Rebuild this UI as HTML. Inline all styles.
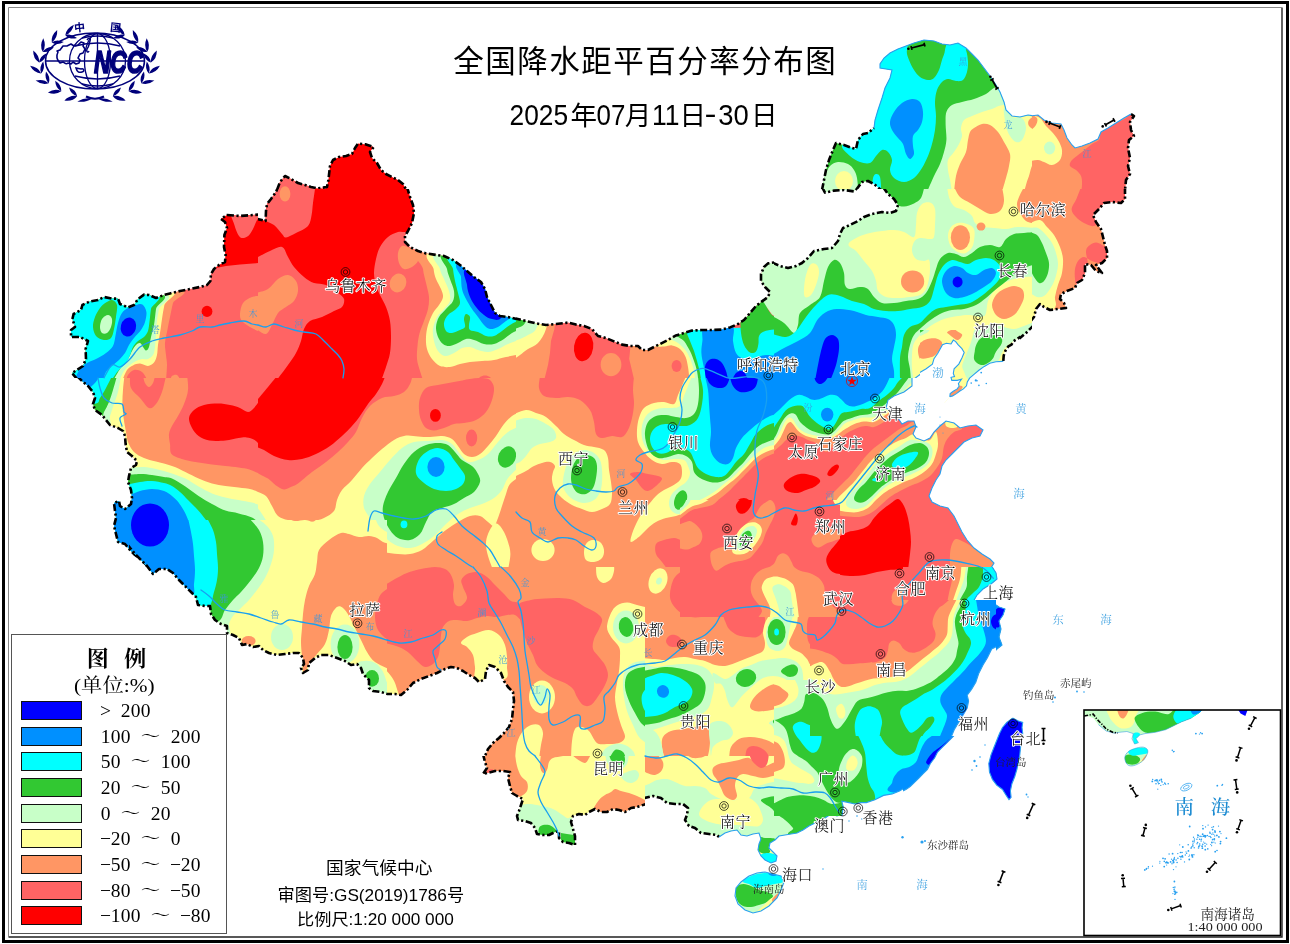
<!DOCTYPE html>
<html lang="zh"><head><meta charset="utf-8"><title>全国降水距平百分率分布图</title>
<style>
html,body{margin:0;padding:0;background:#fff;}
body{width:1290px;height:944px;overflow:hidden;position:relative;font-family:"Liberation Sans","Noto Sans CJK SC",sans-serif;}
svg{position:absolute;left:0;top:0;display:block;}
.nb{fill:none;stroke:#000;stroke-width:2.6;stroke-dasharray:7 2.5 2.2 2.5;stroke-linejoin:round;}
.cb{fill:none;stroke:#28a0f0;stroke-width:1.1;}
.rv{fill:none;stroke:#18a0f0;stroke-width:1.3;stroke-linejoin:round;stroke-linecap:round;}
.pv{fill:none;stroke:#666;stroke-width:0.5;stroke-dasharray:7 3 1 3;}
</style></head><body>
<svg width="1290" height="944" viewBox="0 0 1290 944">
<rect x="0" y="0" width="1290" height="944" fill="#fff"/>
<clipPath id="tc0"><rect x="0" y="189" width="258" height="189"/></clipPath>
<clipPath id="tl0"><path d="M77 379L72 373L77 370L83 366L86 359L85.6 349L88 341L80 337L71 337L71 330L75 327L72.4 319L73.6 314L81 310L82.4 305L90 301.4L98 300L104 297L112 298.6L118 298.6L120 304L128 307.4L134 305L138 299L144 294.6L149 295L156 298L164 295L170 293.4L180 291L190 289L200 287L207 285L210.4 281L211 274L214 269L219 265L225 262L225.6 255L224 247L224.4 235L227 228L225 222L221 219L227 215L240 216L259 214.6L260 379Z"/></clipPath>
<g clip-path="url(#tc0)">
<g clip-path="url(#tl0)">
<rect x="-1" y="188" width="260" height="191" fill="#ff6464"/>
<path d="M216 209L264 209L264 262.6L240 264.6L226 266L216 268Z" fill="#ff0000"/>
<path d="M232 209C227.7 211.7 233.2 220.5 234.4 225C235.6 229.5 237.4 233.8 239 236C240.6 238.2 242.2 238.3 244 238C245.8 237.7 248.1 236.5 250 234C251.9 231.5 253.9 227.2 255.6 223C257.3 218.8 263.9 211.3 260 209C256.1 206.7 236.3 206.3 232 209Z" fill="#ff6464"/>
<ellipse cx="207" cy="311.4" rx="5.4" ry="5.6" fill="#ff0000"/>
<path d="M240 314C240.2 311 241 305.8 243 303C245 300.2 248.8 298.2 252 297C255.2 295.8 259.7 296.2 262 296L262 333C259.2 331.6 253.3 329 250 327C246.7 325 243.7 323.2 242 321C240.3 318.8 239.8 317 240 314Z" fill="#ff9664"/>
<path d="M177 289C195.8 291.3 174.2 298.3 173 303C171.8 307.7 170.9 312.7 170 317C169.1 321.3 168.4 324.7 167.6 329C166.8 333.3 165.3 338.7 165 343C164.7 347.3 165.7 351.3 166 355C166.3 358.7 167 360.7 167 365C167 369.3 166.2 377.3 166 381L60 381C60 359.5 40.5 304.3 60 289C79.5 273.7 158.2 286.7 177 289Z" fill="#ff9664"/>
<path d="M128 375C129.3 373.2 131.7 370.5 134 370C136.3 369.5 139.7 370.2 142 372C144.3 373.8 146.6 378.9 148 381L126 381C126.5 379.6 126.7 376.8 128 375Z" fill="#ff6464"/>
<path d="M170 381C170.5 379.8 170.8 377 172 376C173.2 375 175.5 374.2 177 375C178.5 375.8 180.1 379.6 181 381L170 381Z" fill="#ff9664"/>
<path d="M168 289C185.4 291.7 165.4 300 164.4 305C163.4 310 162.7 314.3 162 319C161.3 323.7 160.7 328.7 160 333C159.3 337.3 158.5 341.3 158 345C157.5 348.7 157.7 352.1 157 355C156.3 357.9 155.5 360.8 154 362.6C152.5 364.4 150.3 365.8 148 366C145.7 366.2 142.5 363.7 140 363.6C137.5 363.5 135.2 364.3 133 365.4C130.8 366.5 128.8 367.4 127 370C125.2 372.6 123.2 378.4 122 381L60 381C60 359.5 42 304.3 60 289C78 273.7 150.6 286.3 168 289Z" fill="#ffff96"/>
<path d="M162.4 293C178.9 296.3 159.9 304.3 159 309C158.1 313.7 157.5 317 157 321C156.5 325 156.3 328.7 156 333C155.7 337.3 155.5 343.3 155 347C154.5 350.7 154.2 353 153 355C151.8 357 149.8 358.3 148 359C146.2 359.7 144 358.7 142 359C140 359.3 138 360 136 361C134 362 132 363.3 130 365C128 366.7 125.8 368.3 124 371C122.2 373.7 120.2 378.7 119 381L60 381C60 359.5 42.9 303.7 60 289C77.1 274.3 145.9 289.7 162.4 293Z" fill="#c8ffc8"/>
<path d="M158.4 293C174.4 296.3 156.7 303.7 156 309C155.3 314.3 154.8 320.3 154 325C153.2 329.7 151.8 333.3 151 337C150.2 340.7 149.8 344.7 149 347C148.2 349.3 147 350.6 146 350.6C145 350.6 144 348.3 143 347C142 345.7 141.2 343.3 140 343C138.8 342.7 137.3 343.7 136 345C134.7 346.3 133.3 348.7 132 351C130.7 353.3 130 356 128 359C126 362 122.5 365.3 120 369C117.5 372.7 114.6 378.2 113 381L60 381C60 359.5 43.6 303.7 60 289C76.4 274.3 142.4 289.7 158.4 293Z" fill="#32c832"/>
<path d="M153.6 293C168.8 296.3 151.7 304.3 151 309C150.3 313.7 150.1 317.3 149.6 321C149.1 324.7 148.9 328.3 148 331C147.1 333.7 145.7 335.3 144 337C142.3 338.7 139.8 339.3 138 341C136.2 342.7 134.3 344.7 133 347C131.7 349.3 131.2 352.3 130 355C128.8 357.7 128 360.3 126 363C124 365.7 120.5 368 118 371C115.5 374 112.6 378.7 111 381L60 381C60 359.5 44.4 303.7 60 289C75.6 274.3 138.4 289.7 153.6 293Z" fill="#00ffff"/>
<path d="M112 300C113.8 300.4 116.3 302.2 117 305C117.7 307.8 116.5 313 116 317C115.5 321 114.8 325.5 114 329C113.2 332.5 112.7 336.2 111 338C109.3 339.8 106.5 340.3 104 340C101.5 339.7 97.8 338.2 96 336C94.2 333.8 93.2 330.2 93 327C92.8 323.8 93.8 320.2 95 317C96.2 313.8 98.2 310.4 100 308C101.8 305.6 104 303.9 106 302.6C108 301.3 110.2 299.6 112 300Z" fill="#32c832"/>
<path d="M108 315C109.7 315 111.5 317 112 319C112.5 321 111.8 324.7 111 327C110.2 329.3 108.5 332 107 333C105.5 334 103.2 334 102 333C100.8 332 100 329.3 100 327C100 324.7 100.7 321 102 319C103.3 317 106.3 315 108 315Z" fill="#c8ffc8"/>
<path d="M128 308C130.3 306.7 133.6 305.6 136 305C138.4 304.4 140.7 303.4 142.4 304.6C144.1 305.8 146 309.1 146.4 312C146.8 314.9 145.9 319 145 322C144.1 325 142.8 327.3 141 330C139.2 332.7 136 335.5 134 338C132 340.5 130.5 342.5 129 345C127.5 347.5 126.7 350.5 125 353C123.3 355.5 121.2 357.8 119 360C116.8 362.2 114.2 364 112 366C109.8 368 107.5 369.5 106 372C104.5 374.5 103.7 378.9 103 381L74 381C75.4 378.2 77.7 372.1 80 369C82.3 365.9 85.3 364.3 88 362.6C90.7 360.9 93 360.6 96 359C99 357.4 103.2 355.2 106 353C108.8 350.8 111.4 349 113 346C114.6 343 114.8 338.8 115.6 335C116.4 331.2 116.9 326.7 118 323C119.1 319.3 120.3 315.5 122 313C123.7 310.5 125.7 309.3 128 308Z" fill="#0090ff"/>
<ellipse cx="128.4" cy="327" rx="7.6" ry="9.6" fill="#0000ff" transform="rotate(15 128.4 327)"/>
</g>
<path class="nb" d="M77 379L72 373L77 370L83 366L86 359L85.6 349L88 341L80 337L71 337L71 330L75 327L72.4 319L73.6 314L81 310L82.4 305L90 301.4L98 300L104 297L112 298.6L118 298.6L120 304L128 307.4L134 305L138 299L144 294.6L149 295L156 298L164 295L170 293.4L180 291L190 289L200 287L207 285L210.4 281L211 274L214 269L219 265L225 262L225.6 255L224 247L224.4 235L227 228L225 222L221 219L227 215L240 216L259 214.6"/>
</g>
<clipPath id="tc1"><rect x="258" y="189" width="258" height="189"/></clipPath>
<clipPath id="tl1"><path d="M256 218.6L265.6 221L266 211L267 204L271 199L276 192L278 187L407 187L410 197L413 205L414 213L412 223L408 231L405 236L405 242L410 247L418 251L426 253.4L434 254.6L444 256L453 260L460 265L467 271L474 277L481 282L485 289L487 297L491 305L495 313L500 316L508 317L518 319.4L518 381L256 381Z"/></clipPath>
<g clip-path="url(#tc1)">
<g clip-path="url(#tl1)">
<rect x="257" y="188" width="260" height="191" fill="#ff6464"/>
<path d="M254 217L254 259C257.7 257.1 265.3 253 270 251C274.7 249 279 246 282 247C285 248 286 253.7 288 257C290 260.3 291.3 263.7 294 267C296.7 270.3 300.7 274.3 304 277C307.3 279.7 310.3 281.7 314 283C317.7 284.3 322 283.3 326 285C330 286.7 335 290.7 338 293C341 295.3 343.3 296.7 344 299C344.7 301.3 343.7 305 342 307C340.3 309 337.3 309.3 334 311C330.7 312.7 326 315.3 322 317C318 318.7 313 319 310 321C307 323 305.5 325.7 304 329C302.5 332.3 302.3 337 301 341C299.7 345 298.2 349 296 353C293.8 357 291.3 360.3 288 365C284.7 369.7 278.8 377.3 276 381L381 381C382.2 377.7 384.5 371.7 386 367C387.5 362.3 389.2 358 390 353C390.8 348 391 342.3 391 337C391 331.7 390.8 326 390 321C389.2 316 387.7 311.3 386 307C384.3 302.7 381.7 298.7 380 295C378.3 291.3 377 288.7 376 285C375 281.3 374 277.3 374 273C374 268.7 375 263.3 376 259C377 254.7 378 250.7 380 247C382 243.3 385 239.5 388 237C391 234.5 394.3 233.2 398 232C401.7 230.8 406.7 233.8 410 230C413.3 226.2 417.3 216.5 418 209C418.7 201.5 414.9 190.6 414 185L254 185L254 217Z" fill="#ff0000"/>
<path d="M262 219C265.3 221.7 270.7 222.5 274 225C277.3 227.5 280 231.9 282 234C284 236.1 283.7 237.6 286 237.4C288.3 237.2 292.3 234.9 296 233C299.7 231.1 305.4 229 308 226C310.6 223 310.8 218.8 311.6 215C312.4 211.2 312.3 208 313 203C313.7 198 315 189.2 315.6 185L254 185L254 209C255.9 211.3 258.7 216.3 262 219Z" fill="#ff6464"/>
<ellipse cx="285" cy="194" rx="5.4" ry="7.6" fill="#ff9664"/>
<path d="M256 293C258.8 292.1 264.3 291.3 268 289C271.7 286.7 274.7 281.3 278 279C281.3 276.7 285 274.7 288 275C291 275.3 294.3 278.3 296 281C297.7 283.7 298.3 287.7 298 291C297.7 294.3 296 298.3 294 301C292 303.7 288.7 305 286 307C283.3 309 280.3 310 278 313C275.7 316 274 321.5 272 325C270 328.5 268.7 333.3 266 334C263.3 334.7 258.3 330.2 256 329L256 293Z" fill="#ff9664"/>
<path d="M402 246C404 245.2 407.3 246.8 410 248C412.7 249.2 416.7 250.8 418 253C419.3 255.2 419 258.7 418 261C417 263.3 414.3 265.7 412 267C409.7 268.3 406.2 269.7 404 269C401.8 268.3 400 265.7 399 263C398 260.3 397.5 255.8 398 253C398.5 250.2 400 246.8 402 246Z" fill="#ff9664"/>
<ellipse cx="398" cy="283" rx="8.2" ry="9.6" fill="#ff9664" transform="rotate(20 398 283)"/>
<path d="M422.4 249C405.9 252.3 422.4 263.3 423 269C423.6 274.7 425 278.3 426 283C427 287.7 428.7 292.7 429 297C429.3 301.3 428.8 305 428 309C427.2 313 425.4 317 424 321C422.6 325 420.7 329 419.6 333C418.5 337 418 340.7 417.6 345C417.2 349.3 416.6 354.7 417 359C417.4 363.3 418.8 367 420 371C421.2 375 423.1 380.2 424 383L522 383L522 249C498.8 249 438.9 245.7 422.4 249Z" fill="#ff9664"/>
<path d="M478 381C478.5 380.1 478.8 377.9 480 377C481.2 376.1 483.3 375.4 485 375.4C486.7 375.4 488.8 376.1 490 377C491.2 377.9 491.5 380.1 492 381L478 381Z" fill="#ff6464"/>
<path d="M433 251C418.3 254.3 433.1 264.3 433.6 269C434.1 273.7 434.8 275.7 436 279C437.2 282.3 439.8 286 441 289C442.2 292 443.3 294.3 443 297C442.7 299.7 440.7 302.3 439 305C437.3 307.7 434.8 309.7 433 313C431.2 316.3 429.2 321 428 325C426.8 329 426.2 333 426 337C425.8 341 426 345.3 427 349C428 352.7 429.8 356.2 432 359C434.2 361.8 437 364.7 440 366C443 367.3 446.7 367.3 450 367C453.3 366.7 456.7 364.8 460 364C463.3 363.2 466.3 362.5 470 362C473.7 361.5 478 361.3 482 361C486 360.7 490 360.7 494 360C498 359.3 501.3 358 506 357C510.7 356 518.3 354.7 522 354L522 249C501.2 249.5 447.7 247.7 433 251Z" fill="#ffff96"/>
<path d="M439 251C425.3 254.3 439.2 264.3 440 269C440.8 273.7 442.5 275.3 444 279C445.5 282.7 448 287.3 449 291C450 294.7 450.8 298 450 301C449.2 304 446.2 306.3 444 309C441.8 311.7 438.8 313.7 437 317C435.2 320.3 433.5 325 433 329C432.5 333 433.2 337.3 434 341C434.8 344.7 436.2 348.5 438 351C439.8 353.5 442.3 355.7 445 356C447.7 356.3 451.2 354.3 454 353C456.8 351.7 459.3 349 462 348C464.7 347 467.3 346.7 470 347C472.7 347.3 475 349.2 478 350C481 350.8 484.7 352.2 488 352C491.3 351.8 494.7 350.3 498 349C501.3 347.7 504 345.7 508 344C512 342.3 518.7 340.2 522 339L522 249C502.6 249.5 452.7 247.7 439 251Z" fill="#c8ffc8"/>
<path d="M446 251C433.5 254.3 446.3 264.3 447 269C447.7 273.7 448.8 275.3 450 279C451.2 282.7 453.5 287.3 454 291C454.5 294.7 454.3 298 453 301C451.7 304 448.3 306.3 446 309C443.7 311.7 440.7 314 439 317C437.3 320 436.2 323.7 436 327C435.8 330.3 436.8 334.2 438 337C439.2 339.8 441 342.5 443 344C445 345.5 447.5 346.2 450 346C452.5 345.8 455.3 344.2 458 343C460.7 341.8 463.3 339.5 466 339C468.7 338.5 471 339.2 474 340C477 340.8 480.7 343.3 484 344C487.3 344.7 490.7 344.8 494 344C497.3 343.2 501 340.8 504 339C507 337.2 509 334.8 512 333C515 331.2 519.7 329.2 522 328L522 249C504.3 249.5 458.5 247.7 446 251Z" fill="#32c832"/>
<path d="M452 253C440.5 256.3 452.5 264.3 453 269C453.5 273.7 454.2 277 455 281C455.8 285 457.2 289.3 458 293C458.8 296.7 460.3 300.3 460 303C459.7 305.7 458 307 456 309C454 311 450 312.7 448 315C446 317.3 444.3 320.3 444 323C443.7 325.7 444.7 329.3 446 331C447.3 332.7 449.7 333.2 452 333C454.3 332.8 457.8 331 460 330C462.2 329 464.3 328.8 465 327C465.7 325.2 463.8 321.2 464 319C464.2 316.8 465 314.3 466 314C467 313.7 469.5 315.2 470 317C470.5 318.8 469 322.8 469 325C469 327.2 468.5 328.8 470 330C471.5 331.2 475.3 331 478 332C480.7 333 483.3 335.3 486 336C488.7 336.7 491.3 336.8 494 336C496.7 335.2 499.3 332.8 502 331C504.7 329.2 506.7 327 510 325C513.3 323 519.2 320.4 522 319L522 249C505.7 249.9 463.5 249.7 452 253Z" fill="#00ffff"/>
<path d="M460 261C450.5 265.7 460.7 272.3 461 277C461.3 281.7 461.2 285.3 462 289C462.8 292.7 464.3 295.7 466 299C467.7 302.3 470 306 472 309C474 312 476 314.3 478 317C480 319.7 482 323 484 325C486 327 487.7 328.7 490 329C492.3 329.3 495.3 328.3 498 327C500.7 325.7 502.7 323.3 506 321C509.3 318.7 515.2 314.9 518 313L518 249C504.5 251.8 469.5 256.3 460 261Z" fill="#0090ff"/>
<path d="M468 269C459.5 268.3 466.7 280.3 467 285C467.3 289.7 468.5 293.3 470 297C471.5 300.7 473.7 304 476 307C478.3 310 481.3 313 484 315C486.7 317 489 318.7 492 319C495 319.3 497.7 322 502 317C506.3 312 523.7 297 518 289C512.3 281 476.5 269.7 468 269Z" fill="#0000ff"/>
</g>
<path class="nb" d="M256 218.6L265.6 221L266 211L267 204L271 199L276 192L278 187"/>
<path class="nb" d="M407 187L410 197L413 205L414 213L412 223L408 231L405 236L405 242L410 247L418 251L426 253.4L434 254.6L444 256L453 260L460 265L467 271L474 277L481 282L485 289L487 297L491 305L495 313L500 316L508 317L518 319.4"/>
</g>
<clipPath id="tc2"><rect x="258" y="0" width="258" height="189"/></clipPath>
<clipPath id="tl2"><path d="M277 190L280 182L285 176L291 179L298 183L305 185L311 187L318 188.4L327 187L328.4 180L330 166L333 160L339 157L346 156L352 154L355 148L358 143.6L366 144.4L373.6 147L370 152L372 158L377 163L381 170L386 174L392 177L398 180L403 184L406.4 190Z"/></clipPath>
<g clip-path="url(#tc2)">
<g clip-path="url(#tl2)">
<rect x="257" y="-1" width="260" height="191" fill="#ff0000"/>
<path d="M274 192L274 172L326 172L326 192Z" fill="#ff6464"/>
<ellipse cx="285" cy="193.8" rx="5.4" ry="7.6" fill="#ff9664"/>
</g>
<path class="nb" d="M277 190L280 182L285 176L291 179L298 183L305 185L311 187L318 188.4L327 187L328.4 180L330 166L333 160L339 157L346 156L352 154L355 148L358 143.6L366 144.4L373.6 147L370 152L372 158L377 163L381 170L386 174L392 177L398 180L403 184L406.4 190"/>
</g>
<clipPath id="tc3"><rect x="0" y="378" width="258" height="189"/></clipPath>
<clipPath id="tl3"><path d="M77 376L82 381L88 386L93 392L95 398L93 404L95 410L102 415L106 420L110 425L118 428L123 431L125 436L125.6 444L127 452L132 456L137 461L136 465L131 468L129 476L128 482L131 490L132 498L131 504L125 509L120 506L119 501L114 503L115 511L116 518L114 526L116 534L118 542L125 544L130 550L135 555L142 560L149 568L260 568L260 376Z"/></clipPath>
<g clip-path="url(#tc3)">
<g clip-path="url(#tl3)">
<rect x="-1" y="377" width="260" height="191" fill="#ff9664"/>
<path d="M130 376C130.2 378.8 129.3 384.3 131 388C132.7 391.7 137 394.7 140 398C143 401.3 146.3 407 149 408C151.7 409 153.8 406.7 156 404C158.2 401.3 160.3 396.7 162 392C163.7 387.3 165.1 379.7 166 376L130 376Z" fill="#ff6464"/>
<path d="M143 376C143.5 377.6 144 381.2 145 383C146 384.8 147.7 387 149 387C150.3 387 152 384.8 153 383C154 381.2 154.5 377.6 155 376L143 376Z" fill="#ff9664"/>
<path d="M187 374C187.2 377.7 188.5 385 188 390C187.5 395 185.7 399.7 184 404C182.3 408.3 180 412.3 178 416C176 419.7 173.5 423 172 426C170.5 429 169.3 431 169 434C168.7 437 169.5 440.6 170 444C170.5 447.4 169.4 451.9 172 454.6C174.6 457.3 181 458.7 185.4 460C189.8 461.3 194.2 461.8 198.6 462.6C203 463.4 207.5 464 212 464.6C216.5 465.2 221 465.5 225.4 466C229.8 466.5 234.6 466.8 238.6 467.4C242.6 468 246.1 468.4 249.4 469.4C252.7 470.4 255.5 471.9 258.6 473.4C261.7 474.9 265.8 477.4 268 478.6L268 374L187 374Z" fill="#ff6464"/>
<path d="M189 418C189.3 415 191.5 412.2 194 410C196.5 407.8 200 406.1 204 405C208 403.9 213.7 403.6 218 403.6C222.3 403.6 226.3 404.3 230 405C233.7 405.7 237 406.8 240 408C243 409.2 245.7 412 248 412C250.3 412 252 410 254 408C256 406 258.6 401.9 260 400L268 418L268 454L262.6 448C260.7 446.1 257.3 441.8 254.6 440C251.9 438.2 249.3 437.7 246.6 437.4C243.9 437.1 242.1 437.5 238.6 438C235.1 438.5 230.3 440.2 225.4 440.6C220.5 441 213.9 441.4 209.4 440.6C204.9 439.8 201.5 438.1 198.6 436C195.7 433.9 193.6 431 192 428C190.4 425 188.7 421 189 418Z" fill="#ff0000"/>
<path d="M124.4 376C124.1 379.3 123.3 385.3 123 390C122.7 394.7 122.3 399.3 122.4 404C122.5 408.7 123 413.3 123.6 418C124.2 422.7 125.3 428 126 432C126.7 436 126.7 438.7 128 442C129.3 445.3 131.3 449.3 134 452C136.7 454.7 140.3 456.4 144 458C147.7 459.6 151.3 460.3 156 461.6C160.7 462.9 167.1 464.3 172 466C176.9 467.7 181 469.9 185.4 472C189.8 474.1 194.2 476.7 198.6 478.6C203 480.5 207.5 482.2 212 483.4C216.5 484.6 221 485.3 225.4 486C229.8 486.7 234.2 486.8 238.6 487.4C243 488 248 488.2 252 489.4C256 490.6 260.1 493.4 262.6 494.6L269.4 501.4L269.4 572L60 572L60 376L124.4 376Z" fill="#ffff96"/>
<path d="M121 376C120.3 379.7 119.2 387.3 118 392C116.8 396.7 115.3 400 114 404C112.7 408 111.3 412 110 416C108.7 420 114.3 426 106 428C97.7 430 67.7 436.7 60 428C52.3 419.3 60 388.1 60 376L121 376Z" fill="#c8ffc8"/>
<path d="M117 376C116.1 379.3 114.3 385.7 113 390C111.7 394.3 110.5 398.3 109 402C107.5 405.7 105.8 409 104 412C102.2 415 105.3 418.7 98 420C90.7 421.3 66.3 427.3 60 420C53.7 412.7 60 386.3 60 376L117 376Z" fill="#32c832"/>
<path d="M112 376C110.6 378.8 108 384.3 106 388C104 391.7 102 395.3 100 398C98 400.7 100.7 403 94 404C87.3 405 65.7 408.7 60 404C54.3 399.3 60 382.5 60 376L112 376Z" fill="#00ffff"/>
<path d="M100 376C98.6 377.9 96.3 382 94 384C91.7 386 91.7 387.3 86 388C80.3 388.7 64.3 390 60 388C55.7 386 60 378.8 60 376L100 376Z" fill="#0090ff"/>
<path d="M120 468C132 467.9 128 467.8 132 467.6C136 467.4 140 466.8 144 467C148 467.2 151.3 467.9 156 469C160.7 470.1 167.1 471.8 172 473.4C176.9 475 181 476.4 185.4 478.6C189.8 480.8 194.2 484.1 198.6 486.6C203 489.1 207.5 491.6 212 493.4C216.5 495.2 221 496.3 225.4 497.4C229.8 498.5 234.2 499.1 238.6 500C243 500.9 248.4 501.7 252 502.6C255.6 503.5 258.1 504.7 260 505.4L264 512L266.6 521.4L270.6 530.6L270.6 572L60 572C60 547.7 50 485.3 60 468C70 450.7 108 468.1 120 468Z" fill="#c8ffc8"/>
<path d="M120 475C133.3 474.8 134.7 474 140 474C145.3 474 148 474.5 152 475C156 475.5 160.7 476.4 164 477C167.3 477.6 168.4 477 172 478.6C175.6 480.2 181 483.7 185.4 486.6C189.8 489.5 194.2 493.1 198.6 496C203 498.9 207.5 501.6 212 504C216.5 506.4 221 509 225.4 510.6C229.8 512.2 234.2 512.3 238.6 513.4C243 514.5 248.9 515.9 252 517.4C255.1 518.9 256.1 520.4 257.4 522.6C258.7 524.8 259.4 528.7 260 530.6L262.6 540L264 546L264 572L60 572C60 549.4 50 491.2 60 475C70 458.8 106.7 475.2 120 475Z" fill="#32c832"/>
<path d="M120 485C131.7 484.8 126.7 484.5 130 484C133.3 483.5 136.3 482.5 140 482C143.7 481.5 148 480.8 152 481C156 481.2 160.7 482.2 164 483C167.3 483.8 169.3 484.5 172 486C174.7 487.5 177.3 489.7 180 492C182.7 494.3 185.3 497.3 188 500C190.7 502.7 193.3 505.1 196 508C198.7 510.9 201.6 514.3 204 517.4C206.4 520.5 208.8 523.5 210.6 526.6C212.4 529.7 213.6 532.8 214.6 536C215.6 539.2 216 540 216.6 546C217.2 552 217.7 565.9 218 572L60 572C60 551.7 50 499.5 60 485C70 470.5 108.3 485.2 120 485Z" fill="#00ffff"/>
<path d="M120 496C132 495.7 128.7 494.8 132 494C135.3 493.2 136.7 491.8 140 491C143.3 490.2 148 489 152 489C156 489 160.7 489.8 164 491C167.3 492.2 169.6 494.1 172 496C174.4 497.9 176.4 499.7 178.6 502.6C180.8 505.5 183.6 509.8 185.4 513.4C187.2 517 188.3 520.5 189.4 524C190.5 527.5 191.3 530.9 192 534.6C192.7 538.3 193.1 542.1 193.4 546C193.7 549.9 193.7 553.7 194 558C194.3 562.3 194.8 568.7 195 572L60 572C60 554.3 50 508.7 60 496C70 483.3 108 496.3 120 496Z" fill="#0090ff"/>
<ellipse cx="150" cy="525" rx="19" ry="21.6" fill="#0000ff"/>
</g>
<path class="nb" d="M77 376L82 381L88 386L93 392L95 398L93 404L95 410L102 415L106 420L110 425L118 428L123 431L125 436L125.6 444L127 452L132 456L137 461L136 465L131 468L129 476L128 482L131 490L132 498L131 504L125 509L120 506L119 501L114 503L115 511L116 518L114 526L116 534L118 542L125 544L130 550L135 555L142 560L149 568"/>
</g>
<clipPath id="tc4"><rect x="258" y="378" width="258" height="189"/></clipPath>
<clipPath id="tl4"><path d="M256 376L518 376L518 570L256 570Z"/></clipPath>
<g clip-path="url(#tc4)">
<g clip-path="url(#tl4)">
<rect x="257" y="377" width="260" height="191" fill="#ff9664"/>
<path d="M254 471C255.9 472 259.7 474.1 262 475.4C264.3 476.7 265.7 476.9 268 478.6C270.3 480.3 273.3 483.6 276 485.4C278.7 487.2 281.3 489.2 284 489.4C286.7 489.6 289.7 487.6 292 486.6C294.3 485.6 294.7 486 298 483.6C301.3 481.2 307.3 475.6 312 472C316.7 468.4 321.7 465.3 326 462C330.3 458.7 334.3 455.3 338 452C341.7 448.7 345 445.3 348 442C351 438.7 353.7 436 356 432C358.3 428 359.7 422.3 362 418C364.3 413.7 366.7 409.3 370 406C373.3 402.7 378 399.7 382 398C386 396.3 390.3 397 394 396C397.7 395 401.3 394 404 392C406.7 390 408.5 387 410 384C411.5 381 412.3 376.3 413 374L254 374L254 471Z" fill="#ff6464"/>
<path d="M254 446C256.3 446.9 260.7 448.3 264 450C267.3 451.7 270 454.3 274 456C278 457.7 283.3 459.5 288 460C292.7 460.5 297.3 460 302 459C306.7 458 311.3 456.2 316 454C320.7 451.8 325.7 449 330 446C334.3 443 338.3 439.3 342 436C345.7 432.7 349 429.3 352 426C355 422.7 357.3 419.7 360 416C362.7 412.3 365.3 407.7 368 404C370.7 400.3 373.7 397.3 376 394C378.3 390.7 380.3 387.3 382 384C383.7 380.7 385.1 376.3 386 374L254 374L254 446Z" fill="#ff0000"/>
<path d="M256 376L277 376L268 387L258 399L256 400Z" fill="#ff6464"/>
<path d="M420 398C421.2 394.3 423 390.2 426 388C429 385.8 433.3 386 438 385C442.7 384 448.7 383 454 382C459.3 381 465.3 379.7 470 379C474.7 378.3 478.7 377.8 482 378C485.3 378.2 488 378.3 490 380C492 381.7 493.7 384.7 494 388C494.3 391.3 493.3 396 492 400C490.7 404 488.7 408.7 486 412C483.3 415.3 479.7 418.2 476 420C472.3 421.8 467.7 422.3 464 423C460.3 423.7 457.3 423.2 454 424C450.7 424.8 447.3 426.9 444 428C440.7 429.1 437 430.4 434 430.4C431 430.4 428.2 429.7 426 428C423.8 426.3 422.2 423 421 420C419.8 417 419.2 413.7 419 410C418.8 406.3 418.8 401.7 420 398Z" fill="#ff6464"/>
<ellipse cx="435.4" cy="415.4" rx="5.4" ry="6.4" fill="#ff0000"/>
<ellipse cx="471.6" cy="438" rx="5.6" ry="8.4" fill="#ff6464"/>
<path d="M256 491C258.3 492.2 263.3 493.5 266 496C268.7 498.5 270 502.7 272 506C274 509.3 275.3 513.7 278 516C280.7 518.3 284.3 519.3 288 520C291.7 520.7 296 520.2 300 520.4C304 520.6 308 521.4 312 521C316 520.6 320.3 519.7 324 518C327.7 516.3 331.8 514 334 511C336.2 508 335.7 503.5 337 500C338.3 496.5 339.5 493.3 342 490C344.5 486.7 348.7 483.7 352 480C355.3 476.3 358.7 471.7 362 468C365.3 464.3 368.7 461.2 372 458C375.3 454.8 378.3 452 382 449C385.7 446 390 442.2 394 440C398 437.8 402 436.2 406 435.6C410 435 414 436.2 418 436.4C422 436.6 426 437.1 430 437C434 436.9 438.3 435.7 442 436C445.7 436.3 449.3 437.3 452 439C454.7 440.7 456 443.5 458 446C460 448.5 461.7 452.2 464 454C466.3 455.8 469.3 457 472 457C474.7 457 477.3 455.8 480 454C482.7 452.2 485.3 449 488 446C490.7 443 493.3 439.7 496 436C498.7 432.3 501.3 427.3 504 424C506.7 420.7 509.3 418 512 416C514.7 414 518.1 412.9 520 412L520 476C517.7 477.9 512.3 481 510 484C507.7 487 507.3 490.3 506 494C504.7 497.7 503.3 502 502 506C500.7 510 499.3 514.7 498 518C496.7 521.3 495.7 525.3 494 526C492.3 526.7 490.3 523.7 488 522C485.7 520.3 483 517 480 516C477 515 473.7 515 470 516C466.3 517 462 519.7 458 522C454 524.3 450 527 446 530C442 533 438 536.7 434 540C430 543.3 426 547.7 422 550C418 552.3 414 553.3 410 554C406 554.7 402.3 554.3 398 554C393.7 553.7 388 553.3 384 552C380 550.7 377.3 548 374 546C370.7 544 367.3 541.7 364 540C360.7 538.3 357.3 537.2 354 536C350.7 534.8 347.3 533.2 344 533C340.7 532.8 337 533.5 334 535C331 536.5 328.3 538.8 326 542C323.7 545.2 321.3 549.3 320 554C318.7 558.7 318.5 566.3 318 570L256 570L256 491Z" fill="#ffff96"/>
<path d="M494 524C492.2 525.5 489.3 530.7 488 534C486.7 537.3 486 540.3 486 544C486 547.7 486.8 551.7 488 556C489.2 560.3 491.8 566.7 493 570L508 570C508.6 566.3 510.4 558.7 510.4 554C510.4 549.3 509.1 545.7 508 542C506.9 538.3 505.5 534.8 504 532C502.5 529.2 500.7 526.3 499 525C497.3 523.7 495.8 522.5 494 524Z" fill="#ffff96"/>
<path d="M256 506C257.4 507.9 260 511 262 514C264 517 266.2 520.3 268 524C269.8 527.7 271.7 532 273 536C274.3 540 275.8 544 276 548C276.2 552 275.2 556.3 274 560C272.8 563.7 270.2 567.7 269 570L256 570L256 506Z" fill="#c8ffc8"/>
<path d="M364 496C365 492 367.3 488 370 484C372.7 480 376.7 476 380 472C383.3 468 386.3 464 390 460C393.7 456 398 451 402 448C406 445 409.7 443.2 414 442C418.3 440.8 423.3 441.3 428 441C432.7 440.7 438 439.5 442 440C446 440.5 449 441.7 452 444C455 446.3 457.3 451 460 454C462.7 457 465 461 468 462C471 463 474.7 461.3 478 460C481.3 458.7 484.7 457 488 454C491.3 451 494.7 445.7 498 442C501.3 438.3 504.3 434.7 508 432C511.7 429.3 517.2 427.4 520 426L520 466C517.2 468.8 511 474 508 478C505 482 504.3 486.7 502 490C499.7 493.3 497.3 495.7 494 498C490.7 500.3 486 502.3 482 504C478 505.7 474 506.3 470 508C466 509.7 462 511.3 458 514C454 516.7 450 520.3 446 524C442 527.7 438 532.7 434 536C430 539.3 426 542 422 544C418 546 414 547.7 410 548C406 548.3 401.7 547.3 398 546C394.3 544.7 391.3 542.7 388 540C384.7 537.3 381 533.7 378 530C375 526.3 372.3 521.7 370 518C367.7 514.3 365 511.7 364 508C363 504.3 363 500 364 496Z" fill="#c8ffc8"/>
<path d="M383 506C383.7 501.7 385.8 496.7 388 492C390.2 487.3 393.3 482.7 396 478C398.7 473.3 401 468.3 404 464C407 459.7 410.3 455.2 414 452C417.7 448.8 422 446.5 426 445C430 443.5 434.3 443 438 443C441.7 443 445.2 443.5 448 445C450.8 446.5 452.7 449.5 455 452C457.3 454.5 459.2 457.7 462 460C464.8 462.3 469.3 463.7 472 466C474.7 468.3 476.7 471.3 478 474C479.3 476.7 480.7 479 480 482C479.3 485 476.7 489.3 474 492C471.3 494.7 467.3 496 464 498C460.7 500 457.7 502.3 454 504C450.3 505.7 445.7 506.7 442 508C438.3 509.3 434.7 509.7 432 512C429.3 514.3 428 518.3 426 522C424 525.7 422.7 531 420 534C417.3 537 413.7 539.3 410 540C406.3 540.7 401.3 539.7 398 538C394.7 536.3 392.3 533.3 390 530C387.7 526.7 385.2 522 384 518C382.8 514 382.3 510.3 383 506Z" fill="#32c832"/>
<path d="M256 524C257.2 526.3 259.8 530.7 261 534C262.2 537.3 263 540.3 263 544C263 547.7 262.2 552.8 261 556C259.8 559.2 257.2 561.4 256 563L256 524Z" fill="#32c832"/>
<ellipse cx="507" cy="457" rx="8.6" ry="11" fill="#32c832" transform="rotate(25 507 457)"/>
<path d="M416 468C416.5 465 418 460.8 420 458C422 455.2 425 452.7 428 451C431 449.3 434.7 447.8 438 448C441.3 448.2 445.3 450 448 452C450.7 454 452 457.3 454 460C456 462.7 458.2 465.3 460 468C461.8 470.7 464.5 473.3 465 476C465.5 478.7 464.5 481.8 463 484C461.5 486.2 458.8 487.8 456 489C453.2 490.2 449.7 491 446 491C442.3 491 437.7 490.3 434 489C430.3 487.7 426.8 485.2 424 483C421.2 480.8 418.3 478.5 417 476C415.7 473.5 415.5 471 416 468Z" fill="#00ffff"/>
<ellipse cx="404" cy="524.4" rx="3.4" ry="3.8" fill="#00ffff"/>
<ellipse cx="436" cy="467" rx="8.6" ry="10" fill="#0090ff"/>
</g>
</g>
<clipPath id="tc5"><rect x="129" y="520" width="258" height="189"/></clipPath>
<clipPath id="tl5"><path d="M127 544L135 554L141 560L147 566L153 574L159 569L167 569L173 573L179 580L185 586L191 592L196 597L198 605L205 606L210 606L211 614L215 620L221 624L227 626L227 633L233 635L239 638L242 645L247 644L253 647L259 646L263 650L269 653L277 655L285 654L293 653L299 653L303 658L304 664L301 668L303 673L308 670L309 663L315 658L321 655L329 655L337 658L345 661L351 665L357 664L361 668L363 674L369 680L369 688L373 691L381 692L389 694.4L389 518L127 518Z"/></clipPath>
<g clip-path="url(#tc5)">
<g clip-path="url(#tl5)">
<rect x="128" y="519" width="260" height="191" fill="#ffff96"/>
<path d="M341 533C337.7 534 332.7 537.2 329 540C325.3 542.8 321 546.3 319 550C317 553.7 317.7 558 317 562C316.3 566 316.3 570 315 574C313.7 578 310.7 581.7 309 586C307.3 590.3 306 595.3 305 600C304 604.7 303.5 609.3 303 614C302.5 618.7 302.3 623.3 302 628C301.7 632.7 301 637.3 301 642C301 646.7 301.5 650.7 302 656C302.5 661.3 302.8 672.7 304 674C305.2 675.3 306.8 667.3 309 664C311.2 660.7 314.3 657.3 317 654C319.7 650.7 323 648 325 644C327 640 328 634.7 329 630C330 625.3 329.7 619.8 331 616C332.3 612.2 335 608.3 337 607C339 605.7 341 606.5 343 608C345 609.5 347 612.7 349 616C351 619.3 353 624 355 628C357 632 359 636 361 640C363 644 364.7 648.3 367 652C369.3 655.7 371 659 375 662C379 665 387.3 668.1 391 670L391 544C389.1 543.5 385.3 543 383 542C380.7 541 379.3 539 377 538C374.7 537 372 536.2 369 536C366 535.8 362.3 537.3 359 537C355.7 536.7 352 534.7 349 534C346 533.3 344.3 532 341 533Z" fill="#ff9664"/>
<ellipse cx="248.6" cy="641" rx="7" ry="5" fill="#ff9664"/>
<path d="M287 518C288.9 518.7 292 520.7 295 521C298 521.3 302 519.9 305 520C308 520.1 310.8 521.9 313 521.6C315.2 521.3 316.8 518.8 318 518L287 518Z" fill="#ff9664"/>
<path d="M391 586C388.7 587.9 383.3 591 381 594C378.7 597 378 600.3 377 604C376 607.7 375 612 375 616C375 620 375.7 624.7 377 628C378.3 631.3 380.7 633.7 383 636C385.3 638.3 389.1 640.6 391 642L391 586Z" fill="#ff6464"/>
<path d="M257 518C259.3 519.9 264.3 523 267 526C269.7 529 271.8 532 273 536C274.2 540 274.3 545.3 274 550C273.7 554.7 272.5 559.3 271 564C269.5 568.7 267.3 573.7 265 578C262.7 582.3 259.7 586.3 257 590C254.3 593.7 251.7 597 249 600C246.3 603 243.7 605.3 241 608C238.3 610.7 235 613.3 233 616C231 618.7 230 620.7 229 624C228 627.3 233.7 634 227 636C220.3 638 205.7 645.3 189 636C172.3 626.7 141.5 593.1 127 580L127 518L257 518Z" fill="#c8ffc8"/>
<ellipse cx="282" cy="637" rx="11" ry="13" fill="#c8ffc8"/>
<ellipse cx="345" cy="644" rx="14.4" ry="19.6" fill="#c8ffc8"/>
<ellipse cx="345" cy="647" rx="7.6" ry="12" fill="#32c832"/>
<path d="M357 666C358 660.2 362 661.5 365 661C368 660.5 372.2 661.5 375 663C377.8 664.5 380.2 667.2 382 670C383.8 672.8 384.8 675.7 386 680C387.2 684.3 393.5 693.3 389 696C384.5 698.7 364.3 701 359 696C353.7 691 356 671.8 357 666Z" fill="#c8ffc8"/>
<ellipse cx="372" cy="678.4" rx="7" ry="8.4" fill="#32c832"/>
<path d="M375 518C375.9 519.9 377.3 523.8 379 526C380.7 528.2 383 529.8 385 531C387 532.2 389.6 532.5 391 533L391 518L375 518Z" fill="#c8ffc8"/>
<path d="M249 518C251.3 520.8 256.7 526 259 530C261.3 534 262.3 537.7 263 542C263.7 546.3 263.7 551.7 263 556C262.3 560.3 261 564 259 568C257 572 254 576 251 580C248 584 244 588.7 241 592C238 595.3 235.7 597 233 600C230.3 603 227.7 606.3 225 610C222.3 613.7 223 620 217 622C211 624 204 629 189 622C174 615 141.5 589.8 127 580L127 518L249 518Z" fill="#32c832"/>
<path d="M207 518C208.4 520.8 211.5 526 213 530C214.5 534 215.3 538 216 542C216.7 546 216.7 549.7 217 554C217.3 558.3 218 563.7 218 568C218 572.3 217.7 576 217 580C216.3 584 215.5 587.3 214 592C212.5 596.7 212.2 605.3 208 608C203.8 610.7 202.5 612.7 189 608C175.5 603.3 141.5 586.5 127 580L127 518L207 518Z" fill="#00ffff"/>
<path d="M188 518C188.7 521.3 190.2 527.7 191 532C191.8 536.3 192.5 540 193 544C193.5 548 193.7 551.7 194 556C194.3 560.3 195 565.3 195 570C195 574.7 194.5 579.7 194 584C193.5 588.3 196.2 594 192 596C187.8 598 179.8 598.7 169 596C158.2 593.3 136.8 583.7 127 580L127 518L188 518Z" fill="#0090ff"/>
<ellipse cx="150" cy="525" rx="19" ry="21.6" fill="#0000ff"/>
</g>
<path class="nb" d="M127 544L135 554L141 560L147 566L153 574L159 569L167 569L173 573L179 580L185 586L191 592L196 597L198 605L205 606L210 606L211 614L215 620L221 624L227 626L227 633L233 635L239 638L242 645L247 644L253 647L259 646L263 650L269 653L277 655L285 654L293 653L299 653L303 658L304 664L301 668L303 673L308 670L309 663L315 658L321 655L329 655L337 658L345 661L351 665L357 664L361 668L363 674L369 680L369 688L373 691L381 692L389 694.4"/>
</g>
<clipPath id="tc6"><rect x="387" y="567" width="258" height="189"/></clipPath>
<clipPath id="tl6"><path d="M385 694L395 694L401 695L407 690L413 683L421 679L429 676L437 673L445 669L451 667L457 668L463 671L469 675L475 678L479 682L485 679L486 671L489 665L495 667L501 673L504 681L508 687L513 692L514 701L513 709L512 719L509 727L504 733L499 738L493 743L488 749L484.6 757L647 757L647 565L385 565Z"/></clipPath>
<g clip-path="url(#tc6)">
<g clip-path="url(#tl6)">
<rect x="386" y="566" width="260" height="191" fill="#ff9664"/>
<path d="M385 585C387.3 583.6 391.3 581 395 579C398.7 577 402.7 574.7 407 573C411.3 571.3 416.3 570 421 569C425.7 568 431 567 435 567C439 567 442.3 567.7 445 569C447.7 570.3 449.5 572.3 451 575C452.5 577.7 453.7 581.7 454 585C454.3 588.3 452.8 591.8 453 595C453.2 598.2 453.7 602.2 455 604C456.3 605.8 459 607 461 606C463 605 466.7 601.2 467 598C467.3 594.8 463.9 590 463 587C462.1 584 460.7 582.2 461.4 580C462.1 577.8 464.4 575.3 467 574C469.6 572.7 473.7 571.5 477 572C480.3 572.5 484 574.8 487 577C490 579.2 492.3 582.3 495 585C497.7 587.7 500.3 590.3 503 593C505.7 595.7 508.3 599.2 511 601C513.7 602.8 517 600.7 519 604C521 607.3 523.7 619.2 523 621C522.3 622.8 517.7 616 515 615C512.3 614 510 614.7 507 615C504 615.3 500.3 616.8 497 617C493.7 617.2 490.3 615.8 487 616C483.7 616.2 480.3 617.2 477 618C473.7 618.8 470.3 620.7 467 621C463.7 621.3 460 620 457 620C454 620 451.3 619.8 449 621C446.7 622.2 444.3 624.7 443 627C441.7 629.3 441.5 631.7 441 635C440.5 638.3 440.5 643.3 440 647C439.5 650.7 439.2 654.2 438 657C436.8 659.8 435.2 662.3 433 664C430.8 665.7 427.7 667.5 425 667C422.3 666.5 419.7 663.3 417 661C414.3 658.7 412 655.3 409 653C406 650.7 403 648.7 399 647C395 645.3 388.3 643.9 385 643L385 585Z" fill="#ff6464"/>
<path d="M518 605C519.8 601.8 526.5 601.1 531 600C535.5 598.9 540.3 598.9 545 598.6C549.7 598.3 554.3 597.8 559 598C563.7 598.2 568.7 598.5 573 600C577.3 601.5 581.3 605 585 607C588.7 609 592.2 610 595 612C597.8 614 601.3 616.2 602 619C602.7 621.8 600.3 625.7 599 629C597.7 632.3 595 635.7 594 639C593 642.3 592.2 646 593 649C593.8 652 597 654.3 599 657C601 659.7 603.5 662 605 665C606.5 668 608 671.7 608 675C608 678.3 606.5 681.7 605 685C603.5 688.3 601.3 691.7 599 695C596.7 698.3 593.7 703.3 591 705C588.3 706.7 585.3 706.3 583 705C580.7 703.7 578.7 699.7 577 697C575.3 694.3 575 691.3 573 689C571 686.7 568 684.7 565 683C562 681.3 558.3 680.7 555 679C551.7 677.3 548 675.3 545 673C542 670.7 539 668 537 665C535 662 534.7 658.7 533 655C531.3 651.3 528.7 647 527 643C525.3 639 524.2 635 523 631C521.8 627 520.8 623.3 520 619C519.2 614.7 516.2 608.2 518 605Z" fill="#ff6464"/>
<path d="M596 565C596.2 567.8 595.8 574 597 577C598.2 580 600.7 582.7 603 583C605.3 583.3 609.2 581 611 579C612.8 577 613.5 573.3 614 571C614.5 568.7 614 566.4 614 565L596 565Z" fill="#ffff96"/>
<path d="M649 608C646.2 607.3 640.7 605.9 637 605C633.3 604.1 630.3 602.5 627 602.6C623.7 602.7 619.7 603.7 617 605.4C614.3 607.1 612.7 609.4 611 613C609.3 616.6 607 623 607 627C607 631 609 633.7 611 637C613 640.3 617.5 643.7 619 647C620.5 650.3 620 653 620 657C620 661 619.5 666.7 619 671C618.5 675.3 617.7 678.7 617 683C616.3 687.3 615 692.3 615 697C615 701.7 616 706.3 617 711C618 715.7 619.7 720.7 621 725C622.3 729.3 625.3 734 625 737C624.7 740 622 741.8 619 743C616 744.2 610.7 744 607 744C603.3 744 600 745.2 597 743C594 740.8 591.7 733.7 589 731C586.3 728.3 583.3 727.3 581 727C578.7 726.7 576.5 726.7 575 729C573.5 731.3 572.7 736 572 741C571.3 746 571.2 754.8 571 759L649 759L649 608Z" fill="#ffff96"/>
<path d="M461 643C461 641.3 464.3 638.7 467 637C469.7 635.3 473.3 634.2 477 633C480.7 631.8 485.3 629.7 489 630C492.7 630.3 496.3 632.5 499 635C501.7 637.5 503.7 641.3 505 645C506.3 648.7 506.7 653.3 507 657C507.3 660.7 507.3 663.3 507 667C506.7 670.7 510 676.7 505 679C500 681.3 482 683 477 681C472 679 475.7 671.3 475 667C474.3 662.7 474.3 658.3 473 655C471.7 651.7 469 649 467 647C465 645 461 644.7 461 643Z" fill="#ffff96"/>
<ellipse cx="542" cy="697" rx="13" ry="16.4" fill="#ffff96"/>
<ellipse cx="541" cy="695" rx="8" ry="10" fill="#c8ffc8"/>
<path d="M515 759C515.5 755.3 515.7 747.7 517 743C518.3 738.3 520.7 734 523 731C525.3 728 528.3 726 531 725C533.7 724 537 723.7 539 725C541 726.3 542.7 729.7 543 733C543.3 736.3 541.7 740.7 541 745C540.3 749.3 539.5 755.7 539 759L515 759Z" fill="#ffff96"/>
<path d="M385 669C386.9 671.3 391 675.7 393 679C395 682.3 396.2 686 397 689C397.8 692 400 695.7 398 697C396 698.3 388 697 385 697L385 669Z" fill="#ffff96"/>
<ellipse cx="626" cy="627" rx="13" ry="16.4" fill="#c8ffc8"/>
<ellipse cx="626" cy="627" rx="7.2" ry="10" fill="#32c832" transform="rotate(-10 626 627)"/>
<path d="M649 660C645.3 660.7 637 661.2 633 663C629 664.8 626.7 667.7 625 671C623.3 674.3 623.2 678.7 623 683C622.8 687.3 623.3 692.3 624 697C624.7 701.7 625.5 706.3 627 711C628.5 715.7 631 720.7 633 725C635 729.3 636.3 733.7 639 737C641.7 740.3 646.7 743.1 649 745L649 660Z" fill="#c8ffc8"/>
<path d="M649 666C645.7 666.7 638.7 667.5 635 669C631.3 670.5 628.7 672 627 675C625.3 678 624.7 682.7 625 687C625.3 691.3 627.3 696.7 629 701C630.7 705.3 633 709.3 635 713C637 716.7 638.7 720.3 641 723C643.3 725.7 647.1 727.6 649 729L649 666Z" fill="#32c832"/>
<path d="M649 685C647.4 687.3 643 691.3 642 695C641 698.7 641.8 703.3 643 707C644.2 710.7 647.6 714.7 649 717L649 685Z" fill="#00ffff"/>
<path d="M599 759C600.4 756.7 602.3 751.5 605 749C607.7 746.5 611.7 744.7 615 744C618.3 743.3 622 743.8 625 745C628 746.2 631.2 748.7 633 751C634.8 753.3 635.3 757.1 636 759L599 759Z" fill="#c8ffc8"/>
<path d="M609 759C610.4 756.9 612.7 751.2 615 750C617.3 748.8 621.2 750.5 623 752C624.8 753.5 625.3 757.4 626 759L609 759Z" fill="#32c832"/>
</g>
<path class="nb" d="M385 694L395 694L401 695L407 690L413 683L421 679L429 676L437 673L445 669L451 667L457 668L463 671L469 675L475 678L479 682L485 679L486 671L489 665L495 667L501 673L504 681L508 687L513 692L514 701L513 709L512 719L509 727L504 733L499 738L493 743L488 749L484.6 757"/>
</g>
<clipPath id="tc7"><rect x="516" y="189" width="258" height="189"/></clipPath>
<clipPath id="tl7"><path d="M514 318.2L526 321L536 323.4L546 325L556 324L568 322.6L576 324.6L584 326L592 329L598 336L606 338L614 341.4L622 344.6L630 346L638 346L642 350L648 350L654 347L660 344L668 340L676 335.4L684 333L692 330.6L702 330L712 330L722 329.6L730 327.4L738 324L744 320L750 313L756 306L762 301.4L768 297L770 292L765 287L761 281L761 274L764 267L768 263.4L776 262.2L776 381L514 381Z"/></clipPath>
<g clip-path="url(#tc7)">
<g clip-path="url(#tl7)">
<rect x="515" y="188" width="260" height="191" fill="#ff6464"/>
<path d="M514 309L557 309L554.4 329L551 341L550 353L548 365L544 381L514 381Z" fill="#ff9664"/>
<path d="M514 309C522.2 309 543.7 305.7 549 309C554.3 312.3 547.8 323.3 546 329C544.2 334.7 541 339.7 538 343C535 346.3 531 347 528 349C525 351 522.3 353.3 520 355C517.7 356.7 515.4 358.1 514 359L514 309Z" fill="#ffff96"/>
<path d="M514 309C520.3 309 537.3 305.7 541 309C544.7 312.3 538.2 324.7 536 329C533.8 333.3 530.7 333.3 528 335C525.3 336.7 522.3 338 520 339C517.7 340 515.4 340.5 514 341L514 309Z" fill="#c8ffc8"/>
<path d="M514 309C517.7 309 528.2 306.7 530 309C531.8 311.3 526.7 320 525 323C523.3 326 521.8 326 520 327C518.2 328 515.4 328.5 514 329L514 309Z" fill="#32c832"/>
<ellipse cx="583.6" cy="347" rx="9.6" ry="14.4" fill="#ff0000" transform="rotate(8 583.6 347)"/>
<ellipse cx="611" cy="364.6" rx="10.4" ry="11.6" fill="#ff9664"/>
<path d="M631 341L629.2 359L631.6 369L634.4 381L716 381L716 329L656 329Z" fill="#ff9664"/>
<ellipse cx="676.6" cy="366" rx="5" ry="6" fill="#ff6464"/>
<path d="M652 345C653.3 347.9 660.7 346.3 664 346.4C667.3 346.5 669.3 345 672 345.4C674.7 345.8 677.7 347.1 680 349C682.3 350.9 684.3 354 685.6 357C686.9 360 687.3 363 688 367C688.7 371 689.2 377.7 689.6 381L716 381C716 368.9 726 337.7 716 329C706 320.3 666.7 326.3 656 329C645.3 331.7 650.7 342.1 652 345Z" fill="#ffff96"/>
<path d="M669 337C669.3 339.7 675.2 340.7 678 343C680.8 345.3 683.8 348 686 351C688.2 354 689.7 357.7 691 361C692.3 364.3 693.3 367.7 694 371C694.7 374.3 694.8 378.7 695 381L716 381C716 368.9 722.7 338 716 329C709.3 320 683.8 325.7 676 327C668.2 328.3 668.7 334.3 669 337Z" fill="#c8ffc8"/>
<path d="M677 333C671.7 335.3 681.8 338 684 341C686.2 344 688.3 347.7 690 351C691.7 354.3 692.8 357.7 694 361C695.2 364.3 696.3 367.7 697 371C697.7 374.3 698.1 378.7 698.4 381L716 381C716 368.4 722.5 335 716 327C709.5 319 682.3 330.7 677 333Z" fill="#32c832"/>
<path d="M685 329L690 341L694 351L697 361L699.6 371L701.4 381L778 381L778 327Z" fill="#00ffff"/>
<path d="M740 317C740.8 323.3 740.3 328.3 741 333C741.7 337.7 742.5 341.7 744 345C745.5 348.3 748 351.5 750 352.6C752 353.7 754.6 352.8 756 351.4C757.4 350 757.9 346.6 758.4 344C758.9 341.4 758.1 338.1 759 336C759.9 333.9 760.8 332.6 764 331.4C767.2 330.2 774.7 329.6 778 329L778 317C776.6 316.5 773.8 316.7 772 315C770.2 313.3 768.3 310.3 767 307C765.7 303.7 769.2 297 764 295C758.8 293 740 291.3 736 295C732 298.7 739.2 310.7 740 317Z" fill="#32c832"/>
<path d="M759 293L763 301L767 307.4L772 314.6L778 318L778 249L756 249L756 289Z" fill="#c8ffc8"/>
<path d="M705 325C700.1 327.7 703 336.3 702.4 341C701.8 345.7 701.2 349 701.4 353C701.6 357 702.5 360.3 703.4 365C704.3 369.7 706.2 377.3 707 381L778 381L778 356C775.2 355.8 769.3 354.8 766 355C762.7 355.2 760.3 356.3 758 357C755.7 357.7 754.7 358.8 752 359C749.3 359.2 744.7 359 742 358C739.3 357 737.5 355.8 736 353C734.5 350.2 733.7 345.7 733 341C732.3 336.3 736.3 327.7 731.6 325C726.9 322.3 709.9 322.3 705 325Z" fill="#0090ff"/>
<path d="M706 381C705.8 377.7 704.5 370.5 705 367C705.5 363.5 707.2 361.3 709 360C710.8 358.7 713.8 358.5 716 359C718.2 359.5 720.3 361 722 363C723.7 365 724.9 368 726 371C727.1 374 727.8 378.7 728.4 381L706 381Z" fill="#0000ff"/>
<path d="M731.6 381C732.6 379.1 734.3 374.7 736 373C737.7 371.3 740.3 370.7 742 371C743.7 371.3 744.9 373.3 746 375C747.1 376.7 747.8 379.6 748.4 381L731.6 381Z" fill="#0000ff"/>
</g>
<path class="nb" d="M514 318.2L526 321L536 323.4L546 325L556 324L568 322.6L576 324.6L584 326L592 329L598 336L606 338L614 341.4L622 344.6L630 346L638 346L642 350L648 350L654 347L660 344L668 340L676 335.4L684 333L692 330.6L702 330L712 330L722 329.6L730 327.4L738 324L744 320L750 313L756 306L762 301.4L768 297L770 292L765 287L761 281L761 274L764 267L768 263.4L776 262.2"/>
</g>
<clipPath id="tc8"><rect x="774" y="189" width="258" height="189"/></clipPath>
<clipPath id="tl8"><path d="M772 187L1034 187L1034 381L772 381Z"/></clipPath>
<g clip-path="url(#tc8)">
<g clip-path="url(#tl8)">
<rect x="773" y="188" width="260" height="191" fill="#c8ffc8"/>
<path d="M883 187C884.4 188.9 886.8 192.2 889 195C891.2 197.8 893.5 202.1 896 204C898.5 205.9 901 206.7 904 206.6C907 206.5 911.2 204.8 914 203.4C916.8 202 919.3 200.7 921 198C922.7 195.3 923.6 189.6 924.4 187L883 187Z" fill="#32c832"/>
<path d="M849 243C850.3 241.3 854.5 238.7 858 237C861.5 235.3 866 234 870 233C874 232 878 231.5 882 231C886 230.5 890.3 229.8 894 230C897.7 230.2 900.7 230.8 904 232C907.3 233.2 912 238.2 914 237C916 235.8 915.5 229 916 225C916.5 221 916 216.5 917 213C918 209.5 919.8 205.7 922 204C924.2 202.3 927.8 201.8 930 202.6C932.2 203.4 934.2 205.3 935 209C935.8 212.7 935.2 220.3 935 225C934.8 229.7 934.8 234.7 934 237C933.2 239.3 932.3 238.8 930 239C927.7 239.2 922.7 237.5 920 238C917.3 238.5 915.3 239.8 914 242C912.7 244.2 911.7 248.2 912 251C912.3 253.8 914 257.3 916 259C918 260.7 921.8 260.8 924 261C926.2 261.2 928 258.7 929 260C930 261.3 930 265.8 930 269C930 272.2 929.7 275.7 929 279C928.3 282.3 927.5 286.3 926 289C924.5 291.7 922.7 293.7 920 295C917.3 296.3 913.7 296.5 910 297C906.3 297.5 902 298 898 298C894 298 889.3 298.2 886 297C882.7 295.8 879.7 293.7 878 291C876.3 288.3 877 284.3 876 281C875 277.7 874 274.3 872 271C870 267.7 866.7 264.3 864 261C861.3 257.7 858.3 253.3 856 251C853.7 248.7 851.2 248.3 850 247C848.8 245.7 847.7 244.7 849 243Z" fill="#ffff96"/>
<path d="M804 289C804.2 285.3 804.8 279.2 806 275C807.2 270.8 809.2 265.7 811 264C812.8 262.3 815.7 263.5 817 265C818.3 266.5 819.2 269.7 819 273C818.8 276.3 817.3 281.3 816 285C814.7 288.7 812.8 293 811 295C809.2 297 806.2 298 805 297C803.8 296 803.8 292.7 804 289Z" fill="#ffff96"/>
<path d="M947 187C947.6 189.8 948.3 195.7 949.6 199C950.9 202.3 952.6 205.2 955 207C957.4 208.8 961.2 208.5 964 210C966.8 211.5 970.2 213.8 972 216C973.8 218.2 973.3 221.2 975 223C976.7 224.8 978.8 226.2 982 227C985.2 227.8 990 227.7 994 228C998 228.3 1002 229.2 1006 229C1010 228.8 1013 227.2 1018 227C1023 226.8 1031.8 227.8 1036 228L1036 187L947 187Z" fill="#ffff96"/>
<path d="M951 227C952.7 225 955.3 223.5 958 223C960.7 222.5 964.3 223 967 224C969.7 225 972.8 226.2 974 229C975.2 231.8 974.5 237.7 974 241C973.5 244.3 972.7 246.9 971 249C969.3 251.1 966.5 253.1 964 253.4C961.5 253.7 958.3 252.4 956 251C953.7 249.6 951.3 247.7 950 245C948.7 242.3 947.8 238 948 235C948.2 232 949.3 229 951 227Z" fill="#ffff96"/>
<path d="M912 355C912.3 350.7 912.3 346.7 914 343C915.7 339.3 919 336 922 333C925 330 928.3 327.3 932 325C935.7 322.7 939.7 320.5 944 319C948.3 317.5 953.7 316.7 958 316C962.3 315.3 966 314.8 970 315C974 315.2 979.3 317.3 982 317C984.7 316.7 985 315.7 986 313C987 310.3 986.7 304.7 988 301C989.3 297.3 991.3 294 994 291C996.7 288 1000.7 285 1004 283C1007.3 281 1010.3 280 1014 279C1017.7 278 1022.3 277.3 1026 277C1029.7 276.7 1033.7 277 1036 277L1036 321C1033.2 322.2 1027.7 324.7 1024 326C1020.3 327.3 1017.3 328.8 1014 329C1010.7 329.2 1007.3 328 1004 327C1000.7 326 997 323 994 323C991 323 988 325 986 327C984 329 983.7 332.3 982 335C980.3 337.7 977.3 340 976 343C974.7 346 974.7 349.7 974 353C973.3 356.3 973.3 360 972 363C970.7 366 967.7 368 966 371C964.3 374 962.9 378.7 962 381L914 381C913.5 378.2 912.3 373.3 912 369C911.7 364.7 911.7 359.3 912 355Z" fill="#ffff96"/>
<ellipse cx="912.6" cy="281.4" rx="11.6" ry="11" fill="#ff9664"/>
<ellipse cx="960.4" cy="237.6" rx="9.6" ry="12.4" fill="#ff9664"/>
<path d="M954 187C955.4 189.3 957.3 194.3 960 197C962.7 199.7 966.7 201 970 203C973.3 205 976.7 207.2 980 209C983.3 210.8 986.7 213.7 990 214C993.3 214.3 997.7 213.2 1000 211C1002.3 208.8 1003.7 205 1004 201C1004.3 197 1002.5 190.3 1002 187L954 187Z" fill="#ff9664"/>
<path d="M1024 187C1022.8 189.3 1020.2 194 1019 197C1017.8 200 1016.8 202.3 1017 205C1017.2 207.7 1018.5 210.3 1020 213C1021.5 215.7 1023.3 219.2 1026 221C1028.7 222.8 1033.7 223.3 1036 224L1036 187L1024 187Z" fill="#ff9664"/>
<ellipse cx="981" cy="226.6" rx="4.4" ry="4" fill="#ff9664"/>
<path d="M992 305C992 301.7 994 297.7 996 295C998 292.3 1001 290.5 1004 289C1007 287.5 1011 286 1014 286C1017 286 1020.3 287.2 1022 289C1023.7 290.8 1024.3 294 1024 297C1023.7 300 1021.7 304 1020 307C1018.3 310 1016.7 313 1014 315C1011.3 317 1007 319 1004 319C1001 319 998 317.3 996 315C994 312.7 992 308.3 992 305Z" fill="#ff9664"/>
<path d="M918 349C918.3 346.2 920 343.7 922 342C924 340.3 927.3 339.7 930 339C932.7 338.3 936 337.5 938 338C940 338.5 942 340.2 942 342C942 343.8 939.7 346.5 938 349C936.3 351.5 934 355 932 357C930 359 928 360.7 926 361C924 361.3 921.3 361 920 359C918.7 357 917.7 351.8 918 349Z" fill="#ff9664"/>
<path d="M947 332C947.3 331 951 330 953 330C955 330 957.7 330.8 959 332C960.3 333.2 961.3 335.8 961 337C960.7 338.2 958.7 339.2 957 339C955.3 338.8 952.7 337.2 951 336C949.3 334.8 946.7 333 947 332Z" fill="#ff9664"/>
<path d="M772 316C774.8 317.6 780.3 320.2 784 323C787.7 325.8 791.7 332.7 794 333C796.3 333.3 797 328.3 798 325C799 321.7 798 316.3 800 313C802 309.7 806.7 307.7 810 305C813.3 302.3 817.7 301 820 297C822.3 293 822.7 286 824 281C825.3 276 826.3 270.5 828 267C829.7 263.5 832 260.7 834 260C836 259.3 838.3 260.8 840 263C841.7 265.2 843.2 269.3 844 273C844.8 276.7 844 282.3 845 285C846 287.7 847.5 288.7 850 289C852.5 289.3 857 287 860 287C863 287 865.7 287.3 868 289C870.3 290.7 871.7 294.7 874 297C876.3 299.3 878.7 302 882 303C885.3 304 890 303.3 894 303C898 302.7 902 301.7 906 301C910 300.3 914.7 300.3 918 299C921.3 297.7 923.7 296 926 293C928.3 290 930.3 285 932 281C933.7 277 934.7 272.7 936 269C937.3 265.3 938 261.7 940 259C942 256.3 945.3 253.8 948 253C950.7 252.2 953.3 253.3 956 254C958.7 254.7 961.3 257.2 964 257C966.7 256.8 969.3 254.7 972 253C974.7 251.3 977 248.3 980 247C983 245.7 986.7 245 990 245C993.3 245 997.3 248 1000 247C1002.7 246 1003.7 241.2 1006 239C1008.3 236.8 1011 235 1014 234C1017 233 1020.3 233.3 1024 233C1027.7 232.7 1033.2 232.2 1036 232L1036 264C1032.7 265.2 1025.7 267.2 1022 269C1018.3 270.8 1017 272.7 1014 275C1011 277.3 1007.3 280.3 1004 283C1000.7 285.7 997 288.5 994 291C991 293.5 989 295.7 986 298C983 300.3 979.7 303.2 976 305C972.3 306.8 968 308.2 964 309C960 309.8 955.7 309.3 952 310C948.3 310.7 945.3 311.5 942 313C938.7 314.5 935.3 316.7 932 319C928.7 321.3 925 324.3 922 327C919 329.7 916 332 914 335C912 338 911 341.3 910 345C909 348.7 908 353 908 357C908 361 909.5 365 910 369C910.5 373 910.8 378.2 911 381L772 381L772 316Z" fill="#32c832"/>
<path d="M974 359C973.8 356 974.7 350.3 976 347C977.3 343.7 979.3 341 982 339C984.7 337 989 335.3 992 335C995 334.7 998.3 335.3 1000 337C1001.7 338.7 1002.3 342 1002 345C1001.7 348 999.7 352 998 355C996.3 358 994.3 361 992 363C989.7 365 986.5 366.7 984 367C981.5 367.3 978.7 366.3 977 365C975.3 363.7 974.2 362 974 359Z" fill="#32c832"/>
<path d="M772 334C775.3 334.7 782 337.5 786 337C790 336.5 792.7 334.3 796 331C799.3 327.7 802.7 321.3 806 317C809.3 312.7 812.3 308.7 816 305C819.7 301.3 824 296.5 828 295C832 293.5 836 295 840 296C844 297 848 299.7 852 301C856 302.3 860.3 302.7 864 304C867.7 305.3 870.3 307.8 874 309C877.7 310.2 882 310.7 886 311C890 311.3 894 311.3 898 311C902 310.7 906 309.7 910 309C914 308.3 918.7 308.3 922 307C925.3 305.7 928 304 930 301C932 298 932.7 293.3 934 289C935.3 284.7 936.3 279 938 275C939.7 271 941.7 267.5 944 265C946.3 262.5 949.3 260.5 952 260C954.7 259.5 957.3 261.3 960 262C962.7 262.7 965.3 264.3 968 264C970.7 263.7 973 261 976 260C979 259 983 258 986 258C989 258 991.7 258.7 994 260C996.3 261.3 998.7 263.8 1000 266C1001.3 268.2 1002.3 270.5 1002 273C1001.7 275.5 1000 278.3 998 281C996 283.7 993 286.3 990 289C987 291.7 983.3 294.7 980 297C976.7 299.3 973.7 301.7 970 303C966.3 304.3 962 304.3 958 305C954 305.7 949.7 306.3 946 307C942.3 307.7 939 307.7 936 309C933 310.3 930.7 312.7 928 315C925.3 317.3 923 321 920 323C917 325 912.7 325 910 327C907.3 329 905.3 331.7 904 335C902.7 338.3 902.7 343 902 347C901.3 351 900.3 353.3 900 359C899.7 364.7 900 375.9 900 381L772 381L772 334Z" fill="#00ffff"/>
<path d="M772 355C775.3 353.1 781.7 349.3 786 347C790.3 344.7 794 343.3 798 341C802 338.7 806.7 336.7 810 333C813.3 329.3 815 322.7 818 319C821 315.3 824.3 312.7 828 311C831.7 309.3 835.7 309 840 309C844.3 309 849.7 310 854 311C858.3 312 862 314 866 315C870 316 874.3 316.3 878 317C881.7 317.7 885.3 317.7 888 319C890.7 320.3 892.7 322.3 894 325C895.3 327.7 896 331.3 896 335C896 338.7 894.7 343 894 347C893.3 351 892 355 892 359C892 363 893.7 367.3 894 371C894.3 374.7 894 378.7 894 381L772 381L772 355Z" fill="#0090ff"/>
<path d="M942 281C942 277.3 944 273.5 946 271C948 268.5 951.3 266.5 954 266C956.7 265.5 959.7 266.8 962 268C964.3 269.2 965.7 271.8 968 273C970.3 274.2 973.3 275.5 976 275C978.7 274.5 981.3 271.2 984 270C986.7 268.8 990 267.5 992 268C994 268.5 996 270.8 996 273C996 275.2 994 278.7 992 281C990 283.3 987 285 984 287C981 289 977.3 291.3 974 293C970.7 294.7 967.3 296.2 964 297C960.7 297.8 957 298.7 954 298C951 297.3 948 295.8 946 293C944 290.2 942 284.7 942 281Z" fill="#0090ff"/>
<ellipse cx="957.6" cy="282" rx="5" ry="5.4" fill="#0000ff"/>
<path d="M815 381C815.7 377.3 817 370 818 365C819 360 819.8 355.3 821 351C822.2 346.7 823.2 341.7 825 339C826.8 336.3 829.8 335 832 335C834.2 335 836.8 336.7 838 339C839.2 341.3 839.2 345.3 839 349C838.8 352.7 837.8 357.3 837 361C836.2 364.7 835.2 367.7 834 371C832.8 374.3 830.9 378.7 830 381L815 381Z" fill="#0000ff"/>
<path d="M772 187L822 187L825 192.6L834 190.6L844 190L854 191.4L858 187L883 187L888 194L894 199L898 205L896 211L890 213L882 212L872 214L864 217L858 221L850 225L843 228L840 234L838 241L832 248L824 249L814 251L808 258L802 263L796 266L788 268L780 266L772 262.6Z" fill="#fff"/>
<path d="M1034 325L1026 333L1020 338L1014 343L1008 347L1004 355L1004 362L1004 362L994 364.6L984 369L976 375L971 379L1034 381Z" fill="#fff"/>
<path d="M914 379L922 373L930 365L934 357L940 349L948 344L954 342L960 347L963 355L961 363L957 370L951.6 379Z" fill="#fff"/>
</g>
<path class="nb" d="M883 187L888 194L894 199L898 205L896 211L890 213L882 212L872 214L864 217L858 221L850 225L843 228L840 234L838 241L832 248L824 249L814 251L808 258L802 263L796 266L788 268L780 266L772 262.6"/>
<path class="nb" d="M822 187L825 192.6L834 190.6L844 190L854 191.4L858 187"/>
<path class="nb" d="M1034 325L1026 333L1020 338L1014 343L1008 347L1004 355L1004 362"/>
<path class="cb" d="M1004 362L994 364.6L984 369L976 375L971 379"/>
<path class="cb" d="M914 379L922 373L930 365L934 357L940 349L948 344L954 342L960 347L963 355L961 363L957 370L951.6 379"/>
</g>
<clipPath id="tc9"><rect x="774" y="0" width="258" height="189"/></clipPath>
<clipPath id="tl9"><path d="M822 190L824 180L826 170L829 160L833 150L836 143L844 145L852 148L856 149L858 140L863 134L868 133L874 128L874 128L875 120L878 110L882 98L885 88L890 78L892 70L886 69L880 68L880 64L884 58L890 53L898 49L906 46L914 43L924 40L934 41L942 44L950 45L958 43L966 48L972 54L978 60L984 68L990 76L996 85L1000 92L1004 102L1006 110L1012 116L1020 117L1028 115L1034 116L1034 192L822 192Z"/></clipPath>
<g clip-path="url(#tc9)">
<g clip-path="url(#tl9)">
<rect x="773" y="-1" width="260" height="191" fill="#32c832"/>
<path d="M842 146C841.3 148.7 847 153.3 850 156C853 158.7 856.7 160.8 860 162C863.3 163.2 867.3 164 870 163C872.7 162 874 158.2 876 156C878 153.8 880 150.7 882 150C884 149.3 886.3 150.3 888 152C889.7 153.7 891.7 157 892 160C892.3 163 889.7 167 890 170C890.3 173 891.7 176 894 178C896.3 180 900.7 182 904 182C907.3 182 911 180.3 914 178C917 175.7 919.7 171.7 922 168C924.3 164.3 926.3 160 928 156C929.7 152 930.8 148.3 932 144C933.2 139.7 934.3 134.7 935 130C935.7 125.3 936 120.7 936 116C936 111.3 934.8 106.3 935 102C935.2 97.7 935.8 93.3 937 90C938.2 86.7 940.2 83.8 942 82C943.8 80.2 945.7 79.2 948 79C950.3 78.8 953.5 80.8 956 81C958.5 81.2 961.2 81.5 963 80C964.8 78.5 966.2 75 967 72C967.8 69 968.2 65.7 968 62C967.8 58.3 967.3 54 966 50C964.7 46 975.3 40 960 38C944.7 36 889 27.7 874 38C859 48.3 871.7 84.7 870 100C868.3 115.3 866.7 123.3 864 130C861.3 136.7 857.7 137.3 854 140C850.3 142.7 842.7 143.3 842 146Z" fill="#00ffff"/>
<path d="M907 50C906.2 53.7 907.8 56.7 909 60C910.2 63.3 912.2 67.2 914 70C915.8 72.8 917.7 75.3 920 77C922.3 78.7 925.7 79.8 928 80C930.3 80.2 932.2 79.7 934 78C935.8 76.3 937.7 73 939 70C940.3 67 941 63.3 942 60C943 56.7 944.7 53.7 945 50C945.3 46.3 949.2 40 944 38C938.8 36 920.2 36 914 38C907.8 40 907.8 46.3 907 50Z" fill="#32c832"/>
<path d="M871.6 192C871.9 188.7 872.3 181 873 178C873.7 175 874.8 174.2 876 174C877.2 173.8 879.1 174 880 177C880.9 180 881.1 188.5 881.4 192L871.6 192Z" fill="#00ffff"/>
<path d="M890 122C890.3 119 892 115.2 894 112C896 108.8 899 105.2 902 103C905 100.8 909 99.2 912 99C915 98.8 918.2 99.8 920 102C921.8 104.2 922.7 108.7 923 112C923.3 115.3 922.8 119 922 122C921.2 125 919.5 127.7 918 130C916.5 132.3 913.8 133.3 913 136C912.2 138.7 912.8 143 913 146C913.2 149 914.5 151.8 914 154C913.5 156.2 911.3 159 910 159C908.7 159 907.2 156.5 906 154C904.8 151.5 904.3 146.7 903 144C901.7 141.3 899.8 140.3 898 138C896.2 135.7 893.3 132.7 892 130C890.7 127.3 889.7 125 890 122Z" fill="#0090ff"/>
<path d="M1000 86C991.7 87.3 990.3 91.8 986 94C981.7 96.2 978 97.7 974 99C970 100.3 965.7 101 962 102C958.3 103 954.6 103.3 952 105C949.4 106.7 947.5 108.8 946.4 112C945.3 115.2 945.6 119.3 945.6 124C945.6 128.7 946.7 135.3 946.4 140C946.1 144.7 945.1 148 944 152C942.9 156 941.7 160 940 164C938.3 168 936.2 171.3 934 176C931.8 180.7 928.6 188.3 927 192L1036 192L1036 86C1027.6 86 1008.3 84.7 1000 86Z" fill="#c8ffc8"/>
<path d="M1004 105C996.7 105.7 995.7 107.8 992 109C988.3 110.2 985.3 110.8 982 112C978.7 113.2 975 114.7 972 116C969 117.3 965.8 118 964 120C962.2 122 961.3 125.3 961 128C960.7 130.7 962.3 133.3 962 136C961.7 138.7 960.3 141.3 959 144C957.7 146.7 955.8 149.3 954 152C952.2 154.7 949 157 948 160C947 163 947.7 166.7 948 170C948.3 173.3 949.3 176.3 950 180C950.7 183.7 951.5 189.2 952 192L1036 192L1036 105C1028.5 105 1011.3 104.3 1004 105Z" fill="#ffff96"/>
<path d="M1004 108C1005 106.5 1009 115.3 1012 117C1015 118.7 1019.7 116.2 1022 118C1024.3 119.8 1026 124.3 1026 128C1026 131.7 1023.7 137.7 1022 140C1020.3 142.3 1018 142.7 1016 142C1014 141.3 1011.7 138.7 1010 136C1008.3 133.3 1007 130.7 1006 126C1005 121.3 1003 109.5 1004 108Z" fill="#c8ffc8"/>
<path d="M974 128C976 126.7 979.3 124.5 982 124C984.7 123.5 987.3 123.7 990 125C992.7 126.3 995.7 129.2 998 132C1000.3 134.8 1002 138.3 1004 142C1006 145.7 1009.2 150 1010 154C1010.8 158 1009.7 162 1009 166C1008.3 170 1007.2 173.7 1006 178C1004.8 182.3 1002.9 188.7 1002 192L954 192C954.5 188.3 955 180.7 956 176C957 171.3 958.3 168 960 164C961.7 160 964.7 156 966 152C967.3 148 967.3 143.3 968 140C968.7 136.7 969 134 970 132C971 130 972 129.3 974 128Z" fill="#ff9664"/>
<path d="M1036 115C1034.4 116.2 1030.2 118.2 1029 120C1027.8 121.8 1027.8 124.2 1029 126C1030.2 127.8 1034.4 129.8 1036 131L1036 115Z" fill="#ff9664"/>
<path d="M1033 166C1031.8 163.3 1030.1 173.1 1029 176C1027.9 178.9 1027.2 180.7 1026.4 183.4C1025.6 186.1 1024.6 190 1024 192L1036 192C1035.3 185.9 1034.2 168.7 1033 166Z" fill="#ff9664"/>
<path d="M822 192C822.7 188.3 823.7 180.3 825 176C826.3 171.7 827.8 168.3 830 166C832.2 163.7 835 162.3 838 162C841 161.7 845.3 162.7 848 164C850.7 165.3 852.5 167.7 854 170C855.5 172.3 856.3 174.3 857 178C857.7 181.7 858.1 188.7 858.4 192L822 192Z" fill="#c8ffc8"/>
<ellipse cx="844" cy="181" rx="9" ry="10" fill="#ffff96"/>
<path d="M856 190L862 182L868 181L874 184L881 190Z" fill="#fff"/>
</g>
<path class="nb" d="M822 190L824 180L826 170L829 160L833 150L836 143L844 145L852 148L856 149L858 140L863 134L868 133L874 128"/>
<path class="nb" d="M856 190L862 182L868 181L874 184L881 190"/>
<path class="cb" d="M874 128L875 120L878 110L882 98L885 88L890 78L892 70L886 69L880 68L880 64L884 58L890 53L898 49L906 46L914 43L924 40L934 41L942 44L950 45L958 43L966 48L972 54L978 60L984 68L990 76L996 85L1000 92L1004 102L1006 110L1012 116L1020 117L1028 115L1034 116"/>
</g>
<clipPath id="tc10"><rect x="1032" y="0" width="258" height="189"/></clipPath>
<clipPath id="tl10"><path d="M1030 116L1038 115L1044 120L1052 123L1061 124L1064 130L1067 138L1072 145L1075 148L1082 146L1090 143L1098 139L1101 132L1108 128L1116 123L1124 118L1131 114L1131 114L1134 116L1130 122L1131 130L1134 136L1129 140L1128 148L1130 158L1128 166L1130 174L1126 180L1125 190L1030 192Z"/></clipPath>
<g clip-path="url(#tc10)">
<g clip-path="url(#tl10)">
<rect x="1031" y="-1" width="260" height="191" fill="#ff9664"/>
<path d="M1136 108C1134.3 95.3 1129.3 115.5 1126 118C1122.7 120.5 1119 121.3 1116 123C1113 124.7 1110.5 126.3 1108 128C1105.5 129.7 1102.5 131 1101 133C1099.5 135 1100.5 138.2 1099 140C1097.5 141.8 1094.8 142 1092 144C1089.2 146 1085.3 149.3 1082 152C1078.7 154.7 1074 157.7 1072 160C1070 162.3 1069.3 164.3 1070 166C1070.7 167.7 1074.2 168.3 1076 170C1077.8 171.7 1080 173.7 1081 176C1082 178.3 1082 181 1082 184C1082 187 1081.2 191.7 1081 194L1136 194C1136 173.9 1137.7 120.7 1136 108Z" fill="#ff6464"/>
<path d="M1030 114C1032.3 114.9 1037.3 116 1040 118C1042.7 120 1044 123.7 1046 126C1048 128.3 1050 129.7 1052 132C1054 134.3 1056.3 137 1058 140C1059.7 143 1061.7 146.7 1062 150C1062.3 153.3 1061.7 157.5 1060 160C1058.3 162.5 1054.7 164.7 1052 165C1049.3 165.3 1046.3 162.8 1044 162C1041.7 161.2 1040.3 160.2 1038 160C1035.7 159.8 1031.9 160.8 1030 161L1030 114Z" fill="#ffff96"/>
<ellipse cx="1049.6" cy="148" rx="5.6" ry="6.4" fill="#c8ffc8"/>
<path d="M1030 114C1031.6 114.9 1036 116.2 1037 118C1038 119.8 1037.2 122.8 1036 125C1034.8 127.2 1031.4 129.6 1030 131L1030 114Z" fill="#ff9664"/>
</g>
<path class="nb" d="M1131 114L1134 116L1130 122L1131 130L1134 136L1129 140L1128 148L1130 158L1128 166L1130 174L1126 180L1125 190"/>
<path class="cb" d="M1030 116L1038 115L1044 120L1052 123L1061 124L1064 130L1067 138L1072 145L1075 148L1082 146L1090 143L1098 139L1101 132L1108 128L1116 123L1124 118L1131 114"/>
</g>
<clipPath id="tc11"><rect x="1032" y="189" width="258" height="189"/></clipPath>
<clipPath id="tl11"><path d="M1125 187L1125 199L1121 203L1112 202L1104 203L1099 209L1093 215L1096 222L1101 229L1103 237L1105 245L1107 251L1107 258L1102 263L1096 265L1102 273L1096 271L1091 265L1085 264L1085 273L1082 280L1077 283L1075 288L1067 291L1061 294L1060 299L1064 303L1066 308L1058 309L1050 310L1044 307L1040 304L1036 309L1034 317L1030 322L1030 187Z"/></clipPath>
<g clip-path="url(#tc11)">
<g clip-path="url(#tl11)">
<rect x="1031" y="188" width="260" height="191" fill="#ff9664"/>
<path d="M1081 187C1079.9 189.8 1078 195.3 1076.4 199C1074.8 202.7 1071.7 206 1071.6 209C1071.5 212 1073.9 214.7 1076 217C1078.1 219.3 1081 221.5 1084 223C1087 224.5 1091 226.7 1094 226C1097 225.3 1096.3 223.5 1102 219C1107.7 214.5 1123.7 204.3 1128 199C1132.3 193.7 1128 189.8 1128 187L1081 187Z" fill="#ff6464"/>
<path d="M1086 251C1086.3 247.7 1088.3 246.4 1090 245C1091.7 243.6 1094 242.6 1096 242.6C1098 242.6 1100 243.9 1102 245C1104 246.1 1106.8 246.7 1108 249C1109.2 251.3 1110.3 256.7 1109 259C1107.7 261.3 1102.8 262.7 1100 263C1097.2 263.3 1094.7 262 1092 261C1089.3 260 1086.3 257 1084 257C1081.7 257 1079.5 259 1078 261C1076.5 263 1075.5 266 1075 269C1074.5 272 1074.7 276.3 1075 279C1075.3 281.7 1074.8 284 1077 285C1079.2 286 1086.2 288.3 1088 285C1089.8 281.7 1088.3 270.7 1088 265C1087.7 259.3 1085.7 254.3 1086 251Z" fill="#ff6464"/>
<path d="M1030 223C1032.3 222.3 1037.2 219.3 1040 220C1042.8 220.7 1044.7 224.5 1047 227C1049.3 229.5 1051.8 231.7 1054 235C1056.2 238.3 1058.5 243 1060 247C1061.5 251 1062.7 254.7 1063 259C1063.3 263.3 1062.8 268.7 1062 273C1061.2 277.3 1059.2 281 1058 285C1056.8 289 1055.7 293 1055 297C1054.3 301 1058.2 304 1054 309C1049.8 314 1035.6 322.8 1030 327L1030 223Z" fill="#ffff96"/>
<path d="M1030 228C1031.9 228 1035.3 226.8 1038 228C1040.7 229.2 1043.7 232.5 1046 235C1048.3 237.5 1050.3 240 1052 243C1053.7 246 1055 249.3 1056 253C1057 256.7 1058.2 260.7 1058 265C1057.8 269.3 1056.3 275 1055 279C1053.7 283 1051.8 286.2 1050 289C1048.2 291.8 1046.2 294.7 1044 296C1041.8 297.3 1039.3 297.5 1037 297C1034.7 296.5 1031.6 293.9 1030 293L1030 228Z" fill="#c8ffc8"/>
<path d="M1030 232C1031.6 232.7 1035 233.2 1037 235C1039 236.8 1040.5 240 1042 243C1043.5 246 1044.8 249.7 1046 253C1047.2 256.3 1048.7 259.7 1049 263C1049.3 266.3 1048.8 270 1048 273C1047.2 276 1045.5 279.3 1044 281C1042.5 282.7 1040.7 283.7 1039 283C1037.3 282.3 1035.5 279.3 1034 277C1032.5 274.7 1030.9 270.9 1030 269L1030 232Z" fill="#32c832"/>
</g>
<path class="nb" d="M1125 187L1125 199L1121 203L1112 202L1104 203L1099 209L1093 215L1096 222L1101 229L1103 237L1105 245L1107 251L1107 258L1102 263L1096 265L1102 273L1096 271L1091 265L1085 264L1085 273L1082 280L1077 283L1075 288L1067 291L1061 294L1060 299L1064 303L1066 308L1058 309L1050 310L1044 307L1040 304L1036 309L1034 317L1030 322"/>
</g>
<clipPath id="tc12"><rect x="516" y="378" width="258" height="189"/></clipPath>
<clipPath id="tl12"><path d="M514 376L776 376L776 570L514 570Z"/></clipPath>
<g clip-path="url(#tc12)">
<g clip-path="url(#tl12)">
<rect x="515" y="377" width="260" height="191" fill="#ff9664"/>
<path d="M540 376C539.8 378.8 538.3 384.7 539 388C539.7 391.3 541.2 394.3 544 396C546.8 397.7 552 397.8 556 398C560 398.2 564 396.7 568 397C572 397.3 576.3 397.8 580 400C583.7 402.2 587.7 406.3 590 410C592.3 413.7 593 418 594 422C595 426 594.7 431.3 596 434C597.3 436.7 599.3 437.7 602 438C604.7 438.3 608.7 436.2 612 436C615.3 435.8 619.3 438 622 437C624.7 436 626.3 433.2 628 430C629.7 426.8 631 422.3 632 418C633 413.7 633.8 408.7 634 404C634.2 399.3 633 394.7 633 390C633 385.3 633.8 379.3 634 376L540 376Z" fill="#ff6464"/>
<path d="M630 474C630.3 472.7 635 472 638 472C641 472 644.7 473.3 648 474C651.3 474.7 655.7 475.2 658 476C660.3 476.8 662.3 477.3 662 479C661.7 480.7 658.3 484 656 486C653.7 488 650.3 490.7 648 491C645.7 491.3 644 489.8 642 488C640 486.2 638 482.3 636 480C634 477.7 629.7 475.3 630 474Z" fill="#ff6464"/>
<path d="M778 452C774.7 453.4 767.7 456 764 458C760.3 460 758.7 461.7 756 464C753.3 466.3 751 469 748 472C745 475 741.3 478.7 738 482C734.7 485.3 731.3 489 728 492C724.7 495 721.3 497.7 718 500C714.7 502.3 711.3 504.3 708 506C704.7 507.7 701 508 698 510C695 512 692 515.3 690 518C688 520.7 686.3 523 686 526C685.7 529 688.7 533.7 688 536C687.3 538.3 684.3 539.7 682 540C679.7 540.3 677 538 674 538C671 538 667 539 664 540C661 541 657.3 541.7 656 544C654.7 546.3 655 551 656 554C657 557 660 559.3 662 562C664 564.7 666.6 568.1 668 570L778 570L778 452Z" fill="#ff6464"/>
<path d="M708 570C708.5 566.3 708.7 558 710 554C711.3 550 713.7 548 716 546C718.3 544 721.7 543.7 724 542C726.3 540.3 728.7 538.7 730 536C731.3 533.3 730.7 529 732 526C733.3 523 735.3 519.7 738 518C740.7 516.3 745 515.3 748 516C751 516.7 754 519 756 522C758 525 759.7 529.7 760 534C760.3 538.3 758.8 542 758 548C757.2 554 755.7 564.9 755 570L708 570Z" fill="#ff9664"/>
<ellipse cx="743" cy="505" rx="8" ry="6.8" fill="#ff0000" transform="rotate(-20 743 505)"/>
<path d="M514 414C516.8 413.1 522.3 410.2 526 410C529.7 409.8 532.7 411.8 536 413C539.3 414.2 542.7 414.8 546 417C549.3 419.2 553 423.2 556 426C559 428.8 561 431.7 564 434C567 436.3 570.7 438.2 574 440C577.3 441.8 580.7 443.8 584 445C587.3 446.2 590.7 446.2 594 447C597.3 447.8 601.7 448.2 604 450C606.3 451.8 607.2 454.7 608 458C608.8 461.3 608.5 466 609 470C609.5 474 610.5 478 611 482C611.5 486 612.2 490.3 612 494C611.8 497.7 611.7 501.5 610 504C608.3 506.5 605 507.7 602 509C599 510.3 595.3 512 592 512C588.7 512 585.3 510.2 582 509C578.7 507.8 575.3 506.8 572 505C568.7 503.2 564.8 500.5 562 498C559.2 495.5 556.7 493 555 490C553.3 487 552.3 483 552 480C551.7 477 552.5 474.3 553 472C553.5 469.7 555.5 467.7 555 466C554.5 464.3 552.2 462.5 550 462C547.8 461.5 544.7 462.3 542 463C539.3 463.7 536.7 464.7 534 466C531.3 467.3 529.3 469.2 526 471C522.7 472.8 516.8 475.6 514 477L514 414Z" fill="#ffff96"/>
<path d="M686 376C685.1 378.3 683.3 382.8 682 386C680.7 389.2 679.3 392 678 395C676.7 398 676.3 402.8 674 404C671.7 405.2 667.3 402.2 664 402C660.7 401.8 657.3 402 654 403C650.7 404 646.5 405.5 644 408C641.5 410.5 640.2 414.3 639 418C637.8 421.7 637.2 426 637 430C636.8 434 636.8 438.3 638 442C639.2 445.7 641.7 449 644 452C646.3 455 649 458 652 460C655 462 658.7 463.7 662 464C665.3 464.3 669 462 672 462C675 462 678.3 462.3 680 464C681.7 465.7 682 469.3 682 472C682 474.7 681.7 477.7 680 480C678.3 482.3 674.7 484.3 672 486C669.3 487.7 666.7 488.3 664 490C661.3 491.7 659 493 656 496C653 499 649 504 646 508C643 512 640.3 515.7 638 520C635.7 524.3 633.2 530.3 632 534C630.8 537.7 629.7 541.7 631 542C632.3 542.3 637.2 538.3 640 536C642.8 533.7 645.3 530.3 648 528C650.7 525.7 653 523.7 656 522C659 520.3 662.7 519 666 518C669.3 517 672.7 517 676 516C679.3 515 682.7 513.7 686 512C689.3 510.3 692.7 508 696 506C699.3 504 702.7 502 706 500C709.3 498 712.7 496.3 716 494C719.3 491.7 722.7 488.7 726 486C729.3 483.3 732.7 481 736 478C739.3 475 742.7 471.3 746 468C749.3 464.7 752.7 460.7 756 458C759.3 455.3 762.3 453.7 766 452C769.7 450.3 775.2 448.9 778 448L778 376L686 376Z" fill="#ffff96"/>
<ellipse cx="543" cy="550" rx="11.6" ry="11" fill="#ffff96"/>
<path d="M584 552C584 549.3 584.7 546 586 544C587.3 542 589.7 540.3 592 540C594.3 539.7 598 540.3 600 542C602 543.7 603.7 547.3 604 550C604.3 552.7 603.7 556 602 558C600.3 560 596.7 561.7 594 562C591.3 562.3 587.7 561.7 586 560C584.3 558.3 584 554.7 584 552Z" fill="#ffff96"/>
<ellipse cx="746" cy="536" rx="17" ry="17" fill="#ffff96"/>
<path d="M514 421C516.8 420.3 522.3 418.3 526 418C529.7 417.7 532.7 418 536 419C539.3 420 543 422.2 546 424C549 425.8 552.3 427.7 554 430C555.7 432.3 556.7 436 556 438C555.3 440 552.7 441 550 442C547.3 443 543 443 540 444C537 445 534.3 446 532 448C529.7 450 528 453.7 526 456C524 458.3 522 460.6 520 462C518 463.4 515.4 463.8 514 464.4L514 421Z" fill="#c8ffc8"/>
<path d="M563 486C562.5 482.7 563.2 478 564 474C564.8 470 566.3 465.3 568 462C569.7 458.7 571.3 456 574 454C576.7 452 580.7 450.2 584 450C587.3 449.8 591.3 451.3 594 453C596.7 454.7 598.7 457.2 600 460C601.3 462.8 601.7 466.3 602 470C602.3 473.7 602.3 478.3 602 482C601.7 485.7 601.3 489 600 492C598.7 495 596.7 498.2 594 500C591.3 501.8 587.3 503 584 503C580.7 503 576.8 501.5 574 500C571.2 498.5 568.8 496.3 567 494C565.2 491.7 563.5 489.3 563 486Z" fill="#c8ffc8"/>
<path d="M692 376C691.1 378.3 689.3 382.7 688 386C686.7 389.3 685.3 392.7 684 396C682.7 399.3 682 404 680 406C678 408 674.7 407.7 672 408C669.3 408.3 667 407.7 664 408C661 408.3 657 408.7 654 410C651 411.3 648 413.3 646 416C644 418.7 642.7 422.3 642 426C641.3 429.7 641.3 434.3 642 438C642.7 441.7 644 445 646 448C648 451 651 454 654 456C657 458 660.7 459.5 664 460C667.3 460.5 670.7 459 674 459C677.3 459 681.7 458.8 684 460C686.3 461.2 687 463.7 688 466C689 468.3 690.3 471.3 690 474C689.7 476.7 688 479.7 686 482C684 484.3 680.3 486 678 488C675.7 490 673.5 491.7 672 494C670.5 496.3 669.2 499.3 669 502C668.8 504.7 669.5 508 671 510C672.5 512 675.5 514 678 514C680.5 514 683.3 511.8 686 510C688.7 508.2 691 505 694 503C697 501 700.7 499.8 704 498C707.3 496.2 710.7 494.3 714 492C717.3 489.7 720.7 486.7 724 484C727.3 481.3 730.7 479 734 476C737.3 473 740.7 469.3 744 466C747.3 462.7 750.7 459 754 456C757.3 453 760 450 764 448C768 446 774.7 444.9 778 444L778 376L692 376Z" fill="#c8ffc8"/>
<ellipse cx="746" cy="536" rx="12" ry="12" fill="#c8ffc8"/>
<path d="M571 478C571 474.5 571.8 469.3 573 466C574.2 462.7 575.8 459.8 578 458C580.2 456.2 583.3 455 586 455C588.7 455 592.2 456.2 594 458C595.8 459.8 596.7 462.7 597 466C597.3 469.3 596.7 474.3 596 478C595.3 481.7 594.7 485.3 593 488C591.3 490.7 588.5 493.2 586 494C583.5 494.8 580.2 494.2 578 493C575.8 491.8 574.2 489.5 573 487C571.8 484.5 571 481.5 571 478Z" fill="#32c832"/>
<path d="M698 376C698.2 379.3 699 385.3 699 390C699 394.7 698.8 400 698 404C697.2 408 696 411.7 694 414C692 416.3 689 417.5 686 418C683 418.5 679.3 417.5 676 417C672.7 416.5 669.3 415.2 666 415C662.7 414.8 659 414.8 656 416C653 417.2 649.8 419.3 648 422C646.2 424.7 645.3 428.7 645 432C644.7 435.3 645.2 438.7 646 442C646.8 445.3 648 449.3 650 452C652 454.7 655 457.2 658 458C661 458.8 664.7 457.7 668 457C671.3 456.3 675 454.2 678 454C681 453.8 683.7 454.7 686 456C688.3 457.3 690.7 459.3 692 462C693.3 464.7 692.7 469.3 694 472C695.3 474.7 697.3 476.3 700 478C702.7 479.7 706.7 481.3 710 482C713.3 482.7 717 482.7 720 482C723 481.3 725.3 480 728 478C730.7 476 733.3 472.7 736 470C738.7 467.3 741.3 465 744 462C746.7 459 749 455 752 452C755 449 757.7 446.3 762 444C766.3 441.7 774.3 439.4 778 438L778 376L698 376Z" fill="#32c832"/>
<ellipse cx="680.6" cy="500" rx="6" ry="10" fill="#32c832" transform="rotate(20 680.6 500)"/>
<ellipse cx="747" cy="535" rx="6.4" ry="5.6" fill="#32c832" transform="rotate(-30 747 535)"/>
<path d="M700 376C700.7 379.3 702.7 385.3 703 390C703.3 394.7 702.8 399.3 702 404C701.2 408.7 700 414.5 698 418C696 421.5 693 423.7 690 425C687 426.3 683.3 426.2 680 426C676.7 425.8 673.3 424.2 670 424C666.7 423.8 662.8 424 660 425C657.2 426 654.7 427.8 653 430C651.3 432.2 650.2 435.2 650 438C649.8 440.8 650.7 444.5 652 447C653.3 449.5 655.7 452 658 453C660.3 454 663.3 453.7 666 453C668.7 452.3 671.3 449.8 674 449C676.7 448.2 679.3 447.5 682 448C684.7 448.5 688 450 690 452C692 454 692.7 457.3 694 460C695.3 462.7 696 465.7 698 468C700 470.3 703 472.5 706 474C709 475.5 713 476.7 716 477C719 477.3 721.7 477.2 724 476C726.3 474.8 728 472.3 730 470C732 467.7 733.7 464.7 736 462C738.3 459.3 741.7 457 744 454C746.3 451 748 447.3 750 444C752 440.7 753.3 437 756 434C758.7 431 762.3 428 766 426C769.7 424 775.2 422.9 778 422L778 376L700 376Z" fill="#00ffff"/>
<path d="M705 376C705.7 379.3 707.3 385.3 708 390C708.7 394.7 708.7 399.3 709 404C709.3 408.7 709.7 413.3 710 418C710.3 422.7 711 427.3 711 432C711 436.7 709.7 442 710 446C710.3 450 711.3 453.2 713 456C714.7 458.8 717.5 461.7 720 463C722.5 464.3 725.8 464.8 728 464C730.2 463.2 731.7 460.7 733 458C734.3 455.3 734.5 451.3 736 448C737.5 444.7 739.7 441 742 438C744.3 435 747 432.7 750 430C753 427.3 756.7 424.3 760 422C763.3 419.7 767 417.3 770 416C773 414.7 776.1 414.5 778 414L778 376L705 376Z" fill="#0090ff"/>
<path d="M706 376C706.9 377.9 708 382 710 384C712 386 715.3 387.7 718 388C720.7 388.3 723.9 388 726 386C728.1 384 729.4 378.3 730.4 376L706 376Z" fill="#0000ff"/>
<path d="M729.6 376C730.4 378.3 731.3 383.3 733 386C734.7 388.7 737.2 391.2 740 392C742.8 392.8 747.3 392 750 391C752.7 390 754.6 388.5 756 386C757.4 383.5 757.8 378.3 758.4 376L729.6 376Z" fill="#0000ff"/>
</g>
</g>
<clipPath id="tc13"><rect x="774" y="378" width="258" height="189"/></clipPath>
<clipPath id="tl13"><path d="M912 376L912 386L904 392L894 396L888 400L886 408L892 412L898 418L902 424L908 421L914 421L916 427L913 434L916 438L924 441L930 438L934 432L940 426L946 421L954 423L960 428L968 426L976 425L983 430L980 436L972 438L964 442L958 448L952 454L946 460L942 466L940 474L936 480L932 488L929 496L932 502L940 506L948 508L954 516L958 524L962 532L967 540L974 548L982 554L990 559L994 563L991 568L772 570L772 376ZM949 395.6L953 390L959 385L964 380L966.4 376L961 376L956 383L951 389Z"/></clipPath>
<g clip-path="url(#tc13)">
<g clip-path="url(#tl13)">
<rect x="773" y="377" width="260" height="191" fill="#ff6464"/>
<path d="M772 453C774 451.3 778.1 447.9 780.6 445.6C783.1 443.3 784.5 441.1 786.8 439.4C789.1 437.7 791.7 436 794.2 435.6C796.7 435.2 799.3 436.2 801.8 437C804.3 437.8 806.7 439.6 809.2 440.6C811.7 441.6 814.5 442.2 816.6 443.2C818.7 444.2 820.2 445.4 821.6 446.8C823 448.2 823.8 451.4 825.2 451.8C826.6 452.2 828.7 450.6 830.2 449.4C831.7 448.2 832.5 446.1 834 444.4C835.5 442.7 837.1 441.1 839 439.4C840.9 437.7 843.1 435.8 845.2 434.4C847.3 433 848.9 432 851.4 430.8C853.9 429.6 857.4 427.8 860 427C862.6 426.2 864.7 426 867 426C869.3 426 871.2 427.7 874 427C876.8 426.3 880.7 424 884 422C887.3 420 888.3 419 894 415C899.7 411 914 404.5 918 398C922 391.5 918 381.1 918 376L772 376L772 453Z" fill="#ff9664"/>
<path d="M820 508C821.3 505 823.7 502.7 826 500C828.3 497.3 831.3 494.7 834 492C836.7 489.3 839.3 486.7 842 484C844.7 481.3 847.3 479 850 476C852.7 473 855.3 469.3 858 466C860.7 462.7 863.3 459 866 456C868.7 453 871.3 450.3 874 448C876.7 445.7 879.3 444 882 442C884.7 440 887.3 438 890 436C892.7 434 895.3 431.7 898 430C900.7 428.3 903.3 427.3 906 426C908.7 424.7 910.7 421.3 914 422C917.3 422.7 921.7 429.7 926 430C930.3 430.3 936.3 425.8 940 424C943.7 422.2 944.3 418.3 948 419C951.7 419.7 961 425.8 962 428C963 430.2 956.3 430.3 954 432C951.7 433.7 949.7 435.7 948 438C946.3 440.3 945 442.7 944 446C943 449.3 943 454.7 942 458C941 461.3 940 463 938 466C936 469 933 473.3 930 476C927 478.7 923.3 480.3 920 482C916.7 483.7 913.3 484.5 910 486C906.7 487.5 903.3 489.2 900 491C896.7 492.8 893 494.8 890 497C887 499.2 884.7 501.7 882 504C879.3 506.3 877 509 874 511C871 513 867.3 515 864 516C860.7 517 857.7 517 854 517C850.3 517 845.3 516.2 842 516C838.7 515.8 834.3 515 834 516C833.7 517 838.7 519.3 840 522C841.3 524.7 842.7 529.3 842 532C841.3 534.7 838.7 536.7 836 538C833.3 539.3 829 538.7 826 540C823 541.3 820.3 545.7 818 546C815.7 546.3 813 544 812 542C811 540 811.3 536.7 812 534C812.7 531.3 815 528.7 816 526C817 523.3 817.3 521 818 518C818.7 515 818.7 511 820 508Z" fill="#ff9664"/>
<path d="M772 552C773.9 552.5 777.7 552.7 780 554C782.3 555.3 784.6 557.3 786 560C787.4 562.7 787.8 567.7 788.4 570L772 570L772 552Z" fill="#ff9664"/>
<path d="M950 570C950 566.3 949.7 558.3 950 554C950.3 549.7 951 546.5 952 544C953 541.5 954 539.3 956 539C958 538.7 961 540.5 964 542C967 543.5 971 546 974 548C977 550 978.3 551.5 982 554C985.7 556.5 993.7 560.3 996 563C998.3 565.7 996 568.4 996 570L950 570Z" fill="#ff9664"/>
<path d="M949 395.6L953 390L959 385L964 380L966.4 376L961 376L956 383L951 389Z" fill="#ff9664"/>
<path d="M772 448.4C773.7 446.3 777.5 442.1 779.4 439.4C781.3 436.7 782 434.5 783.2 432C784.4 429.5 785.6 426.3 786.8 424.6C788 422.9 789.4 421.8 790.6 422C791.8 422.2 793 424.3 794.2 425.8C795.4 427.3 796.5 429.4 798 430.8C799.5 432.2 801.1 433.4 803 434.4C804.9 435.4 806.9 436.3 809.2 437C811.5 437.7 814.1 438.4 816.6 438.8C819.1 439.2 821.7 439.4 824 439.4C826.3 439.4 828.1 439.4 830.2 438.8C832.3 438.2 834.3 436.9 836.4 435.6C838.5 434.3 840.5 432.2 842.6 430.8C844.7 429.4 846.7 428.2 848.8 427C850.9 425.8 852.5 424.7 855 423.8C857.5 422.9 860.8 421.9 864 421.6C867.2 421.3 870.7 422.9 874 422C877.3 421.1 880.7 418.2 884 416C887.3 413.8 888.3 413.3 894 409C899.7 404.7 914 395.5 918 390C922 384.5 918 379.3 918 376L772 376L772 448.4Z" fill="#ffff96"/>
<path d="M834 506C834 504 836 500.7 838 498C840 495.3 843.3 492.7 846 490C848.7 487.3 851.3 485 854 482C856.7 479 859.3 475.3 862 472C864.7 468.7 867.3 465 870 462C872.7 459 875.3 456.3 878 454C880.7 451.7 883 450 886 448C889 446 892.7 443.7 896 442C899.3 440.3 903 439.3 906 438C909 436.7 911.3 433.8 914 434C916.7 434.2 919.3 438 922 439C924.7 440 927.7 441.2 930 440C932.3 438.8 934.7 431.3 936 432C937.3 432.7 938 440.3 938 444C938 447.7 937 450.7 936 454C935 457.3 934 461 932 464C930 467 927 469.7 924 472C921 474.3 917.3 476.3 914 478C910.7 479.7 907.3 480.5 904 482C900.7 483.5 897.3 485.2 894 487C890.7 488.8 887 490.8 884 493C881 495.2 878.7 497.5 876 500C873.3 502.5 871 506 868 508C865 510 861.3 511.3 858 512C854.7 512.7 851.3 512.3 848 512C844.7 511.7 840.3 511 838 510C835.7 509 834 508 834 506Z" fill="#ffff96"/>
<path d="M946 421C947.3 420.5 952.2 422 954 423C955.8 424 957.5 426.2 957 427C956.5 427.8 952.8 428.2 951 428C949.2 427.8 946.8 427.2 946 426C945.2 424.8 944.7 421.5 946 421Z" fill="#ffff96"/>
<path d="M966.4 376L964 380L959 385L956 383L961 376Z" fill="#ffff96"/>
<path d="M772 445C773.4 442.8 776.6 438.4 778.2 435.6C779.8 432.8 780.6 430.7 781.8 428.2C783 425.7 784.3 422.6 785.6 420.8C786.9 419 788.2 417.8 789.4 417.6C790.6 417.4 791.8 418.2 793 419.6C794.2 421 795.3 423.9 796.8 425.8C798.3 427.7 799.9 429.5 801.8 430.8C803.7 432.1 805.7 433 808 433.8C810.3 434.6 812.9 435.1 815.4 435.6C817.9 436.1 820.5 436.8 822.8 437C825.1 437.2 826.9 437.5 829 437C831.1 436.5 833.3 435.3 835.2 433.8C837.1 432.3 838.5 430 840.2 428.2C841.9 426.4 843.3 424.4 845.2 423.2C847.1 422 848.6 421.7 851.4 420.8C854.2 419.9 858.2 418.2 862 417.6C865.8 417 870.3 418.1 874 417C877.7 415.9 880.7 413.3 884 411C887.3 408.7 891 405.8 894 403C897 400.2 899.7 396.8 902 394C904.3 391.2 905.3 389 908 386C910.7 383 915.7 378.3 918 376L772 376L772 445Z" fill="#c8ffc8"/>
<path d="M846 502C846.3 499.8 848 496.7 850 494C852 491.3 855.3 489 858 486C860.7 483 863.3 479.3 866 476C868.7 472.7 871.3 469 874 466C876.7 463 879.3 460.3 882 458C884.7 455.7 887 454 890 452C893 450 896.7 448 900 446C903.3 444 906.7 440.8 910 440C913.3 439.2 917 440.5 920 441C923 441.5 926 441.8 928 443C930 444.2 931.3 445.8 932 448C932.7 450.2 932.7 453.3 932 456C931.3 458.7 930 461.7 928 464C926 466.3 923 468.2 920 470C917 471.8 913.3 473.5 910 475C906.7 476.5 903.3 477.5 900 479C896.7 480.5 893 482.2 890 484C887 485.8 884.7 487.7 882 490C879.3 492.3 876.7 495.3 874 498C871.3 500.7 869 504.2 866 506C863 507.8 859 508.8 856 509C853 509.2 849.7 508.2 848 507C846.3 505.8 845.7 504.2 846 502Z" fill="#c8ffc8"/>
<path d="M772 442C773.2 439.9 775.6 436.1 777 433.2C778.4 430.3 779.2 427.3 780.6 424.6C782 421.9 783.9 418.9 785.6 417C787.3 415.1 788.9 413.8 790.6 413.4C792.3 413 794.2 413.4 795.6 414.6C797 415.8 797.8 418.9 799.2 420.8C800.6 422.7 802.5 424.4 804.2 425.8C805.9 427.2 807.3 428.4 809.2 429.4C811.1 430.4 813.3 431.3 815.4 432C817.5 432.7 819.3 433.4 821.6 433.8C823.9 434.2 826.9 434.8 829 434.4C831.1 434 832.3 432.8 834 431.4C835.7 430 837.3 427.6 839 425.8C840.7 424 842.1 422 844 420.8C845.9 419.6 847.5 419.3 850.2 418.4C852.9 417.5 856.7 415.9 860 415.2C863.3 414.5 866.7 415.2 870 414C873.3 412.8 876.7 410.3 880 408C883.3 405.7 887 402.7 890 400C893 397.3 895.7 394.7 898 392C900.3 389.3 902 386.7 904 384C906 381.3 908.6 377.9 910 376L772 376L772 442Z" fill="#32c832"/>
<path d="M854 498C854.2 496 856 492.7 858 490C860 487.3 863.3 485 866 482C868.7 479 871.3 475 874 472C876.7 469 879.3 466.5 882 464C884.7 461.5 887 459.2 890 457C893 454.8 896.7 453 900 451C903.3 449 906.7 446.3 910 445C913.3 443.7 917.2 442.7 920 443C922.8 443.3 925.5 445.2 927 447C928.5 448.8 929.2 451.5 929 454C928.8 456.5 927.8 459.7 926 462C924.2 464.3 921 466.3 918 468C915 469.7 911.3 470.7 908 472C904.7 473.3 901.3 474.3 898 476C894.7 477.7 891 480 888 482C885 484 882.7 485.7 880 488C877.3 490.3 874.7 493.7 872 496C869.3 498.3 866.5 501 864 502C861.5 503 858.7 502.7 857 502C855.3 501.3 853.8 500 854 498Z" fill="#32c832"/>
<path d="M772 430.4C773.7 427.9 777.3 422.7 779.4 419.6C781.5 416.5 782.7 414 784.4 412C786.1 410 787.5 408.8 789.4 407.8C791.3 406.8 793.5 406.1 795.6 405.8C797.7 405.5 800.2 405.2 801.8 405.8C803.4 406.4 804.2 407.9 805.4 409.6C806.6 411.3 807.7 413.9 809.2 415.8C810.7 417.7 812.6 419.3 814.2 420.8C815.8 422.3 817.4 423.5 819 424.6C820.6 425.7 822.3 426.8 824 427.6C825.7 428.4 827.3 429.7 829 429.4C830.7 429.1 832.6 427.4 834 425.8C835.4 424.2 836.4 421.7 837.6 419.6C838.8 417.5 839.7 414.7 841.4 413.4C843.1 412.1 845.5 412.4 847.6 412C849.7 411.6 851.6 411.3 853.8 410.8C856 410.3 858.3 409.5 861 409C863.7 408.5 866.8 409.5 870 408C873.2 406.5 877 402.3 880 400C883 397.7 885.7 396 888 394C890.3 392 892.3 390 894 388C895.7 386 896.3 384 898 382C899.7 380 902.6 377.4 904 376L772 376L772 430.4Z" fill="#00ffff"/>
<path d="M892 464C892.7 462.2 895.3 458.8 898 457C900.7 455.2 904.7 453.8 908 453C911.3 452.2 917 451.2 918 452.4C919 453.6 915.7 457.7 914 460C912.3 462.3 910.3 464.5 908 466C905.7 467.5 902.3 468.7 900 469C897.7 469.3 895.3 468.8 894 468C892.7 467.2 891.3 465.8 892 464Z" fill="#00ffff"/>
<path d="M872 480C871.8 479.4 874 478.2 875 478C876 477.8 877.8 478.4 878 479C878.2 479.6 877 481.2 876 481.4C875 481.6 872.2 480.6 872 480Z" fill="#00ffff"/>
<path d="M772 416.4C774 414.5 778.1 410.8 780.6 408.4C783.1 406 784.7 404.1 786.8 402.2C788.9 400.3 790.9 398.4 793 397.2C795.1 396 797.1 394.9 799.2 394.8C801.3 394.7 803.3 395.8 805.4 396.6C807.5 397.4 809.5 399.1 811.6 399.6C813.7 400.1 815.7 400 817.8 399.6C819.9 399.2 821.9 398 824 397.2C826.1 396.4 828.1 395.1 830.2 394.8C832.3 394.5 834.5 394.6 836.4 395.4C838.3 396.2 839.7 398.1 841.4 399.6C843.1 401.1 844.5 403.4 846.4 404.6C848.3 405.8 850.3 406.5 852.6 406.6C854.9 406.7 857.4 405.8 860 405C862.6 404.2 865.3 402.9 868 401.6C870.7 400.3 873.3 399.1 876 397C878.7 394.9 881.6 392.5 884 389C886.4 385.5 888.9 379 890.4 376L772 376L772 416.4Z" fill="#0090ff"/>
<ellipse cx="827.2" cy="414.6" rx="6.2" ry="6.8" fill="#0090ff"/>
<path d="M814 376C814.4 377.2 814.7 379.7 815.6 381C816.5 382.3 818.1 383.8 819.6 384C821.1 384.2 822.8 383.3 824.4 382C826 380.7 827.9 377.4 829 376L814 376Z" fill="#0000ff"/>
<path d="M784 484C784.8 482.2 787.3 479.7 790 478C792.7 476.3 796.7 474.5 800 474C803.3 473.5 807 474.3 810 475C813 475.7 816.3 476.8 818 478C819.7 479.2 820.7 480.5 820 482C819.3 483.5 816.3 485.7 814 487C811.7 488.3 808.7 489 806 490C803.3 491 800.7 492.7 798 493C795.3 493.3 792.2 492.7 790 492C787.8 491.3 786 490.3 785 489C784 487.7 783.2 485.8 784 484Z" fill="#ff0000"/>
<path d="M828 472C828.7 470.7 830.5 468.3 832 467C833.5 465.7 835.8 464.4 837 464.4C838.2 464.4 839.2 465.7 839 467C838.8 468.3 837.3 470.5 836 472C834.7 473.5 832.4 475.5 831 476C829.6 476.5 828.1 475.7 827.6 475C827.1 474.3 827.3 473.3 828 472Z" fill="#ff0000"/>
<path d="M791 522C791 520.3 793 517.3 794 516C795 514.7 796.3 513.7 797 514C797.7 514.3 798 516.3 798 518C798 519.7 797.7 522.7 797 524C796.3 525.3 795 526.3 794 526C793 525.7 791 523.7 791 522Z" fill="#ff0000"/>
<path d="M898 499C895.7 498.7 892.7 502.2 890 504C887.3 505.8 884.7 507.7 882 510C879.3 512.3 876.3 515.3 874 518C871.7 520.7 870.7 524 868 526C865.3 528 861.3 529 858 530C854.7 531 851.3 530.7 848 532C844.7 533.3 840.7 535.3 838 538C835.3 540.7 833.7 544.7 832 548C830.3 551.3 829.2 554.3 828 558C826.8 561.7 825.7 567.2 825 570L908 570C908.5 566.3 909.5 558.7 910 554C910.5 549.3 911 546 911 542C911 538 910.5 534 910 530C909.5 526 909 522 908 518C907 514 905.7 509.2 904 506C902.3 502.8 900.3 499.3 898 499Z" fill="#ff0000"/>
</g>
<path class="cb" d="M912 376L912 386L904 392L894 396L888 400L886 408L892 412L898 418L902 424L908 421L914 421L916 427L913 434L916 438L924 441L930 438L934 432L940 426L946 421L954 423L960 428L968 426L976 425L983 430L980 436L972 438L964 442L958 448L952 454L946 460L942 466L940 474L936 480L932 488L929 496L932 502L940 506L948 508L954 516L958 524L962 532L967 540L974 548L982 554L990 559L994 563L991 568"/>
<path class="cb" d="M949 395.6L953 390L959 385L964 380L966.4 376L961 376L956 383L951 389"/>
</g>
<clipPath id="tc14"><rect x="645" y="567" width="258" height="189"/></clipPath>
<clipPath id="tl14"><path d="M643 565L905 565L905 759L643 759Z"/></clipPath>
<g clip-path="url(#tc14)">
<g clip-path="url(#tl14)">
<rect x="644" y="566" width="260" height="191" fill="#ff9664"/>
<path d="M671 587C671.8 583.7 672.7 580 675 577C677.3 574 681.3 571 685 569C688.7 567 694.2 565.9 697 565L757 565C756.1 567.3 754.3 571.3 753 575C751.7 578.7 749 583.3 749 587C749 590.7 751 593.7 753 597C755 600.3 759 603.3 761 607C763 610.7 764.7 615 765 619C765.3 623 764.3 628 763 631C761.7 634 759.7 636 757 637C754.3 638 750.3 637.3 747 637C743.7 636.7 740 636.3 737 635C734 633.7 731 631.3 729 629C727 626.7 726.3 623.7 725 621C723.7 618.3 723.3 614 721 613C718.7 612 714.3 614.3 711 615C707.7 615.7 704.3 616.7 701 617C697.7 617.3 694.3 617.7 691 617C687.7 616.3 684 615 681 613C678 611 674.8 607.7 673 605C671.2 602.3 670.3 600 670 597C669.7 594 670.2 590.3 671 587Z" fill="#ff6464"/>
<path d="M799 565C800.4 567.3 802.7 571.3 805 575C807.3 578.7 811 583 813 587C815 591 817 595 817 599C817 603 814.5 607.7 813 611C811.5 614.3 809 615.7 808 619C807 622.3 806.8 627 807 631C807.2 635 807.3 640 809 643C810.7 646 814 647.3 817 649C820 650.7 823.7 651.7 827 653C830.3 654.3 834.3 655 837 657C839.7 659 840.3 663.7 843 665C845.7 666.3 849.3 665.7 853 665C856.7 664.3 861 662.3 865 661C869 659.7 873 658.7 877 657C881 655.3 885.7 653 889 651C892.3 649 894 647 897 645C900 643 904.7 640.4 907 639L907 565L799 565Z" fill="#ff6464"/>
<path d="M666 641C666 639.3 667.5 637 669 636C670.5 635 673 634.5 675 635C677 635.5 680.2 637.3 681 639C681.8 640.7 681 643.7 680 645C679 646.3 676.8 646.8 675 647C673.2 647.2 670.5 647 669 646C667.5 645 666 642.7 666 641Z" fill="#ff6464"/>
<path d="M827 565C827.9 566.4 828.7 569.3 831 571C833.3 572.7 837.3 574.2 841 575C844.7 575.8 849 576 853 576C857 576 861 575.7 865 575C869 574.3 873 572.8 877 572C881 571.2 884.7 570.5 889 570C893.3 569.5 899.8 569.8 902.8 569C905.8 568.2 906 565.9 907 565L827 565Z" fill="#ff0000"/>
<path d="M907 587C904.7 587.5 899.5 587.7 897 589C894.5 590.3 892.7 592.7 892 595C891.3 597.3 891.8 601 893 603C894.2 605 896.7 606.7 899 607C901.3 607.3 905.1 605.5 907 605L907 587Z" fill="#ff9664"/>
<path d="M643 658C645.8 658.2 651.3 658.7 655 659C658.7 659.3 661.7 660.2 665 660C668.3 659.8 671.7 658.5 675 658C678.3 657.5 681.7 656.8 685 657C688.3 657.2 691.7 658.3 695 659C698.3 659.7 701.7 660 705 661C708.3 662 711.7 664.2 715 665C718.3 665.8 721.7 666.3 725 666C728.3 665.7 731.7 664.2 735 663C738.3 661.8 741.7 660.3 745 659C748.3 657.7 752 656.3 755 655C758 653.7 761.3 653 763 651C764.7 649 765 646 765 643C765 640 763 636.3 763 633C763 629.7 764 626 765 623C766 620 768 617.7 769 615C770 612.3 771.3 609.7 771 607C770.7 604.3 768.5 601.7 767 599C765.5 596.3 763 593.3 762 591C761 588.7 760.5 587 761 585C761.5 583 763 580.3 765 579C767 577.7 770 577.2 773 577C776 576.8 780 577 783 578C786 579 789 580.8 791 583C793 585.2 794 588 795 591C796 594 796.5 597.7 797 601C797.5 604.3 798 607.3 798 611C798 614.7 797.8 619.3 797 623C796.2 626.7 794.3 629.7 793 633C791.7 636.3 789 640.3 789 643C789 645.7 791 647.3 793 649C795 650.7 798.7 651.3 801 653C803.3 654.7 805.3 657 807 659C808.7 661 809 664.3 811 665C813 665.7 816.3 663 819 663C821.7 663 824.7 663.3 827 665C829.3 666.7 831.3 670.3 833 673C834.7 675.7 835 679 837 681C839 683 842 684.5 845 685C848 685.5 851.7 684.5 855 684C858.3 683.5 861.7 682.8 865 682C868.3 681.2 871.7 679.8 875 679C878.3 678.2 881.7 677.5 885 677C888.3 676.5 891.3 676.3 895 676C898.7 675.7 904.2 675.2 907 675L907 759L643 759L643 658Z" fill="#ffff96"/>
<ellipse cx="658" cy="581" rx="9" ry="13" fill="#ffff96" transform="rotate(20 658 581)"/>
<ellipse cx="659" cy="581" rx="2.8" ry="3.6" fill="#c8ffc8" transform="rotate(20 659 581)"/>
<path d="M750 707C749.7 705 751.2 701.7 753 699C754.8 696.3 758 693.3 761 691C764 688.7 767.7 686.2 771 685C774.3 683.8 778.3 683.3 781 684C783.7 684.7 785.8 687.2 787 689C788.2 690.8 788.7 692.7 788 695C787.3 697.3 785.2 700.7 783 703C780.8 705.3 778 707.7 775 709C772 710.3 768.3 710.7 765 711C761.7 711.3 757.5 711.7 755 711C752.5 710.3 750.3 709 750 707Z" fill="#ff9664"/>
<path d="M663 737C664.5 734.3 667.7 732.3 671 731C674.3 729.7 679 729.7 683 729C687 728.3 691.3 727.7 695 727C698.7 726.3 702.7 724.3 705 725C707.3 725.7 708.2 728.3 709 731C709.8 733.7 710 737.7 710 741C710 744.3 709.5 748 709 751C708.5 754 707.5 757.1 707 759L665 759C664.3 756.2 662.3 750.7 662 747C661.7 743.3 661.5 739.7 663 737Z" fill="#ff9664"/>
<path d="M729 759C729.5 756.2 729.3 750.3 731 747C732.7 743.7 736 740.7 739 739C742 737.3 745.7 737.2 749 737C752.3 736.8 755.7 737.3 759 738C762.3 738.7 766 739.5 769 741C772 742.5 775 744 777 747C779 750 780.1 756.2 781 759L729 759Z" fill="#ff9664"/>
<path d="M745 759C745.5 756.7 745.7 751.2 747 749C748.3 746.8 750.7 746.2 753 746C755.3 745.8 758.7 746.8 761 748C763.3 749.2 765.6 751.2 767 753C768.4 754.8 768.8 757.6 769.4 759L745 759Z" fill="#ff6464"/>
<path d="M773 589C773.7 586.8 776.7 584.5 779 584C781.3 583.5 784.8 584.5 787 586C789.2 587.5 790.8 590.2 792 593C793.2 595.8 793.8 599.3 794 603C794.2 606.7 793.7 611 793 615C792.3 619 790.8 623.3 790 627C789.2 630.7 788.8 633.7 788 637C787.2 640.3 786.5 644.7 785 647C783.5 649.3 781.3 650.7 779 651C776.7 651.3 773 650.3 771 649C769 647.7 767.8 645.7 767 643C766.2 640.3 765.7 636.3 766 633C766.3 629.7 767.5 626 769 623C770.5 620 773.5 617.7 775 615C776.5 612.3 778 610 778 607C778 604 775.8 600 775 597C774.2 594 772.3 591.2 773 589Z" fill="#c8ffc8"/>
<path d="M643 663C645.8 663.9 650.7 666.7 655 667C659.3 667.3 664 665.5 669 665C674 664.5 680.3 664 685 664C689.7 664 693.3 664.2 697 665C700.7 665.8 704.3 667 707 669C709.7 671 711.8 674 713 677C714.2 680 714.2 683.7 714 687C713.8 690.3 712.8 693.7 712 697C711.2 700.3 710.5 704.3 709 707C707.5 709.7 706 711.2 703 713C700 714.8 695.3 716.5 691 718C686.7 719.5 681.3 720.7 677 722C672.7 723.3 669 724.7 665 726C661 727.3 656.7 728.8 653 730C649.3 731.2 645.3 732.3 643 733L643 663Z" fill="#c8ffc8"/>
<path d="M713 673C714.7 672.3 721.7 678.7 725 679C728.3 679.3 730.3 676.7 733 675C735.7 673.3 738 670.7 741 669C744 667.3 747.7 666.3 751 665C754.3 663.7 757.3 662 761 661C764.7 660 769 659.5 773 659C777 658.5 781.3 657.7 785 658C788.7 658.3 792.3 659.5 795 661C797.7 662.5 799.7 664.7 801 667C802.3 669.3 802.7 672.3 803 675C803.3 677.7 803.3 680.3 803 683C802.7 685.7 802 690 801 691C800 692 798.7 690.3 797 689C795.3 687.7 793.3 684.8 791 683C788.7 681.2 786 679.2 783 678C780 676.8 776.3 676 773 676C769.7 676 766 676.7 763 678C760 679.3 757.7 681.8 755 684C752.3 686.2 749.3 688.8 747 691C744.7 693.2 743 694.7 741 697C739 699.3 736.7 703.3 735 705C733.3 706.7 732.3 708 731 707C729.7 706 728 701.7 727 699C726 696.3 726 693.5 725 691C724 688.5 722.7 685.3 721 684C719.3 682.7 716.3 684.8 715 683C713.7 681.2 711.3 673.7 713 673Z" fill="#c8ffc8"/>
<path d="M801 691C801.7 689.3 801 694.7 803 695C805 695.3 809.3 693 813 693C816.7 693 821.3 693.7 825 695C828.7 696.3 831.7 700.3 835 701C838.3 701.7 841.7 700 845 699C848.3 698 851.7 696.3 855 695C858.3 693.7 861.7 692 865 691C868.3 690 871.7 689.5 875 689C878.3 688.5 881.7 688 885 688C888.3 688 891.3 688.7 895 689C898.7 689.3 904.2 689.8 907 690L907 759L785 759C784.5 756.2 784.3 750.3 783 747C781.7 743.7 778.7 742.3 777 739C775.3 735.7 774.3 729.7 773 727C771.7 724.3 768.7 724.3 769 723C769.3 721.7 772.3 720.3 775 719C777.7 717.7 782 716.3 785 715C788 713.7 790.7 712.7 793 711C795.3 709.3 797.7 708.3 799 705C800.3 701.7 800.3 692.7 801 691Z" fill="#c8ffc8"/>
<path d="M711 723C713 721.3 718 720.7 721 721C724 721.3 727 723 729 725C731 727 733 730.7 733 733C733 735.3 731 737.7 729 739C727 740.3 723.7 739.7 721 741C718.3 742.3 714.7 744.5 713 747C711.3 749.5 711.5 756.5 711 755.8C710.5 755.1 710.3 747.1 710 743C709.7 738.9 708.8 734.3 709 731C709.2 727.7 709 724.7 711 723Z" fill="#c8ffc8"/>
<path d="M643 727C645.3 727.7 650.3 728.3 653 730C655.7 731.7 657.5 734.2 659 737C660.5 739.8 661.2 743.3 662 747C662.8 750.7 663.5 756.2 664 759L643 759L643 727Z" fill="#c8ffc8"/>
<path d="M835 711C835 709 835.8 706 837 705C838.2 704 840.7 704 842 705C843.3 706 844.5 708.7 845 711C845.5 713.3 845.7 717.3 845 719C844.3 720.7 842.3 721.3 841 721C839.7 720.7 838 718.7 837 717C836 715.3 835 713 835 711Z" fill="#ffff96"/>
<path d="M643 671C645.3 670.5 649.3 669.7 653 669C656.7 668.3 661 667.2 665 667C669 666.8 673 667.3 677 668C681 668.7 685.3 669.8 689 671C692.7 672.2 696.3 673 699 675C701.7 677 704 680 705 683C706 686 705.7 689.7 705 693C704.3 696.3 703 700.3 701 703C699 705.7 696.3 707 693 709C689.7 711 685 713.3 681 715C677 716.7 673 717.7 669 719C665 720.3 661.3 722 657 723C652.7 724 646.3 724.5 643 725L643 671Z" fill="#32c832"/>
<ellipse cx="746" cy="678" rx="10.4" ry="8.8" fill="#32c832" transform="rotate(-20 746 678)"/>
<path d="M781 671C781.3 669.5 784.8 667.1 787 666C789.2 664.9 792.2 664.1 794 664.6C795.8 665.1 797.7 667.3 798 669C798.3 670.7 797.3 673.7 796 675C794.7 676.3 791.8 677 790 677C788.2 677 786.5 676 785 675C783.5 674 780.7 672.5 781 671Z" fill="#32c832"/>
<ellipse cx="776.6" cy="632" rx="9" ry="13" fill="#32c832"/>
<path d="M773 721C773.7 719 778.3 717.3 781 715C783.7 712.7 786.3 709.7 789 707C791.7 704.3 794.3 701 797 699C799.7 697 802 695.7 805 695C808 694.3 812 694 815 695C818 696 821 698.3 823 701C825 703.7 825.7 707.7 827 711C828.3 714.3 829.3 718.3 831 721C832.7 723.7 834.7 726 837 727C839.3 728 842.7 728.3 845 727C847.3 725.7 849.7 722 851 719C852.3 716 852 712 853 709C854 706 855 703.3 857 701C859 698.7 862 696.5 865 695C868 693.5 871.7 692.7 875 692C878.3 691.3 881.7 691 885 691C888.3 691 891.3 691.7 895 692C898.7 692.3 904.2 692.8 907 693L907 759L789 759C788.5 756.2 788 751 787 747C786 743 784.7 738.3 783 735C781.3 731.7 778.7 729.3 777 727C775.3 724.7 772.3 723 773 721Z" fill="#32c832"/>
<path d="M643 679C644.9 678.3 648 677 651 676C654 675 657.3 673.2 661 673C664.7 672.8 669 673.7 673 675C677 676.3 681.8 678.7 685 681C688.2 683.3 691 686.3 692 689C693 691.7 692.2 694.7 691 697C689.8 699.3 687.7 701.3 685 703C682.3 704.7 678.3 705.3 675 707C671.7 708.7 668.3 711.5 665 713C661.7 714.5 658.7 715.3 655 716C651.3 716.7 645.8 716.8 643 717L643 679Z" fill="#00ffff"/>
<ellipse cx="776.6" cy="632" rx="2.4" ry="3.6" fill="#00ffff"/>
<path d="M793 729C793.7 726.8 796.7 725 799 724C801.3 723 804.3 722.5 807 723C809.7 723.5 812.8 725 815 727C817.2 729 818.8 732.3 820 735C821.2 737.7 822.2 740.7 822 743C821.8 745.3 820.5 747.3 819 749C817.5 750.7 815.3 752.5 813 753C810.7 753.5 807.3 753.3 805 752C802.7 750.7 800.7 747.5 799 745C797.3 742.5 796 739.7 795 737C794 734.3 792.3 731.2 793 729Z" fill="#00ffff"/>
<path d="M855 723C855.3 719.3 857.3 715.7 859 713C860.7 710.3 862.3 708.3 865 707C867.7 705.7 872.3 704.7 875 705C877.7 705.3 879.8 706.7 881 709C882.2 711.3 882.3 715.7 882 719C881.7 722.3 879.2 725.7 879 729C878.8 732.3 879.7 736 881 739C882.3 742 884.7 745 887 747C889.3 749 891.7 750.3 895 751C898.3 751.7 904.2 751 907 751L907 759L875 759C872.7 756.2 868 751 865 747C862 743 858.7 739 857 735C855.3 731 854.7 726.7 855 723Z" fill="#00ffff"/>
<path d="M907 703C905.6 703.9 902.2 705 901 707C899.8 709 899 712.7 900 715C901 717.3 905.4 719.6 907 721L907 703Z" fill="#00ffff"/>
<ellipse cx="663" cy="691.4" rx="6" ry="6.4" fill="#0090ff" transform="rotate(-20 663 691.4)"/>
</g>
</g>
<clipPath id="tc15"><rect x="903" y="567" width="258" height="189"/></clipPath>
<clipPath id="tl15"><path d="M991 565L996 573L997 579L991 584L983 589L977 595L973 602L979 604L987 601L993 603L999 607L1005 609L1003 615L999 621L1001 629L999 637L1002 645L997 649L993 653L989 661L985 669L981 677L977 685L973 691L967 695L965 703L969 709L965 715L961 723L957 729L951 737L945 743L939 749L932 757L901 759L901 565Z"/></clipPath>
<g clip-path="url(#tc15)">
<g clip-path="url(#tl15)">
<rect x="902" y="566" width="260" height="191" fill="#ff6464"/>
<path d="M951 565C951.2 568.3 952.3 574.3 952 579C951.7 583.7 950 588.3 949 593C948 597.7 947.3 602.3 946 607C944.7 611.7 942.8 616.7 941 621C939.2 625.3 937.3 629.3 935 633C932.7 636.7 930 640 927 643C924 646 920.3 648.8 917 651C913.7 653.2 909.7 655 907 656C904.3 657 902.4 656.8 901 657L901 759L1165 759L1165 565L951 565Z" fill="#ff9664"/>
<path d="M961.4 565C961.1 568.3 961 574.3 960 579C959 583.7 956.9 588.3 955.4 593C953.9 597.7 952.2 602.3 951 607C949.8 611.7 949.3 616.3 948 621C946.7 625.7 945.2 630.7 943 635C940.8 639.3 938 643.3 935 647C932 650.7 928.7 654.2 925 657C921.3 659.8 917 662.3 913 664C909 665.7 903.8 666.3 901 667L901 759L1165 759L1165 565L961.4 565Z" fill="#ffff96"/>
<path d="M966.2 565C965.7 568.3 965.2 574.3 964 579C962.8 583.7 960.7 588.3 959 593C957.3 597.7 955.2 602.3 954 607C952.8 611.7 952.8 616.3 952 621C951.2 625.7 950.7 630.3 949 635C947.3 639.7 945 644.7 942 649C939 653.3 935.2 657.3 931 661C926.8 664.7 922 668.5 917 671C912 673.5 904.7 674.8 901 676L901 759L1165 759L1165 565L966.2 565Z" fill="#c8ffc8"/>
<path d="M968.6 565C968.2 567.8 967.3 573.3 967 577C966.7 580.7 967.4 583.8 966.6 587C965.8 590.2 963.7 592.7 962 596C960.3 599.3 957.8 603.2 956.6 607C955.4 610.8 954.8 615 954.6 619C954.4 623 954.8 627 955.4 631C956 635 957.7 639.3 958 643C958.3 646.7 958.2 649.3 957 653C955.8 656.7 953.7 661.3 951 665C948.3 668.7 944.7 672 941 675C937.3 678 933.3 680.7 929 683C924.7 685.3 919.7 687.5 915 689C910.3 690.5 904.3 691.3 901 692L901 759L1165 759L1165 565L968.6 565Z" fill="#32c832"/>
<path d="M983 565C982.9 567.8 983.3 573.3 982.6 577C981.9 580.7 980.6 584.3 979 587C977.4 589.7 975 591 973 593C971 595 968.7 596.7 967 599C965.3 601.3 963.8 604 963 607C962.2 610 961.7 613.7 962 617C962.3 620.3 963.7 623.7 965 627C966.3 630.3 969 633.7 970 637C971 640.3 971.3 643.7 971 647C970.7 650.3 969.3 653.7 968 657C966.7 660.3 964.8 663.7 963 667C961.2 670.3 959.7 673.7 957 677C954.3 680.3 950.7 684 947 687C943.3 690 939.3 692.7 935 695C930.7 697.3 925.3 699.5 921 701C916.7 702.5 912.3 703.3 909 704C905.7 704.7 902.9 704.8 901 705L901 759L1165 759L1165 565L983 565Z" fill="#00ffff"/>
<path d="M901 725C903.3 724.8 907.7 725 911 724C914.3 723 918 720.4 921 719C924 717.6 927 715.4 929 715.4C931 715.4 932.8 717.1 933 719C933.2 720.9 931.5 724 930 727C928.5 730 925.7 733.7 924 737C922.3 740.3 921 743.3 920 747C919 750.7 918.5 756.2 918 759L901 759L901 725Z" fill="#32c832"/>
<path d="M975 601C943.7 603 976.2 609 977 613C977.8 617 978.7 621.3 980 625C981.3 628.7 983.8 631.3 985 635C986.2 638.7 987.2 643.3 987 647C986.8 650.7 985 653.7 984 657C983 660.3 982.2 663.7 981 667C979.8 670.3 979 674 977 677C975 680 972.3 682.7 969 685C965.7 687.3 961 689 957 691C953 693 947.8 694.7 945 697C942.2 699.3 940.3 702.3 940 705C939.7 707.7 942 710.3 943 713C944 715.7 946 718 946 721C946 724 944.5 728 943 731C941.5 734 939.3 736.3 937 739C934.7 741.7 931.8 743.7 929 747C926.2 750.3 922.1 756.2 920 759L1165 759L1165 601C1120.7 601 1006.3 599 975 601Z" fill="#0090ff"/>
<path d="M995 611C996.2 608 999.2 607.2 1001 607C1002.8 606.8 1005.7 608 1006 610C1006.3 612 1004.2 616.2 1003 619C1001.8 621.8 1000.5 626 999 627C997.5 628 994.7 627.7 994 625C993.3 622.3 993.8 614 995 611Z" fill="#0000ff"/>
<path d="M962 711C962 709.2 964.7 705.3 966 705C967.3 704.7 970 707.2 970 709C970 710.8 967.3 715.7 966 716C964.7 716.3 962 712.8 962 711Z" fill="#0000ff"/>
<path d="M943 747C943.3 745 946.8 739.7 949 737C951.2 734.3 955.3 730.3 956 731C956.7 731.7 954.5 738 953 741C951.5 744 948.7 748 947 749C945.3 750 942.7 749 943 747Z" fill="#0000ff"/>
</g>
<path class="cb" d="M991 565L996 573L997 579L991 584L983 589L977 595L973 602L979 604L987 601L993 603L999 607L1005 609L1003 615L999 621L1001 629L999 637L1002 645L997 649L993 653L989 661L985 669L981 677L977 685L973 691L967 695L965 703L969 709L965 715L961 723L957 729L951 737L945 743L939 749L932 757"/>
</g>
<clipPath id="tc16"><rect x="387" y="756" width="258" height="188"/></clipPath>
<clipPath id="tl16"><path d="M483 754L485 762L487 768L483 774L487 773L495 771L503 771L510 772L508 778L510 786L512 793L517 796L523 799L521 805L519 811L517 816L518 820L525 821L531 823L535 828L537 834L543 835L549 835L555 832L559 831L559 838L563 842L569 843L575 845L575 836L573 829L571 822L573 816L579 814L585 815L589 812L595 809L601 812L607 812L613 809L619 810L625 812L631 808L637 807L647 803.6L647 754Z"/></clipPath>
<g clip-path="url(#tc16)">
<g clip-path="url(#tl16)">
<rect x="386" y="755" width="260" height="190" fill="#ffff96"/>
<path d="M481 754L515 754C515.5 756.8 516 762.3 517 766C518 769.7 519.3 773.3 521 776C522.7 778.7 525.9 779.7 527 782C528.1 784.3 528.1 787.8 527.4 790C526.7 792.2 525.1 793.7 523 795C520.9 796.3 518 797.8 515 798C512 798.2 510.7 799.7 505 796C499.3 792.3 485 783 481 776C477 769 481 759.1 481 754Z" fill="#ff9664"/>
<path d="M541 754C540.8 756.8 539.7 762.8 540 766C540.3 769.2 541.8 772.3 543 773C544.2 773.7 546 771.8 547 770C548 768.2 548 764 549 762C550 760 550.7 759 553 758C555.3 757 559.7 756.7 563 756C566.3 755.3 570.7 754.5 573 754L541 754Z" fill="#ff9664"/>
<path d="M571 754C572.4 755.2 574.7 757.5 577 759C579.3 760.5 583 763.2 585 763C587 762.8 588 759.5 589 758C590 756.5 590.5 754.9 591 754L571 754Z" fill="#ff9664"/>
<path d="M485 775C484.3 774.5 486.7 770.9 488 770C489.3 769.1 492.3 769.1 493 769.6C493.7 770.1 493.3 772.1 492 773C490.7 773.9 485.7 775.5 485 775Z" fill="#ff6464"/>
<path d="M593 810C593.7 807.3 597 802.5 599 800C601 797.5 603 796.3 605 795C607 793.7 609.3 793 611 792C612.7 791 613.3 789.2 615 789C616.7 788.8 618.7 790.3 621 791C623.3 791.7 626.3 792.2 629 793C631.7 793.8 634.7 795 637 796C639.3 797 641 798 643 799C645 800 647.6 801.3 649 802L649 816C636.4 816 604.3 817 595 816C585.7 815 592.3 812.7 593 810Z" fill="#ff9664"/>
<path d="M517 807C519 805 523.7 804.3 527 804C530.3 803.7 533.7 804.5 537 805C540.3 805.5 544 806.2 547 807C550 807.8 552.7 808.8 555 810C557.3 811.2 559 812.7 561 814C563 815.3 565 817 567 818C569 819 571 815 573 820C575 825 588.7 843.3 579 848C569.3 852.7 525.7 853.3 515 848C504.3 842.7 514.7 822.8 515 816C515.3 809.2 515 809 517 807Z" fill="#c8ffc8"/>
<path d="M621 776C621.3 774.5 624.7 773 627 772C629.3 771 633 769.7 635 770C637 770.3 638.7 772.3 639 774C639.3 775.7 638.3 778.5 637 780C635.7 781.5 633 782.8 631 783C629 783.2 626.7 782.2 625 781C623.3 779.8 620.7 777.5 621 776Z" fill="#c8ffc8"/>
<path d="M605 754C605.5 755.9 605.7 759.7 607 762C608.3 764.3 610.7 766.8 613 768C615.3 769.2 618.7 769.7 621 769C623.3 768.3 625.7 766.5 627 764C628.3 761.5 628.5 756.3 629 754L605 754Z" fill="#c8ffc8"/>
<path d="M539 828C539.7 826.2 541.3 825.5 543 825C544.7 824.5 547.2 824.5 549 825C550.8 825.5 552.7 826.8 554 828C555.3 829.2 557.2 830.7 557 832C556.8 833.3 555 835 553 836C551 837 547.3 838 545 838C542.7 838 540 837.7 539 836C538 834.3 538.3 829.8 539 828Z" fill="#32c832"/>
<path d="M561 833L567 834L574 835L576 846L561 846Z" fill="#32c832"/>
<path d="M609 754C609.5 755.4 609.7 758.3 611 760C612.3 761.7 615 763.2 617 764C619 764.8 621.7 765.7 623 765C624.3 764.3 624.8 761.8 625 760C625.2 758.2 624.2 755.4 624 754L609 754Z" fill="#32c832"/>
</g>
<path class="nb" d="M483 754L485 762L487 768L483 774L487 773L495 771L503 771L510 772L508 778L510 786L512 793L517 796L523 799L521 805L519 811L517 816L518 820L525 821L531 823L535 828L537 834L543 835L549 835L555 832L559 831L559 838L563 842L569 843L575 845L575 836L573 829L571 822L573 816L579 814L585 815L589 812L595 809L601 812L607 812L613 809L619 810L625 812L631 808L637 807L647 803.6"/>
</g>
<clipPath id="tc17"><rect x="645" y="756" width="258" height="188"/></clipPath>
<clipPath id="tl17"><path d="M643 798.4L653 796L661 798L667 803L675 804L683 804L688 808L687 815L685 820L689 826L695 828L701 833L709 834L717 835L719 837L719 837L725 833L731 831L737 830L741 835L747 836L753 834L759 833L761 839L759 844L758 850L761 856L765 860L771 863L776 861L777 856L773 852L769 848L770 843L775 840L779 836L785 835L791 834L797 833L803 830L809 826L817 822L825 818L831 814L837 816L843 814L849 810L857 806L865 802L873 799L881 796L889 794L897 793L905 791.6L905 754L643 754Z"/></clipPath>
<g clip-path="url(#tc17)">
<g clip-path="url(#tl17)">
<rect x="644" y="755" width="260" height="190" fill="#ffff96"/>
<path d="M643 754L657 754C658.4 755.9 662.2 759.3 663 762C663.8 764.7 663.3 767.8 662 770C660.7 772.2 657.5 774.5 655 775C652.5 775.5 649 773.8 647 773C645 772.2 643.9 770.7 643 770L643 754Z" fill="#ff9664"/>
<path d="M685 754C686.9 754.9 690 757.5 693 758C696 758.5 700.7 757.7 703 757C705.3 756.3 706.1 754.7 707 754L685 754Z" fill="#ff9664"/>
<path d="M713 768C714 766.3 716.3 765 719 764C721.7 763 725.7 762.7 729 762C732.3 761.3 735.7 760.7 739 760C742.3 759.3 746 757.3 749 758C752 758.7 754.3 762.7 757 764C759.7 765.3 762 766.3 765 766C768 765.7 772 763 775 762C778 761 781.3 759 783 760C784.7 761 785.3 765.7 785 768C784.7 770.3 783 772.7 781 774C779 775.3 776 775.3 773 776C770 776.7 766.3 778 763 778C759.7 778 756.3 776.7 753 776C749.7 775.3 745.7 773.7 743 774C740.3 774.3 738.3 776 737 778C735.7 780 735 783 735 786C735 789 737.3 793.7 737 796C736.7 798.3 735 800 733 800C731 800 727 798 725 796C723 794 722.3 790.7 721 788C719.7 785.3 718.3 782.3 717 780C715.7 777.7 713.7 776 713 774C712.3 772 712 769.7 713 768Z" fill="#ff9664"/>
<path d="M749 754C749.9 755.9 751 759.7 753 762C755 764.3 758.7 767.7 761 768C763.3 768.3 765.7 766.3 767 764C768.3 761.7 768.5 756.3 769 754L749 754Z" fill="#ff6464"/>
<path d="M649 784C651.3 783 654 780.8 657 780C660 779.2 664 778.7 667 779C670 779.3 672 780.8 675 782C678 783.2 681.7 785.3 685 786C688.3 786.7 691.7 785.7 695 786C698.3 786.3 702.3 786.7 705 788C707.7 789.3 708.3 792.2 711 794C713.7 795.8 717.7 797.8 721 799C724.3 800.2 728 801 731 801C734 801 736 799.5 739 799C742 798.5 746.3 799.8 749 798C751.7 796.2 752.3 790.3 755 788C757.7 785.7 761.7 785 765 784C768.3 783 771.7 781.7 775 782C778.3 782.3 781.7 785 785 786C788.3 787 791.7 788 795 788C798.3 788 801.7 787 805 786C808.3 785 812.7 783.7 815 782C817.3 780.3 817.7 778.3 819 776C820.3 773.7 821.3 770.3 823 768C824.7 765.7 826.7 763.7 829 762C831.3 760.3 834.3 759.3 837 758C839.7 756.7 843.1 754.9 845 754L907 754L907 846L643 846L643 786C644.4 785.5 646.7 785 649 784Z" fill="#c8ffc8"/>
<path d="M699 814C699 811.8 701 808.3 703 806C705 803.7 708 801.2 711 800C714 798.8 717.7 798.8 721 799C724.3 799.2 728 801 731 801C734 801 736 799.5 739 799C742 798.5 746 797.2 749 798C752 798.8 755 801.7 757 804C759 806.3 760 809.3 761 812C762 814.7 763.3 817.7 763 820C762.7 822.3 761.3 825 759 826C756.7 827 752.7 826.2 749 826C745.3 825.8 741 825.2 737 825C733 824.8 729 825.3 725 825C721 824.7 716.7 824 713 823C709.3 822 705.3 820.5 703 819C700.7 817.5 699 816.2 699 814Z" fill="#ffff96"/>
<path d="M847 766C846.7 764 847.7 761.5 849 760C850.3 758.5 853.5 756.7 855 757C856.5 757.3 857.8 760 858 762C858.2 764 857.2 767.3 856 769C854.8 770.7 852.5 772.5 851 772C849.5 771.5 847.3 768 847 766Z" fill="#ffff96"/>
<path d="M761 800C761.7 798.8 766 797.7 769 797C772 796.3 775.7 796.3 779 796C782.3 795.7 785.7 795.2 789 795C792.3 794.8 795.7 794.5 799 795C802.3 795.5 805.7 797 809 798C812.3 799 816 800.2 819 801C822 801.8 824.7 803.2 827 803C829.3 802.8 831.3 801.5 833 800C834.7 798.5 835.3 795.7 837 794C838.7 792.3 841 792 843 790C845 788 847 784.7 849 782C851 779.3 853 776.7 855 774C857 771.3 859.3 769 861 766C862.7 763 864 758 865 756C866 754 866.5 754.5 867 754L907 754L907 836C881.3 836 816 837.3 797 836C778 834.7 795 830.7 793 828C791 825.3 787.7 822.3 785 820C782.3 817.7 779.3 816 777 814C774.7 812 773 809.7 771 808C769 806.3 766.7 805.3 765 804C763.3 802.7 760.3 801.2 761 800Z" fill="#32c832"/>
<path d="M803 754C804.9 756.3 808.7 761 811 764C813.3 767 814.7 771 817 772C819.3 773 822.3 771.3 825 770C827.7 768.7 830.7 766 833 764C835.3 762 837.3 759.7 839 758C840.7 756.3 842.1 754.9 843 754L803 754Z" fill="#32c832"/>
<path d="M759 838C760.2 836 762.3 837.8 765 838C767.7 838.2 774.3 837.7 775 839C775.7 840.3 769.8 843.8 769 846C768.2 848.2 770.7 850.7 770 852C769.3 853.3 767 854.3 765 854C763 853.7 759 852.7 758 850C757 847.3 757.8 840 759 838Z" fill="#32c832"/>
<path d="M760 855C761.2 853.7 766.2 852.8 769 853C771.8 853.2 775.7 854.3 777 856C778.3 857.7 778.3 861.5 777 863C775.7 864.5 771.5 865.3 769 865C766.5 864.7 763.5 862.7 762 861C760.5 859.3 758.8 856.3 760 855Z" fill="#00ffff"/>
<path d="M869 754C869.5 756.3 870.3 760.7 871 764C871.7 767.3 872.3 770.7 873 774C873.7 777.3 874.3 780.7 875 784C875.7 787.3 876.7 791 877 794C877.3 797 872 800.7 877 802C882 803.3 900 802 907 802L907 754L869 754Z" fill="#00ffff"/>
<path d="M833 814C833.3 812.5 835.3 809.3 837 808C838.7 806.7 841.3 805.7 843 806C844.7 806.3 847 808.3 847 810C847 811.7 845 814.8 843 816C841 817.2 836.7 817.3 835 817C833.3 816.7 832.7 815.5 833 814Z" fill="#00ffff"/>
<path d="M907 766C904.7 766.9 899.3 768 897 770C894.7 772 893.5 775 893 778C892.5 781 893 785.3 894 788C895 790.7 896.8 792.8 899 794C901.2 795.2 905.1 794.8 907 795L907 766Z" fill="#0090ff"/>
</g>
<path class="nb" d="M643 798.4L653 796L661 798L667 803L675 804L683 804L688 808L687 815L685 820L689 826L695 828L701 833L709 834L717 835L719 837"/>
<path class="cb" d="M719 837L725 833L731 831L737 830L741 835L747 836L753 834L759 833L761 839L759 844L758 850L761 856L765 860L771 863L776 861L777 856L773 852L769 848L770 843L775 840L779 836L785 835L791 834L797 833L803 830L809 826L817 822L825 818L831 814L837 816L843 814L849 810L857 806L865 802L873 799L881 796L889 794L897 793L905 791.6"/>
</g>
<clipPath id="tc18"><rect x="645" y="756" width="258" height="188"/></clipPath>
<clipPath id="tl18"><path d="M749 876L757 873L765 872L773 874L781 876L784 882L781 890L777 898L769 906L761 911L753 913L745 910L738 904L735 896L736 888L741 882Z"/></clipPath>
<g clip-path="url(#tc18)">
<g clip-path="url(#tl18)">
<rect x="644" y="755" width="260" height="190" fill="#c8ffc8"/>
<path d="M736 888C737 885.3 740.5 884.3 743 884C745.5 883.7 748.3 885 751 886C753.7 887 756.3 889 759 890C761.7 891 764.7 891 767 892C769.3 893 773 894.3 773 896C773 897.7 769.3 900.5 767 902C764.7 903.5 761.7 904.2 759 905C756.3 905.8 753.7 906.8 751 907C748.3 907.2 745.3 907.2 743 906C740.7 904.8 738.2 903 737 900C735.8 897 735 890.7 736 888Z" fill="#32c832"/>
<path d="M747 878C749.3 876.7 753.3 874.8 757 874C760.7 873.2 765 872.7 769 873C773 873.3 778.7 874.5 781 876C783.3 877.5 784 880.7 783 882C782 883.3 778 883.3 775 884C772 884.7 768 885.3 765 886C762 886.7 759.7 888.3 757 888C754.3 887.7 751.3 885 749 884C746.7 883 743.3 883 743 882C742.7 881 744.7 879.3 747 878Z" fill="#00ffff"/>
<ellipse cx="773.4" cy="873" rx="5" ry="3" fill="#0090ff"/>
<path d="M757 912C756.3 911.3 761 908 763 906C765 904 767 901.7 769 900C771 898.3 773.3 897 775 896C776.7 895 777.8 893.8 779 894C780.2 894.2 782.7 895.3 782 897C781.3 898.7 777.5 901.8 775 904C772.5 906.2 770 908.7 767 910C764 911.3 757.7 912.7 757 912Z" fill="#ffff96"/>
<path d="M772 900C772.3 898.5 775.3 895.3 777 894C778.7 892.7 781.5 891.3 782 892C782.5 892.7 781.2 896.2 780 898C778.8 899.8 776.3 902.7 775 903C773.7 903.3 771.7 901.5 772 900Z" fill="#ff9664"/>
</g>
<path class="cb" d="M749 876L757 873L765 872L773 874L781 876L784 882L781 890L777 898L769 906L761 911L753 913L745 910L738 904L735 896L736 888L741 882L749 876"/>
</g>
<clipPath id="tc19"><rect x="774" y="680" width="186" height="136"/></clipPath>
<clipPath id="tl19"><path d="M772.6 678.6L961.5 678.6L961.5 818.4L772.6 818.4Z"/></clipPath>
<g clip-path="url(#tc19)">
<g clip-path="url(#tl19)">
<rect x="773" y="679" width="188" height="138" fill="#32c832"/>
<path d="M772.6 678.6L772.6 720.4C773.9 720 776.2 719.7 778.3 718.9C780.5 718.2 782.9 717 785.5 716C788.2 715.1 791.5 714.4 794.2 713.2C796.8 712 799.7 710.8 801.4 708.8C803.1 706.9 803.6 704 804.3 701.6C805 699.2 804.5 695.7 805.7 694.4C806.9 693.1 809.3 693.5 811.5 693.7C813.7 693.9 816.5 694.5 818.7 695.9C820.9 697.2 823 699.5 824.5 701.6C825.9 703.8 826.4 706.2 827.4 708.8C828.3 711.5 829.3 714.8 830.2 717.5C831.2 720.1 831.9 722.9 833.1 724.7C834.3 726.5 835.8 727.8 837.4 728.3C839.1 728.8 841.5 728.7 843.2 727.6C844.9 726.5 846.1 724.2 847.5 721.8C849 719.4 850.4 716 851.9 713.2C853.3 710.3 854.3 706.9 856.2 704.5C858.1 702.1 860.8 700.2 863.4 698.7C866 697.3 868.9 696.7 872.1 695.9C875.2 695 878.8 694.4 882.1 693.7C885.5 693 888.6 692.1 892.2 691.5C895.8 690.9 899.9 690.6 903.8 690.1C907.6 689.6 911.5 689.4 915.3 688.7C919.2 687.9 923.2 686.7 926.8 685.8C930.5 684.8 933.6 683.8 936.9 682.9C940.3 681.9 944.9 680.7 947 680C949.2 679.3 949.2 678.9 949.9 678.6L772.6 678.6Z" fill="#c8ffc8"/>
<path d="M772.6 718.9C774.2 719.9 777.6 721.6 779.8 723.3C781.9 724.9 784.1 726.6 785.5 729C787 731.4 787.7 735 788.4 737.7C789.1 740.3 789.1 742.5 789.9 744.9C790.6 747.3 791.3 750.2 792.7 752.1C794.2 754 796.4 755 798.5 756.4C800.7 757.9 803.6 759.1 805.7 760.7C807.9 762.4 809.6 764.6 811.5 766.5C813.4 768.4 815.6 769.9 817.3 772.3C818.9 774.7 820.1 778.1 821.6 780.9C823 783.8 824.2 786.7 825.9 789.6C827.6 792.5 829.8 796.1 831.7 798.2C833.6 800.4 835.8 801.8 837.4 802.6C839.1 803.3 842.7 802.3 841.8 802.6C840.8 802.8 834.8 804.5 831.7 804C828.6 803.5 825.9 800.9 823 799.7C820.1 798.5 817.3 797.5 814.4 796.8C811.5 796.1 808.6 795.6 805.7 795.4C802.8 795.1 800 795.1 797.1 795.4C794.2 795.6 791.1 796.1 788.4 796.8C785.8 797.5 783.9 798.5 781.2 799.7C778.6 800.9 774.6 803 772.6 804L772.6 718.9Z" fill="#c8ffc8"/>
<path d="M838.9 769.4C839.2 766.8 840.6 763.4 841.8 760.7C843 758.1 844.4 755.5 846.1 753.5C847.8 751.6 849.9 749.7 851.9 749.2C853.8 748.7 856 749.5 857.6 750.7C859.3 751.9 861.2 754 862 756.4C862.7 758.8 862.4 762.4 862 765.1C861.5 767.7 860.3 770.1 859.1 772.3C857.9 774.4 856.4 776.4 854.7 778.1C853.1 779.7 850.9 781.9 849 782.4C847.1 782.9 844.8 781.9 843.2 780.9C841.7 780 840.3 778.5 839.6 776.6C838.9 774.7 838.5 772 838.9 769.4Z" fill="#c8ffc8"/>
<path d="M772.6 678.6L772.6 708.8C774.9 708.3 779.5 707.6 782.7 706.7C785.8 705.7 788.9 704.6 791.3 703.1C793.7 701.5 795.9 699.5 797.1 697.3C798.3 695.1 798.5 692.3 798.5 690.1C798.5 687.9 797.8 686.2 797.1 684.3C796.4 682.4 794.9 679.9 794.2 678.6L772.6 678.6Z" fill="#ffff96"/>
<path d="M834.6 678.6C835.6 680.2 837 683.8 838.9 685.8C840.8 687.7 843.5 689 846.1 690.1C848.7 691.2 851.6 692 854.7 692.3C857.9 692.5 861.5 692 864.8 691.5C868.2 691.1 871.3 690.1 874.9 689.4C878.5 688.7 882.6 687.9 886.5 687.2C890.3 686.5 894.2 685.9 898 685C901.9 684.2 906.2 683.2 909.5 682.2C912.9 681.1 916.2 679.4 918.2 678.6L834.6 678.6Z" fill="#ffff96"/>
<path d="M836 713.2C836 711.6 836.5 709 837.4 707.4C838.4 705.8 840.6 703.8 841.8 703.8C843 703.8 843.9 705.8 844.7 707.4C845.4 709 846.1 711.4 846.1 713.2C846.1 715 845.6 717.3 844.7 718.2C843.7 719.2 841.5 719.2 840.3 718.9C839.1 718.7 838.2 717.7 837.4 716.8C836.7 715.8 836 714.7 836 713.2Z" fill="#ffff96"/>
<path d="M772.6 734.8C773.9 735.1 776.4 735.3 778.3 736.2C780.2 737.2 782.7 738.6 784.1 740.6C785.5 742.5 786.3 745.4 787 747.8C787.7 750.2 787.7 752.6 788.4 755C789.1 757.4 789.9 760.3 791.3 762.2C792.7 764.1 794.9 765.1 797.1 766.5C799.2 768 801.9 769.4 804.3 770.8C806.7 772.3 809.8 773.5 811.5 775.2C813.2 776.9 814.6 779.5 814.4 780.9C814.1 782.4 812 783.5 810 783.8C808.1 784.2 805.2 783.3 802.8 783.1C800.4 782.9 798 782.7 795.6 782.4C793.2 782 790.8 781.4 788.4 780.9C786 780.5 783.9 780 781.2 779.5C778.6 779 774.6 778.4 772.6 778.1L772.6 734.8Z" fill="#ffff96"/>
<path d="M846.1 766.5C846.2 765.1 846.6 762.6 847.5 760.7C848.5 758.9 850.4 756.2 851.9 755.7C853.3 755.2 855.2 756.5 856.2 757.9C857.2 759.2 857.9 761.7 857.6 763.6C857.4 765.6 856 768.2 854.7 769.4C853.5 770.6 851.7 770.8 850.4 770.8C849.1 770.8 847.5 770.1 846.8 769.4C846.1 768.7 846 768 846.1 766.5Z" fill="#ffff96"/>
<path d="M772.6 684.3C773.9 684.7 776.4 684.8 778.3 685.8C780.2 686.7 782.4 688.7 784.1 690.1C785.8 691.5 788.2 692.7 788.4 694.4C788.7 696.1 787 698.5 785.5 700.2C784.1 701.9 781.9 703.4 779.8 704.5C777.6 705.6 774.2 706.2 772.6 706.7L772.6 684.3Z" fill="#ff9664"/>
<path d="M772.6 740.6C773.9 741.2 776.6 741.8 778.3 743.4C780 745.1 781.6 748 782.7 750.7C783.7 753.3 784.6 756.7 784.8 759.3C785.1 762 784.9 764.7 784.1 766.5C783.3 768.3 781.7 769.2 779.8 770.1C777.8 771.1 774.2 771.8 772.6 772.3L772.6 740.6Z" fill="#ff9664"/>
<path d="M837.4 678.6C838.5 679.6 839.8 681.7 841.8 682.9C843.7 684.1 846.3 685.2 849 685.8C851.6 686.4 854.7 686.7 857.6 686.5C860.5 686.2 863.6 685.2 866.3 684.3C868.9 683.5 871.6 682.4 873.5 681.4C875.4 680.5 876.8 679.2 877.8 678.6L837.4 678.6Z" fill="#ff9664"/>
<path d="M792.7 727.6C792.7 725.7 794.2 724.2 795.6 723.3C797.1 722.3 799.2 721.6 801.4 721.8C803.6 722.1 806.2 724 808.6 724.7C811 725.4 813.9 725.2 815.8 726.1C817.7 727.1 819.2 728.5 820.1 730.5C821.1 732.4 821.6 735.3 821.6 737.7C821.6 740.1 820.9 742.7 820.1 744.9C819.4 747.1 818.5 749.3 817.3 750.7C816.1 752 814.4 752.8 812.9 752.8C811.5 752.8 810 751.7 808.6 750.7C807.2 749.6 805.7 748 804.3 746.3C802.8 744.6 801.4 742.5 800 740.6C798.5 738.6 796.8 737 795.6 734.8C794.4 732.6 792.7 729.5 792.7 727.6Z" fill="#00ffff"/>
<path d="M856.2 720.4C856.7 717.3 857.6 714.1 859.1 711.7C860.5 709.3 862.4 707.2 864.8 706C867.2 704.8 871.1 704.3 873.5 704.5C875.9 704.8 877.9 705.7 879.3 707.4C880.6 709.1 881.4 712.2 881.4 714.6C881.4 717 879.7 719.7 879.3 721.8C878.8 724 878.3 725.2 878.5 727.6C878.8 730 879.6 733.6 880.7 736.2C881.8 738.9 883.3 741.3 885 743.4C886.7 745.6 888.9 747.4 890.8 749.2C892.7 751 894.4 753.2 896.6 754.3C898.7 755.3 901.4 755.8 903.8 755.7C906.2 755.6 908.9 754.9 911 753.5C913 752.2 914.8 749.9 916 747.8C917.2 745.6 917.6 742.7 918.2 740.6C918.8 738.4 918.7 736.5 919.6 734.8C920.6 733.1 922.3 731.9 924 730.5C925.6 729 928.2 727.8 929.7 726.1C931.3 724.5 932.9 722.1 933.3 720.4C933.8 718.7 933.5 716.8 932.6 716C931.8 715.3 930 715.3 928.3 716C926.6 716.8 924.2 718.5 922.5 720.4C920.8 722.3 919.9 725.5 918.2 727.6C916.5 729.6 914.1 732.9 912.4 732.6C910.7 732.4 909.5 728.7 908.1 726.1C906.7 723.6 905 720.4 903.8 717.5C902.6 714.6 900.9 711.2 900.9 708.8C900.9 706.4 902.1 704.5 903.8 703.1C905.5 701.6 908.3 701.4 911 700.2C913.6 699 916.8 697.3 919.6 695.9C922.5 694.4 925.4 693 928.3 691.5C931.2 690.1 933.8 688.7 936.9 687.2C940.1 685.8 943.9 684.1 947 682.9C950.2 681.7 953 680.7 955.7 680C958.3 679.3 961.2 678.9 962.9 678.6L962.9 817L874.9 817C874.9 811.9 875.7 800.4 874.9 795.4C874.2 790.3 871.8 789.6 870.6 786.7C869.4 783.8 868.4 781.4 867.7 778.1C867 774.7 866.8 770.8 866.3 766.5C865.8 762.2 865.8 756.4 864.8 752.1C863.9 747.8 862 744.2 860.5 740.6C859.1 737 856.9 733.8 856.2 730.5C855.5 727.1 855.7 723.5 856.2 720.4Z" fill="#00ffff"/>
<path d="M962.9 688.7C960.5 689.3 955.9 690.6 952.8 691.5C949.7 692.5 946.2 693.2 944.2 694.4C942.1 695.6 940.8 696.8 940.5 698.7C940.3 700.7 941.9 703.3 942.7 706C943.6 708.6 945.4 711.7 945.6 714.6C945.8 717.5 945.1 720.4 944.2 723.3C943.2 726.1 941.5 729.3 939.8 731.9C938.1 734.6 936 736.7 934.1 739.1C932.1 741.5 930.2 743.7 928.3 746.3C926.4 749 924.4 752.3 922.5 755C920.6 757.6 918.9 760.3 916.8 762.2C914.6 764.1 912.2 765.3 909.5 766.5C906.9 767.7 903.3 768 900.9 769.4C898.5 770.8 896.6 773 895.1 775.2C893.7 777.3 892.6 779.5 892.2 782.4C891.9 785.3 881.2 790.8 893 792.5C904.7 794.2 946.6 792.5 962.9 792.5L962.9 688.7Z" fill="#0090ff"/>
<path d="M926.8 762.2C927.3 760.3 929.5 757.4 931.2 755C932.9 752.6 935 749.9 936.9 747.8C938.9 745.6 940.5 743.7 942.7 742C944.9 740.3 948.2 737.9 949.9 737.7C951.6 737.4 953.3 738.9 952.8 740.6C952.3 742.2 949.2 745.4 947 747.8C944.9 750.2 942.2 752.6 939.8 755C937.4 757.4 934.5 760.3 932.6 762.2C930.7 764.1 929.3 766.5 928.3 766.5C927.3 766.5 926.4 764.1 926.8 762.2Z" fill="#0000ff"/>
<path d="M841.8 817L843.2 806.9L841.8 801.1L849 802.6L854.7 804L860.5 802.6L866.3 802.6L874.9 799.7L883.6 795.4L892.2 793.9L899.5 791L906.7 786.7L911 780.9L916.8 776.6L924 769.4L929.7 760.7L935.5 752.1L942.7 744.9L949.9 737.7L955.7 731.9L961.5 723.3L961.5 817Z" fill="#fff"/>
</g>
<path class="cb" d="M841.8 817L843.2 806.9L841.8 801.1L849 802.6L854.7 804L860.5 802.6L866.3 802.6L874.9 799.7L883.6 795.4L892.2 793.9L899.5 791L906.7 786.7L911 780.9L916.8 776.6L924 769.4L929.7 760.7L935.5 752.1L942.7 744.9L949.9 737.7L955.7 731.9L961.5 723.3"/>
</g>
<clipPath id="tc20"><rect x="903" y="690" width="186" height="136"/></clipPath>
<clipPath id="tl20"><path d="M901.6 688.6L989.5 688.6L989.5 828.4L901.6 828.4Z"/></clipPath>
<g clip-path="url(#tc20)">
<g clip-path="url(#tl20)">
<rect x="902" y="689" width="188" height="138" fill="#fff"/>
</g>
</g>
<clipPath id="tc21"><rect x="903" y="690" width="186" height="136"/></clipPath>
<clipPath id="tl21"><path d="M966.4 688.6L970.8 694.3L972.2 700.1L969.3 705.9L967.9 711.6L965 717.4L962.1 724.6L957.8 730.4L954.9 734.7L950.6 739L946.3 743.4L941.9 747.7L937.6 752L934.7 757.8L930.4 763.5L927.5 769.3L923.2 773.6L918.9 778L914.5 782.3L910.2 786.6L905.9 789.5L901.6 791.7L901.6 688.6Z"/></clipPath>
<g clip-path="url(#tc21)">
<g clip-path="url(#tl21)">
<rect x="902" y="689" width="188" height="138" fill="#0090ff"/>
<path d="M926.1 762.1C926.3 760.2 929.7 755.8 931.8 753.4C934 751 936.6 749.6 939 747.7C941.5 745.8 943.9 743.8 946.3 741.9C948.7 740 951.5 737.8 953.5 736.1C955.4 734.5 957.8 731.1 957.8 731.8C957.8 732.5 955.2 738.1 953.5 740.5C951.8 742.9 949.9 744.3 947.7 746.2C945.5 748.2 942.7 749.8 940.5 752C938.3 754.2 936.4 757.1 934.7 759.2C933 761.4 931.8 764.5 930.4 765C929 765.5 925.8 764 926.1 762.1Z" fill="#0000ff"/>
<path d="M963.6 711.6C963.7 710.4 966.8 707.8 967.9 707.3C969 706.8 970.2 707.5 970.1 708.7C969.9 709.9 968.2 714 967.2 714.5C966.1 715 963.4 712.8 963.6 711.6Z" fill="#0000ff"/>
<path d="M942.7 688.6C942.1 690.6 940.4 694.6 940.5 697.2C940.6 699.9 942.4 702 943.4 704.4C944.3 706.8 946 709.2 946.3 711.6C946.5 714 945.5 716.4 944.8 718.8C944.1 721.2 943.1 723.9 941.9 726C940.7 728.2 939.3 730.1 937.6 731.8C935.9 733.5 933.8 734.7 931.8 736.1C929.9 737.6 927.8 738.5 926.1 740.5C924.4 742.4 922.9 745.3 921.7 747.7C920.5 750.1 919.8 752.5 918.9 754.9C917.9 757.3 917.4 760.2 916 762.1C914.5 764 912.6 765.3 910.2 766.4C907.8 767.6 903.6 768.4 901.6 769L901.6 688.6L942.7 688.6Z" fill="#00ffff"/>
<path d="M930.4 688.6C928 690.2 923.4 693.8 920.3 695.8C917.2 697.7 914.5 699.1 911.7 700.1C908.8 701.1 904.7 701.3 903 701.5C901.3 701.8 901.9 701.5 901.6 701.5L901.6 688.6L930.4 688.6Z" fill="#32c832"/>
<path d="M901.6 717.4C902.6 718.4 904.4 719.8 905.9 721.7C907.3 723.6 908.8 727.3 910.2 728.9C911.7 730.6 913.1 731.8 914.5 731.8C916 731.8 917.7 730.4 918.9 728.9C920.1 727.5 920.5 725.1 921.7 723.2C922.9 721.2 924.4 718.6 926.1 717.4C927.8 716.2 930.5 715.7 931.8 716C933.2 716.2 934 717.2 934 718.8C934 720.5 933.2 723.9 931.8 726C930.5 728.2 928 729.9 926.1 731.8C924.1 733.7 921.7 735.4 920.3 737.6C918.9 739.7 918.4 742.4 917.4 744.8C916.5 747.2 916 750.3 914.5 752C913.1 753.7 910.9 754.3 908.8 754.9C906.6 755.5 903.2 755.4 901.6 755.6L901.6 717.4Z" fill="#32c832"/>
<path d="M901.6 688.6L910.2 688.6L905.9 691.4L901.6 692.2Z" fill="#c8ffc8"/>
</g>
<path class="cb" d="M966.4 688.6L970.8 694.3L972.2 700.1L969.3 705.9L967.9 711.6L965 717.4L962.1 724.6L957.8 730.4L954.9 734.7L950.6 739L946.3 743.4L941.9 747.7L937.6 752L934.7 757.8L930.4 763.5L927.5 769.3L923.2 773.6L918.9 778L914.5 782.3L910.2 786.6L905.9 789.5L901.6 791.7"/>
</g>
<clipPath id="tc22"><rect x="903" y="690" width="186" height="136"/></clipPath>
<clipPath id="tl22"><path d="M1012.6 718.1L1018.4 721L1022.7 722.4L1022 727.5L1022.7 733.3L1022 740.5L1020.5 747.7L1019.8 754.9L1018.4 762.1L1016.9 769.3L1014.8 776.5L1011.9 783.7L1010.4 790.9L1011.1 797.4L1009 799.6L1006.1 795.3L1002.5 789.5L996.7 785.2L992.4 779.4L989.5 772.2L988.8 763.5L991 754.9L993.8 747.7L996.7 740.5L999.6 733.3L1002.5 727.5L1006.8 722.4Z"/></clipPath>
<g clip-path="url(#tc22)">
<g clip-path="url(#tl22)">
<rect x="902" y="689" width="188" height="138" fill="#0000ff"/>
</g>
<path class="cb" d="M1012.6 718.1L1018.4 721L1022.7 722.4L1022 727.5L1022.7 733.3L1022 740.5L1020.5 747.7L1019.8 754.9L1018.4 762.1L1016.9 769.3L1014.8 776.5L1011.9 783.7L1010.4 790.9L1011.1 797.4L1009 799.6L1006.1 795.3L1002.5 789.5L996.7 785.2L992.4 779.4L989.5 772.2L988.8 763.5L991 754.9L993.8 747.7L996.7 740.5L999.6 733.3L1002.5 727.5L1006.8 722.4L1012.6 718.1"/>
</g>
<clipPath id="tc23"><rect x="810" y="600" width="186" height="136"/></clipPath>
<clipPath id="tl23"><path d="M808.6 598.6L997.5 598.6L997.5 738.4L808.6 738.4Z"/></clipPath>
<g clip-path="url(#tc23)">
<g clip-path="url(#tl23)">
<rect x="809" y="599" width="188" height="138" fill="#ff6464"/>
<path d="M808.6 648.3C810.6 648.6 814.6 649.1 817.2 649.7C819.9 650.3 822 651.1 824.4 651.9C826.8 652.8 829.5 653.6 831.6 654.8C833.8 656 835.7 657.7 837.4 659.1C839.1 660.6 839.8 662.6 841.7 663.4C843.6 664.3 846.3 664.2 848.9 664.2C851.6 664.2 854.5 663.7 857.6 663.4C860.7 663.2 864.6 663 867.7 662.7C870.8 662.5 873.4 662.8 876.3 662C879.2 661.2 883.1 659.6 885 657.7C886.9 655.8 887.1 652.9 887.9 650.5C888.6 648.1 888.3 644.9 889.3 643.3C890.3 641.6 892 640.4 893.6 640.4C895.3 640.4 897.7 641.8 899.4 643.3C901.1 644.7 901.8 647.5 903.7 649C905.7 650.6 908.3 652.3 910.9 652.6C913.6 653 916.7 652.3 919.6 651.2C922.5 650.1 925.8 647.9 928.2 646.1C930.6 644.3 932.8 642.5 934 640.4C935.2 638.2 935.7 635.8 935.5 633.2C935.2 630.5 932.8 627.4 932.6 624.5C932.3 621.6 933 618.5 934 615.9C935 613.2 936.7 610.6 938.3 608.7C940 606.7 942.1 606 944.1 604.3C946.1 602.6 949.1 599.9 950.6 598.6L998.9 598.6L998.9 738.4L808.6 738.4L808.6 648.3Z" fill="#ff9664"/>
<path d="M890.7 598.6C891.4 599.9 892 603.1 893.6 604.3C895.3 605.5 898.7 606 900.8 605.8C903 605.5 905.2 604.1 906.6 602.9C908.1 601.7 908.8 599.6 909.5 598.6L890.7 598.6Z" fill="#ff9664"/>
<path d="M808.6 667.1C810.2 666.2 813.6 664.3 815.8 663.4C817.9 662.6 819.9 661.8 821.5 662C823.2 662.2 824.4 663.2 825.9 664.9C827.3 666.6 828.7 669.5 830.2 672.1C831.6 674.7 832.8 678.3 834.5 680.7C836.2 683.2 838.1 685.6 840.3 686.5C842.4 687.5 844.8 687 847.5 686.5C850.1 686 853.3 684.6 856.1 683.6C859 682.7 861.9 681.6 864.8 680.7C867.7 679.9 870.6 679.1 873.4 678.6C876.3 678.1 879.2 678.1 882.1 677.9C885 677.6 887.9 677.6 890.7 677.1C893.6 676.7 896.5 676.1 899.4 675C902.3 673.9 905.4 672.3 908.1 670.7C910.7 669 912.9 666.8 915.3 664.9C917.7 663 920.1 661 922.5 659.1C924.9 657.2 927.3 655.3 929.7 653.4C932.1 651.4 934.7 649.5 936.9 647.6C939.1 645.7 941 644 942.7 641.8C944.3 639.7 946.1 637.3 947 634.6C947.8 632 947.5 628.8 947.7 626C947.9 623.1 947.7 620.2 948.4 617.3C949.1 614.4 950.8 611.3 952 608.7C953.2 606 954.8 603.1 955.6 601.4C956.5 599.8 956.7 599.2 957.1 598.6L998.9 598.6L998.9 738.4L808.6 738.4L808.6 667.1Z" fill="#ffff96"/>
<path d="M808.6 677.1C809.9 678 812.6 679.2 814.3 680.7C816 682.3 817 684.6 818.7 686.5C820.3 688.4 822 691 824.4 692.3C826.8 693.6 830.2 694.2 833.1 694.4C836 694.7 838.8 694.1 841.7 693.7C844.6 693.4 847.5 692.8 850.4 692.3C853.3 691.8 856.1 691.6 859 690.8C861.9 690.1 865 688.9 867.7 688C870.3 687 872.2 685.9 874.9 685.1C877.5 684.2 880.7 683.4 883.5 682.9C886.4 682.4 889.3 682.6 892.2 682.2C895.1 681.8 898 681.7 900.8 680.7C903.7 679.8 906.9 678.1 909.5 676.4C912.1 674.7 914.3 672.6 916.7 670.7C919.1 668.7 921.5 666.8 923.9 664.9C926.3 663 928.7 661 931.1 659.1C933.5 657.2 936.2 655.3 938.3 653.4C940.5 651.4 942.3 649.5 944.1 647.6C945.9 645.7 947.8 644 949.1 641.8C950.5 639.7 951.4 637.3 952 634.6C952.6 632 952.5 628.8 952.8 626C953 623.1 953 619.9 953.5 617.3C954 614.7 954.7 612.5 955.6 610.1C956.6 607.7 958.4 604.8 959.2 602.9C960.1 601 960.3 599.6 960.7 598.6L998.9 598.6L998.9 738.4L808.6 738.4L808.6 677.1Z" fill="#c8ffc8"/>
<path d="M808.6 692.3C810.2 692.6 813.4 692.5 815.8 693.7C818.2 694.9 821.1 697.1 823 699.5C824.9 701.9 826.1 705 827.3 708.1C828.5 711.3 829 715.1 830.2 718.2C831.4 721.4 833.1 725.2 834.5 726.9C836 728.6 836.9 729.5 838.8 728.3C840.8 727.1 843.9 722.8 846 719.7C848.2 716.6 849.9 712.7 851.8 709.6C853.7 706.5 854.9 702.9 857.6 700.9C860.2 699 864.3 699 867.7 698.1C871 697.1 874.4 696.1 877.8 695.2C881.1 694.2 884.5 693 887.9 692.3C891.2 691.6 894.6 691.1 898 690.8C901.3 690.6 904.7 691.3 908.1 690.8C911.4 690.4 914.8 689.2 918.1 688C921.5 686.8 925.1 685.3 928.2 683.6C931.4 682 934.2 679.8 936.9 677.9C939.5 675.9 941.7 674.3 944.1 672.1C946.5 669.9 949.4 667.3 951.3 664.9C953.2 662.5 954.7 660.1 955.6 657.7C956.6 655.3 956.6 652.9 957.1 650.5C957.6 648.1 958.5 645.7 958.5 643.3C958.5 640.9 957.6 638.5 957.1 636C956.6 633.6 956 631.2 955.6 628.8C955.3 626.4 954.8 624 954.9 621.6C955 619.2 955.5 616.8 956.4 614.4C957.2 612 958.8 609.9 960 607.2C961.2 604.6 962.7 600.6 963.6 598.6L998.9 598.6L998.9 738.4L808.6 738.4L808.6 692.3Z" fill="#32c832"/>
<path d="M836 709.6C835.8 707.5 837.2 706.2 838.1 705.3C839.1 704.3 840.6 703.3 841.7 703.8C842.8 704.3 844 706.5 844.6 708.1C845.2 709.8 845.6 712.2 845.3 713.9C845.1 715.6 844.2 717.6 843.2 718.2C842.1 718.8 840 719 838.8 717.5C837.6 716.1 836.1 711.6 836 709.6Z" fill="#ffff96"/>
<path d="M965 598.6C965.2 600.6 965.9 604.1 965.7 607.2C965.6 610.3 964.8 614.2 964.3 617.3C963.8 620.4 962.6 623.3 962.8 626C963.1 628.6 964.5 631 965.7 633.2C966.9 635.3 969.2 637 970.1 638.9C970.9 640.9 971.3 642.3 970.8 644.7C970.3 647.1 968.5 650.5 967.2 653.4C965.9 656.2 964.5 659.4 962.8 662C961.2 664.6 959.2 666.8 957.1 669.2C954.9 671.6 952.5 674 949.9 676.4C947.2 678.8 944.1 681.5 941.2 683.6C938.3 685.8 935.5 687.7 932.6 689.4C929.7 691.1 926.8 692 923.9 693.7C921 695.4 917.9 697.8 915.3 699.5C912.6 701.2 910.2 702.5 908.1 703.8C905.9 705.1 903.6 706 902.3 707.4C901 708.9 900.1 710.4 900.1 712.5C900.1 714.5 901.2 717 902.3 719.7C903.4 722.3 905.2 726.2 906.6 728.3C908.1 730.5 909.3 732.4 910.9 732.7C912.6 732.9 914.8 731.2 916.7 729.8C918.6 728.3 920.8 725.9 922.5 724C924.2 722.1 925.1 719.5 926.8 718.2C928.5 717 931.3 716.1 932.6 716.5C933.8 716.9 934.7 718.7 934.3 720.4C933.9 722.1 932 724.8 930.4 726.9C928.8 728.9 926.2 730.7 924.6 732.7C923.1 734.6 921.9 737.1 921 738.4L998.9 738.4L998.9 598.6L965 598.6Z" fill="#00ffff"/>
<path d="M856.1 738.4C855.8 735.7 854.7 730.3 854.7 726.9C854.7 723.5 855.2 721.1 856.1 718.2C857.1 715.4 858.8 711.5 860.5 709.6C862.2 707.7 864.3 707.2 866.2 706.7C868.2 706.2 870.1 706.2 872 706.7C873.9 707.2 876.3 708.1 877.8 709.6C879.2 711 879.9 713.2 880.7 715.4C881.4 717.5 882.1 720.2 882.1 722.6C882.1 725 881.1 727.1 880.7 729.8C880.2 732.4 879.6 736.4 879.2 738.4L856.1 738.4Z" fill="#00ffff"/>
<path d="M975.8 598.6C976.2 600.6 976.8 604.3 977.3 607.2C977.7 610.1 978 613 978.7 615.9C979.4 618.7 980.6 621.6 981.6 624.5C982.6 627.4 983.8 630.3 984.5 633.2C985.2 636 986.2 639.2 985.9 641.8C985.7 644.5 984.5 646.6 983 649C981.6 651.4 979.4 653.8 977.3 656.2C975.1 658.6 972.5 660.8 970.1 663.4C967.7 666.1 965.5 669.2 962.8 672.1C960.2 675 956.8 678.1 954.2 680.7C951.6 683.4 949.1 685.6 947 688C944.8 690.4 942.3 692.8 941.2 695.2C940.1 697.6 940 700 940.5 702.4C941 704.8 943 707.4 944.1 709.6C945.2 711.8 946.7 713.2 947 715.4C947.2 717.5 946.3 720.2 945.5 722.6C944.8 725 943.7 727.1 942.7 729.8C941.6 732.4 939.9 736.4 939.1 738.4L998.9 738.4L998.9 598.6L975.8 598.6Z" fill="#0090ff"/>
<path d="M998.9 613C997.6 613.7 994.5 614.4 993.1 615.9C991.8 617.3 991 619.7 991 621.6C991 623.6 991.8 625.8 993.1 627.4C994.5 629 997.6 630.2 998.9 631L998.9 613Z" fill="#0000ff"/>
<path d="M962.8 713.9C963.9 712 965.4 708.9 966.5 708.1C967.5 707.4 969.2 708.4 969.3 709.6C969.5 710.8 968.3 713.4 967.2 715.4C966.1 717.3 964 720.4 962.8 721.1C961.6 721.8 960 720.9 960 719.7C960 718.5 961.8 715.8 962.8 713.9Z" fill="#0000ff"/>
<path d="M997.5 646.1L991.7 649L987.4 657.7L983 664.9L978.7 673.5L975.8 682.2L971.5 689.4L967.2 695.2L968.6 700.9L967.2 708.1L962.8 715.4L958.5 722.6L954.2 729.8L950.6 738.4L997.5 738.4Z" fill="#fff"/>
</g>
<path class="cb" d="M997.5 646.1L991.7 649L987.4 657.7L983 664.9L978.7 673.5L975.8 682.2L971.5 689.4L967.2 695.2L968.6 700.9L967.2 708.1L962.8 715.4L958.5 722.6L954.2 729.8L950.6 738.4"/>
</g>
<clipPath id="tc24"><rect x="920" y="330" width="100" height="73"/></clipPath>
<clipPath id="tl24"><path d="M919.2 329.2L1020.8 329.2L1020.8 404.4L919.2 404.4Z"/></clipPath>
<g clip-path="url(#tc24)">
<g clip-path="url(#tl24)">
<rect x="919" y="329" width="102" height="75" fill="#ffff96"/>
<path d="M919.2 343.6C920.5 342.8 922.8 340.9 924.7 340.1C926.5 339.2 928.1 338.8 930.1 338.5C932 338.3 934.5 338.1 936.3 338.5C938.1 338.9 940 339.9 940.9 340.9C941.9 341.8 942.2 342.7 942.1 344C942 345.2 941 347.1 940.2 348.6C939.3 350.2 938.2 352 937.1 353.3C935.9 354.5 934.7 355.6 933.2 356.4C931.6 357.1 929.4 357.5 927.8 357.9C926.1 358.3 924.5 358.7 923.1 358.7C921.7 358.7 920.1 358.1 919.2 357.9L919.2 343.6Z" fill="#ff9664"/>
<path d="M947.1 332.3C947.4 331.6 949.8 330.5 951 330C952.2 329.5 952.8 328.8 954.1 329.2C955.4 329.6 957.4 331.4 958.8 332.3C960.1 333.2 962 333.6 962.2 334.7C962.5 335.7 961.1 337.6 960.3 338.5C959.5 339.4 958.4 340.2 957.2 340.1C956 339.9 954.6 338.7 953.3 337.8C952 336.8 950.5 335.6 949.5 334.7C948.4 333.7 946.9 333.1 947.1 332.3Z" fill="#ff9664"/>
<path d="M949.8 396.7C949.5 396.3 949.7 394.5 950.2 393.6C950.8 392.7 952.2 392 953.3 391.2C954.5 390.5 956.2 389.8 957.2 388.9C958.2 388.1 958.5 386.7 959.1 386.2C959.8 385.7 960.5 385.6 961.1 385.8C961.7 386 962.9 386.5 962.6 387.4C962.4 388.3 960.6 390.2 959.5 391.2C958.5 392.3 957.6 392.8 956.4 393.6C955.3 394.3 953.7 395.4 952.6 395.9C951.5 396.4 950.2 397.1 949.8 396.7Z" fill="#ff9664"/>
<path d="M974.3 329.2C973.9 330.9 973.4 333.7 972.7 336.2C972.1 338.7 971.3 341.4 970.4 344C969.5 346.5 968.3 349.1 967.3 351.7C966.3 354.3 965 357 964.2 359.5C963.3 361.9 962.2 364.4 962.2 366.4C962.2 368.5 963.5 370.1 964.2 371.9C964.9 373.7 965.6 376 966.5 377.3C967.4 378.6 968.3 379.7 969.6 379.6C970.9 379.5 972.7 377.5 974.3 376.5C975.8 375.5 977.2 374.7 978.9 373.4C980.6 372.1 982.5 370.2 984.3 368.8C986.1 367.3 987.8 365.9 989.8 364.9C991.7 363.9 994.4 363.5 996 362.6C997.5 361.7 998.2 360.9 999.1 359.5C1000 358 1000.6 355.7 1001.4 354C1002.2 352.4 1002.7 350.8 1003.7 349.4C1004.8 348 1006 346.8 1007.6 345.5C1009.1 344.2 1010.8 343.2 1013 341.6C1015.2 340.1 1019 337.5 1020.8 336.2L1020.8 329.2L974.3 329.2Z" fill="#c8ffc8"/>
<path d="M919.2 329.2L930.1 329.2C929.5 329.9 928.9 331.4 927.8 332.3C926.6 333.2 924.5 334 923.1 334.7C921.7 335.3 920.1 335.8 919.2 336.2L919.2 329.2Z" fill="#c8ffc8"/>
<path d="M919.2 329.2L924.7 329.2C924.1 329.8 923.2 330.9 922.3 331.6C921.4 332.2 919.9 332.7 919.2 333.1L919.2 329.2Z" fill="#32c832"/>
<path d="M974 359C973.6 357.1 974.3 354 974.7 351.7C975 349.5 975.1 347.6 976 345.5C976.8 343.4 978 340.9 979.7 339.3C981.3 337.7 983.8 336.5 985.9 335.8C988 335.1 990.2 335 992.1 335C994 335 996 335.4 997.5 335.8C999.1 336.3 1000.6 336.8 1001.4 337.8C1002.2 338.7 1002.3 340.3 1002.2 341.6C1002 342.9 1001.4 344.2 1000.6 345.5C999.8 346.8 998.4 348.1 997.5 349.4C996.6 350.7 995.9 351.8 995.2 353.3C994.5 354.7 994.2 356.5 993.3 357.9C992.4 359.3 991.1 360.7 989.8 361.8C988.4 362.9 986.5 364 985.1 364.5C983.7 365 982.6 365.1 981.2 364.9C979.9 364.6 978.2 363.9 977 362.9C975.8 362 974.4 360.9 974 359Z" fill="#32c832"/>
<path d="M919.2 372.8L926.2 368.8L932.4 364.1L934 358.7L937.8 353.3L942.5 344.7L946.4 343.2L951 344L953.3 340.1L955.7 341.6L958 344.7L961.9 348.6L964.2 352.5L961.9 357.9L958.8 364.1L954.1 368.8L953.3 373.4L954.5 376.5L951 377.3L951.8 380.4L957.2 380.4L961.5 379.2L958.4 383.5L959.1 386.2L957.2 388.9L953.3 391.2L950.2 393.6L949.8 396.7L943.3 404.4L919.2 404.4Z" fill="#fff"/>
<path d="M949.8 396.7L952.6 395.9L956.4 393.6L959.5 391.2L963.4 388.9L966.5 385.8L967.3 381.9L969.6 378.1L974.3 374.2L978.9 370.3L984.3 366.4L989.8 363.3L996 361.8L1002.2 361.4L1003.3 361L1003.3 361L1003.7 355.6L1005.3 350.9L1008.4 346.3L1011.5 344.7L1013 341.6L1020.8 336.6L1020.8 404.4L943.3 404.4Z" fill="#fff"/>
</g>
<path class="nb" d="M1003.3 361L1003.7 355.6L1005.3 350.9L1008.4 346.3L1011.5 344.7L1013 341.6L1020.8 336.6"/>
<path class="cb" d="M919.2 372.8L926.2 368.8L932.4 364.1L934 358.7L937.8 353.3L942.5 344.7L946.4 343.2L951 344L953.3 340.1L955.7 341.6L958 344.7L961.9 348.6L964.2 352.5L961.9 357.9L958.8 364.1L954.1 368.8L953.3 373.4L954.5 376.5L951 377.3L951.8 380.4L957.2 380.4L961.5 379.2L958.4 383.5L959.1 386.2L957.2 388.9L953.3 391.2L950.2 393.6L949.8 396.7"/>
<path class="cb" d="M949.8 396.7L952.6 395.9L956.4 393.6L959.5 391.2L963.4 388.9L966.5 385.8L967.3 381.9L969.6 378.1L974.3 374.2L978.9 370.3L984.3 366.4L989.8 363.3L996 361.8L1002.2 361.4L1003.3 361"/>
</g>
<clipPath id="tc25"><rect x="680" y="500" width="160" height="117"/></clipPath>
<clipPath id="tl25"><path d="M678.8 498.8L841.2 498.8L841.2 619.1L678.8 619.1Z"/></clipPath>
<g clip-path="url(#tc25)">
<g clip-path="url(#tl25)">
<rect x="679" y="499" width="162" height="119" fill="#ff6464"/>
<path d="M678.8 519.8C680.2 518.7 682.7 516.5 685 514.9C687.2 513.2 689.5 511.2 692.4 509.9C695.3 508.7 699 508.3 702.3 507.4C705.6 506.6 709.4 506.4 712.2 505C715.1 503.5 718 500.2 719.7 498.8L678.8 498.8L678.8 519.8Z" fill="#ff9664"/>
<path d="M678.8 516.1C680.2 515 682.7 512.8 685 511.2C687.2 509.5 689.7 507.4 692.4 506.2C695.1 505 698 505 701.1 503.7C704.2 502.5 708.7 499.9 711 498.8L678.8 498.8L678.8 516.1Z" fill="#ffff96"/>
<path d="M678.8 512.4C679.9 511.5 682.1 510.1 683.7 508.7C685.4 507.2 687.4 505.4 688.7 503.7C689.9 502.1 690.6 499.9 691.2 498.8L678.8 498.8L678.8 512.4Z" fill="#c8ffc8"/>
<path d="M678.8 508.7C679.6 508.1 681.3 507.4 682.5 506.2C683.6 505 685 502.5 685.6 501.2C686.2 500 686.1 499.3 686.2 498.8L678.8 498.8L678.8 508.7Z" fill="#32c832"/>
<path d="M678.8 524.8C680.2 524.2 683.1 522.9 685 522.3C686.8 521.7 688.1 520.7 689.9 521.1C691.8 521.5 694.3 523.2 696.1 524.8C698 526.5 700.1 528.9 701.1 531C702.1 533.1 702.5 535.1 702.3 537.2C702.1 539.3 701.3 541.8 699.8 543.4C698.4 545.1 695.7 546.1 693.6 547.1C691.6 548.2 689.7 549.4 687.4 549.6C685.2 549.8 681.4 548.6 680 548.4C678.6 548.2 679 548.4 678.8 548.4L678.8 524.8Z" fill="#ff9664"/>
<path d="M711 552.1C712.1 550.4 714.9 549.2 717.2 548.4C719.5 547.5 722.2 546.9 724.7 547.1C727.1 547.3 730.4 550.2 732.1 549.6C733.7 549 733.5 545.9 734.6 543.4C735.6 540.9 736.8 537.4 738.3 534.7C739.7 532 741.4 529.6 743.3 527.3C745.1 525 747.6 522.7 749.5 521.1C751.3 519.4 753.2 518.8 754.4 517.4C755.7 515.9 755.9 514.3 756.9 512.4C757.9 510.5 759.2 507.9 760.6 506.2C762.1 504.5 763.9 503.5 765.6 502.5C767.2 501.4 769.1 499.8 770.5 500C772 500.2 773.4 502.1 774.3 503.7C775.1 505.4 775.7 507.4 775.5 509.9C775.3 512.4 774.1 515.9 773 518.6C772 521.3 770.5 523.6 769.3 526C768.1 528.5 766.6 531 765.6 533.5C764.5 536 764.1 538.7 763.1 540.9C762.1 543.2 760.8 545.1 759.4 547.1C757.9 549.2 756.1 551.5 754.4 553.3C752.8 555.2 751.5 557.1 749.5 558.3C747.4 559.5 744.5 560.2 742 560.8C739.5 561.4 737.1 561.4 734.6 562C732.1 562.6 729.4 563.5 727.1 564.5C724.9 565.5 722.8 567.2 720.9 568.2C719.1 569.3 717.4 571.1 716 570.7C714.5 570.3 713.2 567.8 712.2 565.7C711.3 563.7 710.6 560.6 710.4 558.3C710.2 556 709.9 553.7 711 552.1Z" fill="#ff9664"/>
<path d="M811.5 538.4C811.9 536.8 813.5 534.9 815.2 533.5C816.8 532 819.1 530.6 821.4 529.8C823.7 528.9 826.4 528.3 828.8 528.5C831.3 528.7 834.2 530 836.3 531C838.3 532 840.1 533.9 841.2 534.7L841.2 538.4C839.5 539 836.3 540.1 833.8 540.9C831.3 541.8 828.6 542.4 826.4 543.4C824.1 544.4 821.8 546.5 820.2 547.1C818.5 547.8 817.7 547.8 816.4 547.1C815.2 546.5 813.5 544.9 812.7 543.4C811.9 542 811.1 540.1 811.5 538.4Z" fill="#ff9664"/>
<path d="M832.6 498.8C833.1 499.9 833.6 502.7 835 503.7C836.5 504.8 839.8 504.7 841.2 505L841.2 498.8L832.6 498.8Z" fill="#ffff96"/>
<path d="M750.7 586.8C750.8 584.8 751.1 582.7 751.9 580.6C752.8 578.6 754 576.3 755.7 574.4C757.3 572.6 759.6 570.7 761.9 569.5C764.1 568.2 767.2 568 769.3 567C771.4 565.9 772.8 565.1 774.3 563.3C775.7 561.4 776.5 557.5 778 555.8C779.4 554.2 781.3 553.3 782.9 553.3C784.6 553.3 786.5 554.4 787.9 555.8C789.4 557.3 790.6 560.2 791.6 562C792.7 563.9 792.7 565.5 794.1 567C795.6 568.4 797.6 569.7 800.3 570.7C803 571.7 807.1 571.9 810.2 573.2C813.3 574.4 816.6 576.1 818.9 578.1C821.2 580.2 822.8 582.9 823.9 585.6C824.9 588.3 824.3 591.6 825.1 594.3C825.9 597 827.2 599.4 828.8 601.7C830.5 604 833 606.3 835 607.9C837.1 609.6 839.8 610.8 841.2 611.6L841.2 619.1L756.9 619.1C758.1 617.3 761.4 613.9 761.9 611.6C762.3 609.4 760.6 607.5 759.4 605.4C758.1 603.4 755.8 601.3 754.4 599.2C753.1 597.2 751.9 595.1 751.3 593C750.7 591 750.6 588.9 750.7 586.8Z" fill="#ff9664"/>
<path d="M732.1 549.6C732.1 547.8 732.5 544.9 733.3 542.2C734.2 539.5 735.6 536 737.1 533.5C738.5 531 740.2 529 742 527.3C743.9 525.5 746.1 523.8 748.2 522.9C750.3 522.1 752.6 522 754.4 522.3C756.3 522.6 758.1 523.6 759.4 524.8C760.6 526 761.7 527.9 761.9 529.8C762.1 531.6 761.4 533.9 760.6 536C759.8 538 758.3 540.1 756.9 542.2C755.5 544.2 753.8 546.5 751.9 548.4C750.1 550.2 748 552.3 745.7 553.3C743.5 554.4 740.4 554.6 738.3 554.6C736.2 554.6 734.4 554.2 733.3 553.3C732.3 552.5 732.1 551.5 732.1 549.6Z" fill="#ffff96"/>
<path d="M761.9 589.3C761.3 587 761.9 586 762.5 584.3C763.1 582.7 764 580.6 765.6 579.4C767.1 578.1 769.5 577.3 771.8 576.9C774.1 576.5 776.7 576.5 779.2 576.9C781.7 577.3 784.4 578.1 786.7 579.4C788.9 580.6 791.4 582.3 792.9 584.3C794.3 586.4 794.7 589.3 795.3 591.8C796 594.3 796.2 596.5 796.6 599.2C797 601.9 797.4 604.6 797.8 607.9C798.2 611.2 798.8 616.5 799.1 619.1L769.3 619.1C769.6 617.3 770.5 613.9 770.5 611.6C770.5 609.4 770.1 607.7 769.3 605.4C768.5 603.2 766.8 600.7 765.6 598C764.3 595.3 762.4 591.6 761.9 589.3Z" fill="#ffff96"/>
<path d="M735.8 545.9C735.4 544 737.3 540.7 738.3 538.4C739.3 536.2 740.6 534.1 742 532.2C743.5 530.4 745.1 528.3 747 527.3C748.8 526.3 751.5 525.6 753.2 526C754.8 526.5 756.5 528.1 756.9 529.8C757.3 531.4 756.5 533.9 755.7 536C754.8 538 753.4 540.3 751.9 542.2C750.5 544 748.8 545.9 747 547.1C745.1 548.4 742.6 549.8 740.8 549.6C738.9 549.4 736.2 547.8 735.8 545.9Z" fill="#c8ffc8"/>
<path d="M772.4 589.3C772.2 587.2 773.1 586.4 774.3 585.6C775.4 584.8 777.4 584.1 779.2 584.3C781.1 584.5 783.6 585.6 785.4 586.8C787.3 588.1 789.4 589.7 790.4 591.8C791.4 593.9 791.2 596.5 791.6 599.2C792 601.9 792.5 604.6 792.9 607.9C793.3 611.2 793.8 616.5 794.1 619.1L778 619.1C778.3 617.3 779.2 613.9 779.2 611.6C779.2 609.4 778.6 607.7 778 605.4C777.4 603.2 776.4 600.7 775.5 598C774.6 595.3 772.6 591.4 772.4 589.3Z" fill="#c8ffc8"/>
<path d="M739.5 540.9C739.7 539.1 740.8 536.4 742 534.7C743.3 533.1 745.5 531.4 747 531C748.4 530.6 749.9 531.2 750.7 532.2C751.5 533.3 752.1 535.6 751.9 537.2C751.7 538.9 750.7 540.7 749.5 542.2C748.2 543.6 745.9 545.3 744.5 545.9C743 546.5 741.6 546.7 740.8 545.9C739.9 545.1 739.3 542.8 739.5 540.9Z" fill="#32c832"/>
<path d="M735.8 506.2C735.8 504.3 737.3 502.5 738.3 501.2C739.3 500 741.1 499.3 742 498.8L751.9 498.8C751.8 500.2 751.9 503.1 751.3 505C750.7 506.8 749.6 508.5 748.2 509.9C746.9 511.4 744.9 513.2 743.3 513.6C741.6 514.1 739.5 513.6 738.3 512.4C737.1 511.2 735.8 508.1 735.8 506.2Z" fill="#ff0000"/>
<path d="M791 523.6C791.1 522.2 792.7 519 793.5 517.4C794.3 515.7 795.2 513.4 796 513.6C796.7 513.9 797.7 516.7 797.8 518.6C797.9 520.5 797.4 523.7 796.6 524.8C795.8 525.9 793.8 525.6 792.9 525.4C791.9 525.2 790.9 524.9 791 523.6Z" fill="#ff0000"/>
<path d="M841.2 537.2C840.1 538.7 838.1 541.1 836.3 543.4C834.4 545.7 831.7 548.4 830.1 550.9C828.4 553.3 826.8 555.8 826.4 558.3C825.9 560.8 826.6 563.5 827.6 565.7C828.6 568 830.3 570.5 832.6 571.9C834.8 573.4 839.2 573.8 841.2 574.4L841.2 537.2Z" fill="#ff0000"/>
</g>
</g>
<path class="rv" d="M104 377.8C105.3 375.7 109.3 366.8 112 365C114.7 363.2 117 368 120 367C123 366 126.7 362.3 130 359C133.3 355.7 136.3 350 140 347C143.7 344 148 342.5 152 341C156 339.5 159.3 339 164 338C168.7 337 175.3 336.2 180 335C184.7 333.8 188.7 332.3 192 331C195.3 329.7 196.7 327.7 200 327C203.3 326.3 208.7 327.3 212 327C215.3 326.7 217 325.7 220 325C223 324.3 226 323.7 230 323C234 322.3 240.3 320.8 244 321C247.7 321.2 249.7 323.3 252 324C254.3 324.7 255.5 324.5 257.8 325C260.1 325.5 263.3 327.2 266 327C268.7 326.8 271 324 274 324C277 324 280.7 326 284 327C287.3 328 290.7 329.2 294 330C297.3 330.8 300.3 331.3 304 332C307.7 332.7 312.7 332.5 316 334C319.3 335.5 321.3 338.5 324 341C326.7 343.5 329.7 346.7 332 349C334.3 351.3 336.3 353 338 355C339.7 357 341 358.7 342 361C343 363.3 343.8 366.2 344 369C344.2 371.8 343.2 376.3 343 377.8"/>
<path class="rv" d="M98 378C98.3 379.7 99 384.7 100 388C101 391.3 102 395.5 104 398C106 400.5 109 402 112 403C115 404 120 402.5 122 404C124 405.5 123.3 410.3 124 412C124.7 413.7 126.7 413 126 414C125.3 415 120.7 416 120 418C119.3 420 121.7 424.7 122 426"/>
<path class="rv" d="M516 512C517 513 519.7 516.3 522 518C524.3 519.7 528.3 519.7 530 522C531.7 524.3 530.3 529.3 532 532C533.7 534.7 537.3 536.3 540 538C542.7 539.7 545 542 548 542C551 542 554.7 538.7 558 538C561.3 537.3 565 537.7 568 538C571 538.3 573.3 538.7 576 540C578.7 541.3 581.3 544.3 584 546C586.7 547.7 590 550 592 550C594 550 595.7 548 596 546C596.3 544 596.3 540.3 594 538C591.7 535.7 585.7 534 582 532C578.3 530 575.3 528.7 572 526C568.7 523.3 564.7 519 562 516C559.3 513 557.2 511.3 556 508C554.8 504.7 554.3 499.3 555 496C555.7 492.7 557.8 490 560 488C562.2 486 565.3 484.5 568 484C570.7 483.5 573 484.2 576 485C579 485.8 582.7 488 586 489C589.3 490 592.7 490.5 596 491C599.3 491.5 603 492 606 492C609 492 612 491.8 614 491C616 490.2 615.7 488.2 618 487C620.3 485.8 625 485.5 628 484C631 482.5 633.8 480 636 478C638.2 476 640 474.3 641 472C642 469.7 642.8 466 642 464C641.2 462 636.3 461.5 636 460C635.7 458.5 638 456.3 640 455C642 453.7 645 452.8 648 452C651 451.2 655 451 658 450C661 449 663.3 448.7 666 446C668.7 443.3 671.7 438 674 434C676.3 430 678.7 426 680 422C681.3 418 682 414 682 410C682 406 680 401.7 680 398C680 394.3 680.7 391.3 682 388C683.3 384.7 686.1 380.7 688 378C689.9 375.3 690.8 373.3 693.3 371.7C695.9 370.1 699.4 368.1 703.3 368.3C707.2 368.6 712.2 371.7 716.7 373.3C721.1 375 724.4 377.8 730 378.3C735.6 378.9 744.4 376.1 750 376.7C755.6 377.2 760.6 378.1 763.3 381.7C766.1 385.3 766.7 392.8 766.7 398.3C766.7 403.9 765 409.4 763.3 415C761.7 420.6 758.1 425 756.7 431.7C755.3 438.3 754.7 447.8 755 455C755.3 462.2 758.3 468.3 758.3 475C758.3 481.7 755.8 488.9 755 495C754.2 501.1 752.8 507.9 753.3 511.7C753.9 515.4 756.1 516.8 758.3 517.7C760.6 518.5 762.4 518.3 766.7 516.7C770.9 515.1 779.4 509.1 784 508C788.6 506.9 790.7 509.5 794 510C797.3 510.5 800.7 511.3 804 511C807.3 510.7 810.7 508.8 814 508C817.3 507.2 820.7 506.5 824 506C827.3 505.5 831 505.7 834 505C837 504.3 839.3 504.2 842 502C844.7 499.8 847.3 495.3 850 492C852.7 488.7 855.3 485.3 858 482C860.7 478.7 863.3 475.3 866 472C868.7 468.7 871.3 465.3 874 462C876.7 458.7 879.3 455 882 452C884.7 449 887.3 446.7 890 444C892.7 441.3 895.3 438.3 898 436C900.7 433.7 903.3 431.7 906 430C908.7 428.3 912.2 426.5 914 426C915.8 425.5 916.5 426.8 917 427"/>
<path class="rv" d="M501 567C502.7 568.7 508 573.3 511 577C514 580.7 517.3 585.5 519 589C520.7 592.5 521.2 595.8 521 598C520.8 600.2 518 599.8 518 602C518 604.2 520.2 607.5 521 611C521.8 614.5 522.5 618.7 523 623C523.5 627.3 523.7 632.3 524 637C524.3 641.7 524.5 646.7 525 651C525.5 655.3 526.3 659 527 663C527.7 667 528.3 671 529 675C529.7 679 529.7 682.7 531 687C532.3 691.3 535.3 698 537 701C538.7 704 539.7 705.7 541 705C542.3 704.3 544 699.7 545 697C546 694.3 546.2 689.3 547 689C547.8 688.7 549.7 692 550 695C550.3 698 549.2 703 549 707C548.8 711 548.3 716 549 719C549.7 722 550.7 724.5 553 725C555.3 725.5 559.7 723.5 563 722C566.3 720.5 570.2 717 573 716C575.8 715 578.8 714.2 580 716C581.2 717.8 579.2 724.8 580 727C580.8 729.2 582.5 729.3 585 729C587.5 728.7 592 726.3 595 725C598 723.7 601.3 723.7 603 721C604.7 718.3 604.8 713 605 709C605.2 705 603.3 700 604 697C604.7 694 607.2 693.3 609 691C610.8 688.7 613.3 685.7 615 683C616.7 680.3 617 677.3 619 675C621 672.7 624 670.7 627 669C630 667.3 634 665.8 637 665C640 664.2 641.8 664.3 644.8 664C647.8 663.7 651.6 663.5 655 663C658.4 662.5 662 662.3 665 661C668 659.7 670 657.3 673 655C676 652.7 679.7 649.3 683 647C686.3 644.7 689.3 643 693 641C696.7 639 701.3 637.7 705 635C708.7 632.3 712.3 628.3 715 625C717.7 621.7 718.7 617.5 721 615C723.3 612.5 726 611.2 729 610C732 608.8 735.7 608.5 739 608C742.3 607.5 745.7 607.3 749 607C752.3 606.7 755.7 605.8 759 606C762.3 606.2 766 606.8 769 608C772 609.2 774.3 611 777 613C779.7 615 782.3 618.5 785 620C787.7 621.5 790.3 621.3 793 622C795.7 622.7 799.3 622.5 801 624C802.7 625.5 802 629.3 803 631C804 632.7 805 633.3 807 634C809 634.7 813.3 634 815 635C816.7 636 815.7 639.7 817 640C818.3 640.3 821 638.5 823 637C825 635.5 827 633.3 829 631C831 628.7 833.7 625.7 835 623C836.3 620.3 835.7 617.2 837 615C838.3 612.8 840.3 610.5 843 610C845.7 609.5 850 610.8 853 612C856 613.2 858.3 615.2 861 617C863.7 618.8 866.3 621.3 869 623C871.7 624.7 874.3 626.5 877 627C879.7 627.5 882.3 627 885 626C887.7 625 890.7 623.2 893 621C895.3 618.8 897.4 615.7 899 613C900.6 610.3 902.1 608.6 902.8 605C903.5 601.4 900.5 597.2 903.3 591.7C906.2 586.1 915.6 576.7 920 571.7C924.4 566.7 925.6 563.6 930 561.7C934.4 559.7 940.6 559.7 946.7 560C952.8 560.3 960.6 561.9 966.7 563.3C972.8 564.7 978.9 565.8 983.3 568.3C987.8 570.8 991.7 576.7 993.3 578.3"/>
<path class="rv" d="M473 567C474.3 568.7 478.7 573 481 577C483.3 581 485.7 586.7 487 591C488.3 595.3 487.7 599.3 489 603C490.3 606.7 493 609.7 495 613C497 616.3 499 619.3 501 623C503 626.7 505 631 507 635C509 639 511.3 643 513 647C514.7 651 516 655 517 659C518 663 518.5 666.7 519 671C519.5 675.3 519.7 680.3 520 685C520.3 689.7 520.7 694 521 699C521.3 704 521.7 709.7 522 715C522.3 720.3 522.5 726.3 523 731C523.5 735.7 524 739.7 525 743C526 746.3 527.3 748.9 529 751C530.7 753.1 534 755 535 755.8C536 756.6 534 754.6 535 756C536 757.4 539.3 761.3 541 764C542.7 766.7 545 769 545 772C545 775 542.2 778.7 541 782C539.8 785.3 538 788.7 538 792C538 795.3 539.5 798.7 541 802C542.5 805.3 545 808.7 547 812C549 815.3 551.3 819 553 822C554.7 825 556 827.7 557 830C558 832.3 558.7 835 559 836"/>
<path class="rv" d="M387 640C389 640.5 395 642.7 399 643C403 643.3 407 642.8 411 642C415 641.2 419.3 639.2 423 638C426.7 636.8 430 636.3 433 635C436 633.7 438.8 630.7 441 630C443.2 629.3 445.3 629.5 446 631C446.7 632.5 446.2 636.7 445 639C443.8 641.3 441 643 439 645C437 647 433.7 648.7 433 651C432.3 653.3 434.3 656.3 435 659C435.7 661.7 436 665.2 437 667C438 668.8 440.3 669.5 441 670"/>
<path class="rv" d="M201 590C202.3 591 206.3 593.7 209 596C211.7 598.3 214.3 601.7 217 604C219.7 606.3 221.7 608.7 225 610C228.3 611.3 233 611.3 237 612C241 612.7 245 613 249 614C253 615 257 616.7 261 618C265 619.3 269.7 621 273 622C276.3 623 278.3 624.3 281 624C283.7 623.7 285.7 620.3 289 620C292.3 619.7 297 621.3 301 622C305 622.7 309 623.2 313 624C317 624.8 321 626.2 325 627C329 627.8 333 628.2 337 629C341 629.8 345 631.2 349 632C353 632.8 357 633.3 361 634C365 634.7 368.7 635 373 636C377.3 637 384.5 639.3 386.8 640"/>
<path class="rv" d="M368 531C368.3 528.8 369 521.3 370 518C371 514.7 372 511.8 374 511C376 510.2 378.7 512.2 382 513C385.3 513.8 390.3 515.2 394 516C397.7 516.8 400.7 517.5 404 518C407.3 518.5 410.3 519.3 414 519C417.7 518.7 422.3 517.5 426 516C429.7 514.5 432.7 511.2 436 510C439.3 508.8 443 508 446 509C449 510 451.3 513.2 454 516C456.7 518.8 459 523 462 526C465 529 468.7 531.3 472 534C475.3 536.7 479 539.3 482 542C485 544.7 487.7 547 490 550C492.3 553 494.3 557.2 496 560C497.7 562.8 499.3 565.7 500 566.8"/>
<path class="rv" d="M442 532C441.2 532.7 437.7 534 437 536C436.3 538 436.5 541.7 438 544C439.5 546.3 443 548 446 550C449 552 452.7 553.8 456 556C459.3 558.2 463.3 561.2 466 563C468.7 564.8 471 566.2 472 566.8"/>
<path class="rv" d="M645 756C647 756.3 653.3 758 657 758C660.7 758 663.7 756.7 667 756C670.3 755.3 673.7 753.7 677 754C680.3 754.3 684 756.3 687 758C690 759.7 692.3 761.7 695 764C697.7 766.3 700.3 769.3 703 772C705.7 774.7 708.3 778.3 711 780C713.7 781.7 716 782.3 719 782C722 781.7 725.7 778.3 729 778C732.3 777.7 735.7 778.7 739 780C742.3 781.3 745.7 784.7 749 786C752.3 787.3 755.7 787.8 759 788C762.3 788.2 765.3 787 769 787C772.7 787 777 787.7 781 788C785 788.3 789.3 788.2 793 789C796.7 789.8 799.3 792.5 803 793C806.7 793.5 811.3 792 815 792C818.7 792 822.3 791.8 825 793C827.7 794.2 829.3 796.8 831 799C832.7 801.2 833.7 803.8 835 806C836.3 808.2 838.3 811 839 812"/>
<g fill="#28a0f0"><circle cx="902.5" cy="837.3" r="1.2"/><circle cx="922" cy="842" r="1.6"/><circle cx="925" cy="841" r="1.0"/><circle cx="974.5" cy="761" r="1.2"/><circle cx="976.5" cy="766" r="0.9"/><circle cx="980" cy="757" r="0.8"/><circle cx="972" cy="770" r="0.8"/><circle cx="985" cy="745" r="0.7"/><circle cx="1055" cy="697.5" r="1.0"/><circle cx="1053" cy="702" r="0.8"/><circle cx="1084" cy="692" r="0.8"/><circle cx="1026.5" cy="794.5" r="0.9"/><circle cx="1028" cy="797" r="0.7"/><circle cx="1077" cy="691.5" r="0.9"/><circle cx="981.2" cy="372.6" r="0.9"/><circle cx="975.8" cy="380.4" r="1.1"/><circle cx="971.2" cy="383.1" r="0.8"/><circle cx="978.9" cy="385.4" r="0.8"/><circle cx="986.3" cy="383.5" r="0.8"/><circle cx="977" cy="380.8" r="0.8"/><circle cx="940" cy="417" r="0.5"/><circle cx="940" cy="425" r="0.5"/><circle cx="943" cy="433" r="0.5"/><circle cx="823" cy="869" r="0.7"/><circle cx="825" cy="776" r="0.6"/><circle cx="857" cy="816" r="0.8"/><circle cx="862" cy="819" r="0.8"/><circle cx="849" cy="821" r="0.7"/></g>
<path d="M1043.5 728.5L1043.5 740.5M1045.5 728.5L1041.5 728.5M1045.5 740.5L1041.5 740.5" stroke="#000" stroke-width="1.6" fill="none"/><circle cx="1043.5" cy="743.7" r="1.3" fill="#000"/>
<path d="M1033.5 804L1028.5 815M1035.3 804.8L1031.7 803.2M1030.3 815.8L1026.7 814.2" stroke="#000" stroke-width="1.6" fill="none"/><circle cx="1027.2" cy="817.9" r="1.3" fill="#000"/>
<path d="M1003.5 871.5L999.5 882M1005.4 872.2L1001.6 870.8M1001.4 882.7L997.6 881.3" stroke="#000" stroke-width="1.6" fill="none"/><circle cx="998.4" cy="885" r="1.3" fill="#000"/>
<path d="M924.5 44.6L911.5 48M925 46.5L924 42.7M912 49.9L911 46.1" stroke="#000" stroke-width="1.7" fill="none"/><circle cx="908.4" cy="48.8" r="1.3" fill="#000"/>
<path d="M997 88.5L992 79.5M995.3 89.5L998.7 87.5M990.3 80.5L993.7 78.5" stroke="#000" stroke-width="1.7" fill="none"/><circle cx="990.4" cy="76.7" r="1.3" fill="#000"/>
<path d="M1060 127L1049.5 123M1059.3 128.9L1060.7 125.1M1048.8 124.9L1050.2 121.1" stroke="#000" stroke-width="1.7" fill="none"/><circle cx="1046.5" cy="121.9" r="1.3" fill="#000"/>
<path d="M1114 120L1105.5 124.8M1115 121.7L1113 118.3M1106.5 126.5L1104.5 123.1" stroke="#000" stroke-width="1.7" fill="none"/><circle cx="1102.7" cy="126.4" r="1.3" fill="#000"/>
<g font-size="9" font-weight="300" text-anchor="middle" style="font-family:'Liberation Serif','Noto Serif CJK SC',serif" fill="#3c96dc">
<text x="155" y="333.2">塔</text>
<text x="200" y="322.2">里</text>
<text x="253" y="317.2">木</text>
<text x="299" y="327.2">河</text>
<text x="224" y="602.2">雅</text>
<text x="275" y="618.2">鲁</text>
<text x="318" y="622.2">藏</text>
<text x="370" y="630.2">布</text>
<text x="408" y="637.2">江</text>
<text x="525" y="586.2">金</text>
<text x="531" y="644.2">沙</text>
<text x="536" y="693.2">江</text>
<text x="482" y="616.2">澜</text>
<text x="503" y="663.2">沧</text>
<text x="511" y="736.2">江</text>
<text x="542" y="535.2">黄</text>
<text x="621" y="477.2">河</text>
<text x="830" y="499.2">河</text>
<text x="648" y="656.2">长</text>
<text x="790" y="615.2">江</text>
<text x="963" y="65.2">黑</text>
<text x="1008" y="128.2">龙</text>
<text x="1087" y="157.2">江</text>
<text x="808" y="411.2">汾</text>
</g>
<g fill="none" stroke="#000" stroke-width="0.7">
<circle cx="345.5" cy="272" r="4.4"/><circle cx="345.5" cy="272" r="2.2"/>
<circle cx="768.3" cy="375.5" r="4.4"/><circle cx="768.3" cy="375.5" r="2.2"/>
<circle cx="852" cy="381" r="5.6" stroke="#e00000"/>
<circle cx="1013.5" cy="211.5" r="4.4"/><circle cx="1013.5" cy="211.5" r="2.2"/>
<circle cx="999.5" cy="255.5" r="4.4"/><circle cx="999.5" cy="255.5" r="2.2"/>
<circle cx="978" cy="317.5" r="4.4"/><circle cx="978" cy="317.5" r="2.2"/>
<circle cx="875" cy="398.5" r="4.4"/><circle cx="875" cy="398.5" r="2.2"/>
<circle cx="828.5" cy="429.5" r="4.4"/><circle cx="828.5" cy="429.5" r="2.2"/>
<circle cx="792" cy="437.5" r="4.4"/><circle cx="792" cy="437.5" r="2.2"/>
<circle cx="879.5" cy="458.5" r="4.4"/><circle cx="879.5" cy="458.5" r="2.2"/>
<circle cx="672.5" cy="427" r="4.4"/><circle cx="672.5" cy="427" r="2.2"/>
<circle cx="577" cy="470.5" r="4.4"/><circle cx="577" cy="470.5" r="2.2"/>
<circle cx="622.5" cy="492" r="4.4"/><circle cx="622.5" cy="492" r="2.2"/>
<circle cx="727" cy="528.5" r="4.4"/><circle cx="727" cy="528.5" r="2.2"/>
<circle cx="819.5" cy="511.5" r="4.4"/><circle cx="819.5" cy="511.5" r="2.2"/>
<circle cx="357.5" cy="623.3" r="4.4"/><circle cx="357.5" cy="623.3" r="2.2"/>
<circle cx="637.5" cy="614" r="4.4"/><circle cx="637.5" cy="614" r="2.2"/>
<circle cx="682" cy="644.5" r="4.4"/><circle cx="682" cy="644.5" r="2.2"/>
<circle cx="841.5" cy="611" r="4.4"/><circle cx="841.5" cy="611" r="2.2"/>
<circle cx="899.5" cy="573.5" r="4.4"/><circle cx="899.5" cy="573.5" r="2.2"/>
<circle cx="929.5" cy="557" r="4.4"/><circle cx="929.5" cy="557" r="2.2"/>
<circle cx="986.5" cy="577" r="4.4"/><circle cx="986.5" cy="577" r="2.2"/>
<circle cx="964.5" cy="603.5" r="4.4"/><circle cx="964.5" cy="603.5" r="2.2"/>
<circle cx="880.5" cy="654" r="4.4"/><circle cx="880.5" cy="654" r="2.2"/>
<circle cx="819" cy="670.5" r="4.4"/><circle cx="819" cy="670.5" r="2.2"/>
<circle cx="683.5" cy="706" r="4.4"/><circle cx="683.5" cy="706" r="2.2"/>
<circle cx="597.5" cy="753.5" r="4.4"/><circle cx="597.5" cy="753.5" r="2.2"/>
<circle cx="724" cy="806" r="4.4"/><circle cx="724" cy="806" r="2.2"/>
<circle cx="835" cy="792.5" r="4.4"/><circle cx="835" cy="792.5" r="2.2"/>
<circle cx="961.5" cy="708" r="4.4"/><circle cx="961.5" cy="708" r="2.2"/>
<circle cx="1013" cy="723.5" r="4.4"/><circle cx="1013" cy="723.5" r="2.2"/>
<circle cx="773.5" cy="869" r="4.4"/><circle cx="773.5" cy="869" r="2.2"/>
<circle cx="858.3" cy="808" r="4.4"/><circle cx="858.3" cy="808" r="2.2"/>
<circle cx="842.8" cy="811.5" r="4.4"/><circle cx="842.8" cy="811.5" r="2.2"/>
</g>
<polygon points="852,376.3 853.2,379.7 856.8,379.8 853.9,381.9 854.9,385.3 852,383.3 849.1,385.3 850.1,381.9 847.2,379.8 850.8,379.7" fill="#f00000"/>
<g font-size="15" font-weight="300" style="font-family:'Liberation Serif','Noto Serif CJK SC',serif" fill="#000" stroke="#fff" stroke-width="2" stroke-linejoin="round" paint-order="stroke">
<text x="325" y="291" textLength="61.2" lengthAdjust="spacing">乌鲁木齐</text>
<text x="737" y="369.5" textLength="61.2" lengthAdjust="spacing">呼和浩特</text>
<text x="840" y="374" textLength="30.4" lengthAdjust="spacing">北京</text>
<text x="1020" y="214.5" textLength="45.8" lengthAdjust="spacing">哈尔滨</text>
<text x="997" y="276" textLength="30.4" lengthAdjust="spacing">长春</text>
<text x="974" y="336" textLength="30.4" lengthAdjust="spacing">沈阳</text>
<text x="872" y="419" textLength="30.4" lengthAdjust="spacing">天津</text>
<text x="817" y="449" textLength="45.8" lengthAdjust="spacing">石家庄</text>
<text x="788" y="457" textLength="30.4" lengthAdjust="spacing">太原</text>
<text x="875" y="479" textLength="30.4" lengthAdjust="spacing">济南</text>
<text x="668" y="448" textLength="30.4" lengthAdjust="spacing">银川</text>
<text x="558" y="464" textLength="30.4" lengthAdjust="spacing">西宁</text>
<text x="618" y="513" textLength="30.4" lengthAdjust="spacing">兰州</text>
<text x="723" y="548" textLength="30.4" lengthAdjust="spacing">西安</text>
<text x="815" y="532" textLength="30.4" lengthAdjust="spacing">郑州</text>
<text x="349.5" y="615" textLength="30.4" lengthAdjust="spacing">拉萨</text>
<text x="633" y="635" textLength="30.4" lengthAdjust="spacing">成都</text>
<text x="693" y="653" textLength="30.4" lengthAdjust="spacing">重庆</text>
<text x="823" y="604" textLength="30.4" lengthAdjust="spacing">武汉</text>
<text x="895" y="594" textLength="30.4" lengthAdjust="spacing">合肥</text>
<text x="925" y="578" textLength="30.4" lengthAdjust="spacing">南京</text>
<text x="983" y="598" textLength="30.4" lengthAdjust="spacing">上海</text>
<text x="960" y="624" textLength="30.4" lengthAdjust="spacing">杭州</text>
<text x="876" y="675" textLength="30.4" lengthAdjust="spacing">南昌</text>
<text x="805" y="692" textLength="30.4" lengthAdjust="spacing">长沙</text>
<text x="680" y="727" textLength="30.4" lengthAdjust="spacing">贵阳</text>
<text x="593" y="774" textLength="30.4" lengthAdjust="spacing">昆明</text>
<text x="720" y="827" textLength="30.4" lengthAdjust="spacing">南宁</text>
<text x="818" y="784" textLength="30.4" lengthAdjust="spacing">广州</text>
<text x="958" y="729" textLength="30.4" lengthAdjust="spacing">福州</text>
<text x="1010" y="744" textLength="30.4" lengthAdjust="spacing">台北</text>
<text x="782" y="880" textLength="30.4" lengthAdjust="spacing">海口</text>
<text x="862.5" y="822.5" textLength="30.4" lengthAdjust="spacing">香港</text>
<text x="814" y="831" textLength="30.4" lengthAdjust="spacing">澳门</text>
</g>
<g font-size="10.5" style="font-family:'Liberation Serif','Noto Serif CJK SC',serif" fill="#222">
<text x="1023" y="699">钓鱼岛</text>
<text x="1060" y="687">赤尾屿</text>
<text x="927" y="849">东沙群岛</text>
<text x="995" y="766">台湾岛</text>
<text x="753" y="893">海南岛</text>
</g>
<g font-size="11.5" font-weight="300" style="font-family:'Liberation Serif','Noto Serif CJK SC',serif" fill="#3ca0e0">
<text x="938" y="377" text-anchor="middle">渤</text>
<text x="920" y="413" text-anchor="middle">海</text>
<text x="1021" y="413" text-anchor="middle">黄</text>
<text x="1019" y="498" text-anchor="middle">海</text>
<text x="1058" y="624" text-anchor="middle">东</text>
<text x="1106" y="624" text-anchor="middle">海</text>
<text x="862" y="889" text-anchor="middle">南</text>
<text x="922" y="889" text-anchor="middle">海</text>
</g>
<clipPath id="insc"><rect x="1084" y="710" width="196" height="225"/></clipPath>
<rect x="1083.5" y="709.5" width="197" height="226" fill="#fff"/>
<g clip-path="url(#insc)">
<clipPath id="insl"><path d="M1082.9 707.8L1204.4 707.8L1199.3 712.9L1191.5 718.1L1181.2 722L1173.4 725.9L1165.7 729.7L1155.3 732.3L1145 733.6L1139.8 734.9L1135.9 738.8L1138.5 742.7L1134.6 744L1132 738.8L1133.3 733.6L1126.9 731.5L1119.1 732.3L1114 733.1L1106.2 731L1098.4 724.6L1093.3 718.1L1085.5 715.5L1082.9 712.9Z"/></clipPath>
<g clip-path="url(#insl)">
<rect x="1080" y="705" width="130" height="50" fill="#c8ffc8"/>
<path d="M1108.8 707.8C1113.5 706.5 1132.7 706.5 1137.2 707.8C1141.7 709 1136.8 712.5 1135.9 715.5C1135.1 718.5 1134.4 723.7 1132 725.9C1129.7 728 1124.7 728.9 1121.7 728.4C1118.7 728 1116.1 725.4 1114 723.3C1111.8 721.1 1109.6 718.1 1108.8 715.5C1107.9 712.9 1104 709 1108.8 707.8Z" fill="#ffff96"/>
<path d="M1117.8 707.8C1119.3 706.5 1126.7 706.7 1128.2 707.8C1129.7 708.8 1127.7 712.4 1126.9 714.2C1126 716 1124.3 718.4 1123 718.6C1121.7 718.8 1120 717.3 1119.1 715.5C1118.3 713.7 1116.3 709 1117.8 707.8Z" fill="#ff9664"/>
<path d="M1134.6 718.1C1135.1 715.5 1138.9 714 1142.4 712.9C1145.8 711.8 1151 711.4 1155.3 711.6C1159.6 711.8 1164.4 714.9 1168.2 714.2C1172.1 713.6 1172.1 708.8 1178.6 707.8C1185 706.7 1203.6 706.5 1207 707.8C1210.5 709 1202.7 713.1 1199.3 715.5C1195.8 717.9 1190.6 720 1186.3 722C1182 723.9 1177.7 725.6 1173.4 727.1C1169.1 728.7 1164.8 730.5 1160.5 731.5C1156.2 732.5 1151 733.6 1147.6 733.1C1144.1 732.6 1142 730.9 1139.8 728.4C1137.6 725.9 1134.2 720.7 1134.6 718.1Z" fill="#32c832"/>
<path d="M1173.4 715.5C1174.1 712.9 1175.6 709 1181.2 707.8C1186.8 706.5 1204 706.7 1207 707.8C1210 708.8 1202.7 711.8 1199.3 714.2C1195.8 716.6 1190 720.5 1186.3 722C1182.7 723.5 1179.4 724.3 1177.3 723.3C1175.1 722.2 1172.8 718.1 1173.4 715.5Z" fill="#00ffff"/>
<path d="M1191.5 707.8C1193.9 706.7 1205.7 706.9 1207 707.8C1208.3 708.6 1201.6 711.8 1199.3 712.9C1196.9 714 1194.1 715.1 1192.8 714.2C1191.5 713.4 1189.1 708.8 1191.5 707.8Z" fill="#0090ff"/>
<path d="M1133.3 733.6C1134.3 732 1139.1 732.1 1139.8 733.6C1140.5 735.1 1138.7 741 1137.7 742.7C1136.8 744.3 1134.8 744.9 1134.1 743.4C1133.4 741.9 1132.4 735.2 1133.3 733.6Z" fill="#00ffff"/>
</g>
<path d="M1191.5 718.1L1181.2 722L1173.4 725.9L1165.7 729.7L1155.3 732.3L1145 733.6L1139.8 734.9L1135.9 738.8L1138.5 742.7L1134.6 744L1132 738.8L1133.3 733.6L1126.9 731.5L1119.1 732.3L1114 733.1L1106.2 731L1098.4 724.6" fill="none" stroke="#3ca0e0" stroke-width="0.6"/>
<path d="M1084.2 716L1093.3 714.2L1097.1 719.4L1102.3 724.6L1106.2 729L1112.7 732.3L1117.8 733.1" fill="none" stroke="#000" stroke-width="1.6" stroke-dasharray="4 1.5 1.2 1.5"/>
<clipPath id="insh"><path d="M1124.8 757.4C1125 755.3 1126.5 753.2 1128.2 751.7C1129.8 750.2 1132.3 749.4 1134.6 748.6C1137 747.8 1140.3 747 1142.4 747.1C1144.5 747.1 1146.2 748.1 1147 749.1C1147.9 750.1 1148 751.4 1147.6 753C1147.1 754.6 1145.8 757.2 1144.5 758.9C1143.1 760.7 1141.4 762.2 1139.3 763.3C1137.2 764.5 1134.1 765.8 1132 765.9C1130 766.1 1128.1 765.5 1126.9 764.1C1125.7 762.7 1124.6 759.5 1124.8 757.4Z"/></clipPath>
<g clip-path="url(#insh)">
<rect x="1120" y="745" width="35" height="25" fill="#c8ffc8"/>
<path d="M1123 756.9C1124.2 755.6 1129.2 754.1 1132 754.3C1134.8 754.5 1138.9 756.7 1139.8 758.2C1140.8 759.7 1139.2 762.3 1137.7 763.3C1136.2 764.4 1132.9 764.8 1130.8 764.6C1128.6 764.4 1126.1 763.3 1124.8 762C1123.5 760.8 1121.8 758.2 1123 756.9Z" fill="#32c832"/>
<path d="M1128.2 751.2C1129 749.9 1134 748.3 1137.2 747.8C1140.4 747.4 1145.8 747.7 1147.6 748.6C1149.3 749.5 1148.9 752 1147.6 753C1146.3 754 1142.4 754.4 1139.8 754.8C1137.2 755.2 1134 756.2 1132 755.6C1130.1 755 1127.3 752.5 1128.2 751.2Z" fill="#00ffff"/>
<path d="M1137.7 764.1C1138.2 763 1142.1 758.9 1143.7 757.4C1145.2 755.8 1146.7 754.4 1147 754.8C1147.3 755.2 1146.5 758.4 1145.5 760C1144.5 761.5 1142.4 763.4 1141.1 764.1C1139.8 764.8 1137.3 765.2 1137.7 764.1Z" fill="#ffff96"/>
<path d="M1141.9 760.8C1141.9 760.1 1144.6 756.6 1145.5 755.6C1146.4 754.6 1147 754.2 1147 754.8C1147 755.5 1146.4 758.5 1145.5 759.5C1144.6 760.5 1141.9 761.4 1141.9 760.8Z" fill="#ff9664"/>
</g>
<path d="M1124.8 757.4C1125 755.3 1126.5 753.2 1128.2 751.7C1129.8 750.2 1132.3 749.4 1134.6 748.6C1137 747.8 1140.3 747 1142.4 747.1C1144.5 747.1 1146.2 748.1 1147 749.1C1147.9 750.1 1148 751.4 1147.6 753C1147.1 754.6 1145.8 757.2 1144.5 758.9C1143.1 760.7 1141.4 762.2 1139.3 763.3C1137.2 764.5 1134.1 765.8 1132 765.9C1130 766.1 1128.1 765.5 1126.9 764.1C1125.7 762.7 1124.6 759.5 1124.8 757.4Z" fill="none" stroke="#3ca0e0" stroke-width="0.6"/>
<path d="M1236.8 707.8L1248.4 707.8L1245.3 716L1240.6 713.4Z" fill="#0000ff"/>
<g fill="#28a0f0"><circle cx="1159.4" cy="783.5" r="0.6"/><circle cx="1165" cy="783.6" r="0.8"/><circle cx="1152.7" cy="779.4" r="0.7"/><circle cx="1164.7" cy="782.9" r="0.6"/><circle cx="1160.8" cy="785.4" r="0.6"/><circle cx="1161.5" cy="781" r="0.7"/><circle cx="1156.8" cy="779.7" r="0.6"/><circle cx="1156.9" cy="781" r="0.7"/><circle cx="1168.2" cy="783.7" r="0.8"/><circle cx="1156" cy="783.8" r="0.8"/><circle cx="1154.8" cy="780.8" r="0.6"/><circle cx="1155.4" cy="780.4" r="0.8"/><circle cx="1165.7" cy="784.5" r="0.6"/><circle cx="1157" cy="780.2" r="0.9"/><circle cx="1161.3" cy="779.4" r="0.9"/><circle cx="1158.5" cy="783.7" r="0.7"/><circle cx="1159.5" cy="780.4" r="0.8"/><circle cx="1152.3" cy="781.4" r="0.9"/><circle cx="1157.8" cy="789.2" r="0.6"/><circle cx="1158" cy="782.1" r="0.8"/><circle cx="1163.2" cy="784.6" r="0.6"/><circle cx="1162.1" cy="782" r="0.8"/><circle cx="1202.1" cy="846.2" r="0.9"/><circle cx="1194.3" cy="840.6" r="0.6"/><circle cx="1212.9" cy="832.9" r="0.6"/><circle cx="1218.9" cy="836.9" r="0.9"/><circle cx="1205.1" cy="846.1" r="0.8"/><circle cx="1214.7" cy="835.9" r="0.7"/><circle cx="1194.4" cy="839" r="0.7"/><circle cx="1203.6" cy="836.3" r="0.7"/><circle cx="1192" cy="854.8" r="0.9"/><circle cx="1214.4" cy="838.7" r="0.8"/><circle cx="1213.4" cy="826.7" r="0.8"/><circle cx="1189.7" cy="826.5" r="0.9"/><circle cx="1209" cy="836.4" r="0.7"/><circle cx="1215.3" cy="843" r="0.6"/><circle cx="1192.9" cy="845.9" r="0.8"/><circle cx="1204.9" cy="843.3" r="0.8"/><circle cx="1196.9" cy="839.2" r="0.7"/><circle cx="1197.5" cy="834.9" r="0.6"/><circle cx="1188.4" cy="850.9" r="0.9"/><circle cx="1198.9" cy="846.4" r="0.9"/><circle cx="1201.6" cy="839" r="0.6"/><circle cx="1213.8" cy="834.5" r="0.6"/><circle cx="1203.6" cy="842" r="0.6"/><circle cx="1192.9" cy="841.4" r="0.8"/><circle cx="1201.2" cy="839.4" r="0.7"/><circle cx="1199.6" cy="839.2" r="0.8"/><circle cx="1215.1" cy="832" r="0.9"/><circle cx="1220.6" cy="841.6" r="0.9"/><circle cx="1197" cy="843.8" r="0.7"/><circle cx="1212.5" cy="839.7" r="0.8"/><circle cx="1191.4" cy="847.2" r="0.6"/><circle cx="1217" cy="850.5" r="0.8"/><circle cx="1213.9" cy="842.2" r="0.6"/><circle cx="1202.5" cy="834.6" r="0.6"/><circle cx="1200.1" cy="836.4" r="0.8"/><circle cx="1210.1" cy="833.4" r="0.7"/><circle cx="1188.2" cy="844.7" r="0.8"/><circle cx="1193.5" cy="837.3" r="0.7"/><circle cx="1205.5" cy="826.9" r="0.7"/><circle cx="1210.7" cy="844.5" r="0.6"/><circle cx="1219.9" cy="831.6" r="0.9"/><circle cx="1207.8" cy="848.9" r="0.8"/><circle cx="1186.6" cy="853.3" r="0.8"/><circle cx="1211.9" cy="834.2" r="0.7"/><circle cx="1214.4" cy="839.7" r="0.8"/><circle cx="1211.6" cy="845.7" r="0.6"/><circle cx="1192" cy="846.7" r="0.6"/><circle cx="1205.6" cy="836" r="0.9"/><circle cx="1203" cy="828.7" r="0.9"/><circle cx="1209.9" cy="832.2" r="0.8"/><circle cx="1226.4" cy="838.2" r="0.9"/><circle cx="1191.1" cy="848.5" r="0.6"/><circle cx="1201.9" cy="836.5" r="0.7"/><circle cx="1216.9" cy="835.4" r="0.9"/><circle cx="1204.8" cy="835.7" r="0.9"/><circle cx="1197.8" cy="837.2" r="0.7"/><circle cx="1221" cy="833.6" r="0.6"/><circle cx="1182.8" cy="847" r="0.9"/><circle cx="1210.2" cy="836.5" r="0.7"/><circle cx="1210.9" cy="837.5" r="0.7"/><circle cx="1202.7" cy="834.2" r="0.9"/><circle cx="1205.2" cy="837.1" r="0.8"/><circle cx="1212.6" cy="829.6" r="0.9"/><circle cx="1208.1" cy="825.1" r="0.7"/><circle cx="1193.1" cy="843.2" r="0.6"/><circle cx="1211.9" cy="827.4" r="0.6"/><circle cx="1203.7" cy="836" r="0.7"/><circle cx="1191" cy="847.8" r="0.6"/><circle cx="1202.4" cy="848.2" r="0.9"/><circle cx="1204.1" cy="836.5" r="0.6"/><circle cx="1206.7" cy="844.2" r="0.6"/><circle cx="1192.8" cy="844.6" r="0.6"/><circle cx="1194.2" cy="847.8" r="0.7"/><circle cx="1198.2" cy="835.3" r="0.9"/><circle cx="1197.6" cy="842.5" r="0.8"/><circle cx="1218.5" cy="826.1" r="0.7"/><circle cx="1205.8" cy="835.7" r="0.6"/><circle cx="1199.8" cy="845.6" r="0.7"/><circle cx="1199.7" cy="844" r="0.8"/><circle cx="1202.8" cy="825.6" r="0.7"/><circle cx="1214.9" cy="830.9" r="0.8"/><circle cx="1220.4" cy="843.6" r="0.9"/><circle cx="1215.2" cy="851.7" r="0.9"/><circle cx="1207.4" cy="835.5" r="0.7"/><circle cx="1211.9" cy="842.5" r="0.9"/><circle cx="1202.8" cy="844.3" r="0.8"/><circle cx="1213" cy="839.3" r="0.8"/><circle cx="1194.4" cy="841.8" r="0.6"/><circle cx="1198.5" cy="848" r="0.8"/><circle cx="1201.1" cy="841" r="0.7"/><circle cx="1177.9" cy="858.3" r="0.8"/><circle cx="1173.5" cy="869.6" r="0.7"/><circle cx="1173.5" cy="862.5" r="0.9"/><circle cx="1180.4" cy="852.5" r="0.8"/><circle cx="1164.2" cy="866.6" r="0.9"/><circle cx="1171.5" cy="859.2" r="0.6"/><circle cx="1174.5" cy="857.3" r="0.6"/><circle cx="1173.5" cy="861.1" r="0.6"/><circle cx="1174.2" cy="858.3" r="0.7"/><circle cx="1192.5" cy="856.9" r="0.9"/><circle cx="1205.3" cy="849.7" r="0.9"/><circle cx="1179.9" cy="856.4" r="0.7"/><circle cx="1188.9" cy="856.5" r="0.6"/><circle cx="1180.7" cy="857" r="0.7"/><circle cx="1177.1" cy="862.5" r="0.8"/><circle cx="1166.7" cy="862.2" r="0.9"/><circle cx="1167.3" cy="862.5" r="0.8"/><circle cx="1179.7" cy="844.8" r="0.6"/><circle cx="1189.5" cy="855.1" r="0.7"/><circle cx="1166" cy="862.7" r="0.9"/><circle cx="1189.3" cy="859.5" r="0.9"/><circle cx="1165.1" cy="858.8" r="0.9"/><circle cx="1181.5" cy="856.7" r="0.7"/><circle cx="1182.2" cy="856.6" r="0.7"/><circle cx="1166.6" cy="865" r="0.6"/><circle cx="1174.1" cy="859.4" r="0.8"/><circle cx="1170.6" cy="861.9" r="0.9"/><circle cx="1182" cy="852.5" r="0.8"/><circle cx="1159.9" cy="861.3" r="0.6"/><circle cx="1168" cy="862.9" r="0.9"/><circle cx="1182.8" cy="857" r="0.8"/><circle cx="1185.3" cy="855" r="0.7"/><circle cx="1193.9" cy="854.8" r="0.7"/><circle cx="1173.2" cy="860.5" r="0.9"/><circle cx="1180.9" cy="859.3" r="0.7"/><circle cx="1176" cy="866.8" r="0.6"/><circle cx="1173.6" cy="862.1" r="0.9"/><circle cx="1164.3" cy="861.4" r="0.8"/><circle cx="1172" cy="863.8" r="0.7"/><circle cx="1163" cy="858.3" r="0.9"/><circle cx="1172.6" cy="853.7" r="0.9"/><circle cx="1184.5" cy="861.9" r="0.7"/><circle cx="1192.1" cy="855.7" r="0.9"/><circle cx="1169.1" cy="854" r="0.7"/><circle cx="1186" cy="851.8" r="0.6"/><circle cx="1177.8" cy="853.6" r="0.7"/><circle cx="1176.1" cy="860" r="0.8"/><circle cx="1182.3" cy="856" r="0.9"/><circle cx="1159.8" cy="863.1" r="0.7"/><circle cx="1172.6" cy="860.6" r="0.6"/><circle cx="1174.7" cy="887.8" r="0.6"/><circle cx="1174.4" cy="891.3" r="0.9"/><circle cx="1174.7" cy="894.2" r="0.8"/><circle cx="1175" cy="899.4" r="0.7"/><circle cx="1174.4" cy="881.5" r="0.9"/><circle cx="1175.1" cy="891.3" r="0.8"/><circle cx="1174.9" cy="887" r="0.7"/><circle cx="1175.5" cy="893.7" r="0.8"/><circle cx="1173.3" cy="887.5" r="0.7"/><circle cx="1175.3" cy="892.7" r="0.8"/><circle cx="1175.4" cy="892.3" r="0.7"/><circle cx="1174.1" cy="889.6" r="0.8"/><circle cx="1172.9" cy="893.6" r="0.6"/><circle cx="1176.8" cy="892.4" r="0.8"/><circle cx="1152.5" cy="866.2" r="0.6"/><circle cx="1144.8" cy="869.9" r="0.9"/><circle cx="1148.2" cy="868.1" r="0.7"/><circle cx="1146.3" cy="869.1" r="0.8"/><circle cx="1146.6" cy="868.6" r="0.8"/><circle cx="1148.4" cy="866.8" r="0.7"/><circle cx="1195.9" cy="733.6" r="0.9"/><circle cx="1202.1" cy="733.6" r="0.9"/><circle cx="1200.6" cy="732.7" r="0.7"/><circle cx="1199.4" cy="734.1" r="0.6"/><circle cx="1173.5" cy="751.7" r="0.8"/><circle cx="1174" cy="751.4" r="0.7"/><circle cx="1172.3" cy="750.2" r="0.8"/><circle cx="1217.3" cy="785.7" r="0.9"/><circle cx="1222" cy="785.3" r="0.8"/><circle cx="1222.6" cy="784.4" r="0.6"/></g>
<ellipse cx="1186.3" cy="787.1" rx="6" ry="3.2" transform="rotate(-25 1186.3 787.1)" fill="none" stroke="#28a0f0" stroke-width="0.7"/>
<ellipse cx="1186.3" cy="787.1" rx="3.2" ry="1.5" transform="rotate(-25 1186.3 787.1)" fill="none" stroke="#28a0f0" stroke-width="0.6"/>
<path d="M1254.9 717.6L1250.5 725.9M1256.6 718.5L1253.1 716.6M1252.2 726.8L1248.7 724.9" stroke="#000" stroke-width="1.5" fill="none"/><circle cx="1249" cy="728.7" r="1.3" fill="#000"/>
<path d="M1240.6 747.8L1237.5 757.4M1242.5 748.4L1238.7 747.2M1239.4 758L1235.6 756.8" stroke="#000" stroke-width="1.5" fill="none"/><circle cx="1236.5" cy="760.4" r="1.3" fill="#000"/>
<path d="M1235.5 779.6L1236.8 789.2M1237.4 779.4L1233.5 779.9M1238.7 788.9L1234.8 789.5" stroke="#000" stroke-width="1.5" fill="none"/><circle cx="1237.2" cy="792.4" r="1.3" fill="#000"/>
<path d="M1241.1 820.2L1238 829.3M1243 820.9L1239.3 819.6M1239.9 829.9L1236.2 828.6" stroke="#000" stroke-width="1.5" fill="none"/><circle cx="1237" cy="832.3" r="1.3" fill="#000"/>
<path d="M1215.3 862.4L1209.1 869.3M1216.8 863.7L1213.8 861M1210.6 870.7L1207.6 868" stroke="#000" stroke-width="1.5" fill="none"/><circle cx="1207" cy="871.7" r="1.3" fill="#000"/>
<path d="M1180.7 905.5L1171.3 908.9M1181.3 907.4L1180 903.7M1172 910.8L1170.7 907" stroke="#000" stroke-width="1.5" fill="none"/><circle cx="1168.3" cy="910" r="1.3" fill="#000"/>
<path d="M1123.8 886.7L1123 878.4M1121.8 886.8L1125.8 886.5M1121 878.6L1125 878.2" stroke="#000" stroke-width="1.5" fill="none"/><circle cx="1122.7" cy="875.2" r="1.3" fill="#000"/>
<path d="M1142.9 835.7L1145 828M1141 835.2L1144.8 836.2M1143 827.5L1146.9 828.5" stroke="#000" stroke-width="1.5" fill="none"/><circle cx="1145.8" cy="824.9" r="1.3" fill="#000"/>
<path d="M1136.7 796.2L1132 788.4M1135 797.2L1138.4 795.1M1130.3 789.4L1133.8 787.4" stroke="#000" stroke-width="1.5" fill="none"/><circle cx="1130.4" cy="785.7" r="1.3" fill="#000"/>
</g>
<text x="1184.3 1220.6" y="813.5" font-size="19.5" fill="#1e8cd2" text-anchor="middle" style="font-family:'Liberation Serif','Noto Serif CJK SC',serif" font-weight="500" >南海</text>
<text x="1200.5" y="919.3" font-size="13.2" fill="#222" style="font-family:'Liberation Serif','Noto Serif CJK SC',serif" textLength="54.5" lengthAdjust="spacingAndGlyphs" >南海诸岛</text>
<text x="1187.5" y="931.2" font-size="11.5" fill="#222" style="font-family:'Liberation Serif','Noto Serif CJK SC',serif" textLength="75" lengthAdjust="spacingAndGlyphs" >1:40 000 000</text>
<rect x="1084" y="710" width="196.5" height="225.5" fill="none" stroke="#000" stroke-width="1.6"/>
<rect x="11.5" y="634.5" width="215" height="299" fill="#fff" stroke="#555" stroke-width="1"/>
<text x="97.7 135.2" y="666.3" font-size="22" fill="#000" text-anchor="middle" style="font-family:'Liberation Serif','Noto Serif CJK SC',serif" font-weight="bold" >图例</text>
<text x="74" y="692.2" font-size="19.5" fill="#000" style="font-family:'Liberation Serif','Noto Serif CJK SC',serif" textLength="80.5" lengthAdjust="spacingAndGlyphs" >(单位:%)</text>
<rect x="21.5" y="701.5" width="60" height="18" fill="#0000ff" stroke="#111" stroke-width="1"/>
<text x="105.5 125.5 135.5 145.5" y="717" font-size="19.5" fill="#000" text-anchor="middle" style="font-family:'Liberation Serif','Noto Serif CJK SC',serif" >&gt;200</text>
<rect x="21.5" y="727.5" width="60" height="18" fill="#0090ff" stroke="#111" stroke-width="1"/>
<text x="105.5 115.5 125.5 150.5 175.5 185.5 195.5" y="743" font-size="19.5" fill="#000" text-anchor="middle" style="font-family:'Liberation Serif','Noto Serif CJK SC',serif" >100～200</text>
<rect x="21.5" y="752.5" width="60" height="18" fill="#00ffff" stroke="#111" stroke-width="1"/>
<text x="105.5 115.5 140.5 165.5 175.5 185.5" y="768" font-size="19.5" fill="#000" text-anchor="middle" style="font-family:'Liberation Serif','Noto Serif CJK SC',serif" >50～100</text>
<rect x="21.5" y="778.5" width="60" height="18" fill="#32c832" stroke="#111" stroke-width="1"/>
<text x="105.5 115.5 140.5 165.5 175.5" y="794" font-size="19.5" fill="#000" text-anchor="middle" style="font-family:'Liberation Serif','Noto Serif CJK SC',serif" >20～50</text>
<rect x="21.5" y="804.5" width="60" height="18" fill="#c8ffc8" stroke="#111" stroke-width="1"/>
<text x="105.5 130.5 155.5 165.5" y="820" font-size="19.5" fill="#000" text-anchor="middle" style="font-family:'Liberation Serif','Noto Serif CJK SC',serif" >0～20</text>
<rect x="21.5" y="829.5" width="60" height="18" fill="#ffff96" stroke="#111" stroke-width="1"/>
<text x="105.5 115.5 125.5 150.5 175.5" y="845" font-size="19.5" fill="#000" text-anchor="middle" style="font-family:'Liberation Serif','Noto Serif CJK SC',serif" >−20～0</text>
<rect x="21.5" y="855.5" width="60" height="18" fill="#ff9664" stroke="#111" stroke-width="1"/>
<text x="105.5 115.5 125.5 150.5 175.5 185.5 195.5" y="871" font-size="19.5" fill="#000" text-anchor="middle" style="font-family:'Liberation Serif','Noto Serif CJK SC',serif" >−50～−20</text>
<rect x="21.5" y="881.5" width="60" height="18" fill="#ff6464" stroke="#111" stroke-width="1"/>
<text x="105.5 115.5 125.5 150.5 175.5 185.5 195.5" y="897" font-size="19.5" fill="#000" text-anchor="middle" style="font-family:'Liberation Serif','Noto Serif CJK SC',serif" >−80～−50</text>
<rect x="21.5" y="906.5" width="60" height="18" fill="#ff0000" stroke="#111" stroke-width="1"/>
<text x="105.5 115.5 125.5 135.5 160.5 185.5 195.5 205.5" y="922" font-size="19.5" fill="#000" text-anchor="middle" style="font-family:'Liberation Serif','Noto Serif CJK SC',serif" >−100～−80</text>
<text x="468.6 500.6 532.6 564.6 596.6 628.6 660.6 692.6 724.6 756.6 788.6 820.6" y="72.3" font-size="30.5" fill="#000" text-anchor="middle" style="font-family:'Liberation Sans','Noto Sans CJK SC',sans-serif" >全国降水距平百分率分布图</text>
<text x="509.6" y="125" font-size="29.5" fill="#000" style="font-family:'Liberation Sans','Noto Sans CJK SC',sans-serif" textLength="58.5" lengthAdjust="spacingAndGlyphs" >2025</text>
<text x="596.6" y="125" font-size="29.5" fill="#000" style="font-family:'Liberation Sans','Noto Sans CJK SC',sans-serif" textLength="28.8" lengthAdjust="spacingAndGlyphs" >07</text>
<text x="652" y="125" font-size="29.5" fill="#000" style="font-family:'Liberation Sans','Noto Sans CJK SC',sans-serif" textLength="27.5" lengthAdjust="spacingAndGlyphs" >11</text>
<text x="718.2" y="125" font-size="29.5" fill="#000" style="font-family:'Liberation Sans','Noto Sans CJK SC',sans-serif" textLength="30.5" lengthAdjust="spacingAndGlyphs" >30</text>
<text x="704.6" y="124.2" font-size="29.5" fill="#000" style="font-family:'Liberation Sans','Noto Sans CJK SC',sans-serif" textLength="12" lengthAdjust="spacingAndGlyphs" >-</text>
<text x="583.8 638 692.7 764.2" y="125.2" font-size="26.5" fill="#000" text-anchor="middle" style="font-family:'Liberation Sans','Noto Sans CJK SC',sans-serif" >年月日日</text>
<text x="326" y="874.3" font-size="16.6" fill="#000" style="font-family:'Liberation Sans','Noto Sans CJK SC',sans-serif" textLength="106.5" lengthAdjust="spacingAndGlyphs" >国家气候中心</text>
<text x="277.6" y="901" font-size="16.6" fill="#000" style="font-family:'Liberation Sans','Noto Sans CJK SC',sans-serif" textLength="186.5" lengthAdjust="spacingAndGlyphs" >审图号:GS(2019)1786号</text>
<text x="297" y="925.3" font-size="16" fill="#000" style="font-family:'Liberation Sans','Noto Sans CJK SC',sans-serif" textLength="156.8" lengthAdjust="spacingAndGlyphs" >比例尺:1:20 000 000</text>
<g fill="none" stroke="#00007a" stroke-width="1.5">
<ellipse cx="95.0" cy="61.0" rx="49.5" ry="28"/>
<ellipse cx="97.5" cy="61.0" rx="28" ry="27.5" stroke-width="1.3"/>
<ellipse cx="97.5" cy="61.0" rx="13" ry="27.5" stroke-width="1.3"/>
<path stroke-width="1.3" d="M97.5 33.5V88.5"/>
<path stroke-width="1.3" d="M46 61.0H144"/>
<path stroke-width="1.3" d="M75 46Q97.5 40 120 46M75 76Q97.5 82 120 76M82 38Q97.5 34 113 38M82 84Q97.5 88 113 84"/>
<path stroke-width="1.6" stroke-linejoin="round" d="M58 52c-2 4-1 8 2 11l3-1c2 1 3 3 5 1l3 1 2-2 3 2 3-1 1-3-2-2 2-4 3-1 2-4-2-3 1-3-3-1-3 3-4 1-3-2-4 2-4 0-3 4-3 1z"/>
<path stroke-width="1.5" d="M76 68c1 4 3 5 6 4s2-4-1-3zM87 40c2-3 4-2 3 1s-1 6-3 8c-1 3 1 4 2 2"/>
</g>
<text x="94" y="73.2" font-size="32" font-weight="bold" font-style="italic" fill="#00007a" stroke="#00007a" stroke-width="1.7" stroke-linejoin="round" textLength="49" lengthAdjust="spacingAndGlyphs" style="font-family:'Liberation Sans',sans-serif">NCC</text>
<g transform="rotate(-6 80 28)"><text x="79.5" y="31.5" font-size="11" fill="#00007a" style="font-family:'Liberation Sans','Noto Sans CJK SC',sans-serif" font-weight="bold" text-anchor="middle" >中</text></g>
<g transform="rotate(6 115 28)"><text x="115.5" y="31.5" font-size="11" fill="#00007a" style="font-family:'Liberation Sans','Noto Sans CJK SC',sans-serif" font-weight="bold" text-anchor="middle" >国</text></g>
<path d="M124.7 35.2Q123.7 28.1 116.1 24.7Q117.9 32.8 124.7 35.2ZM124.7 35.2Q118.6 33.1 113 38.1Q120.3 39.9 124.7 35.2ZM138.2 42.4Q139.2 35.3 132.8 30Q132.3 38.3 138.2 42.4ZM138.2 42.4Q132.9 38.7 126.2 42.1Q132.7 45.7 138.2 42.4ZM147.3 51.8Q150.8 45.6 146.7 38.3Q143.3 45.9 147.3 51.8ZM147.3 51.8Q143.6 46.5 136.2 47.2Q140.9 53 147.3 51.8ZM150.9 62.5Q157 58.7 156.8 50.4Q150.2 55.4 150.9 62.5ZM150.9 62.5Q150.3 56.1 143.4 53.2Q144.8 60.5 150.9 62.5ZM148.8 73.4Q156 73 159.9 65.7Q151.7 66.8 148.8 73.4ZM148.8 73.4Q151.4 67.5 146.8 61.5Q144.5 68.6 148.8 73.4ZM141.2 83.3Q147.8 85.7 154.4 80.6Q146.4 78.4 141.2 83.3ZM141.2 83.3Q145.8 78.8 144 71.6Q139 77.2 141.2 83.3ZM128.7 91.2Q134.4 95.5 142.1 92.4Q135.1 88 128.7 91.2ZM128.7 91.2Q134.5 88.3 134.8 80.8Q128.4 84.7 128.7 91.2ZM112.8 96.2Q117.3 101.7 125.6 100.5Q119.7 94.6 112.8 96.2ZM112.8 96.2Q119 94.7 121 87.5Q113.9 89.9 112.8 96.2ZM98 98.5Q104 102.8 112.7 101.6Q105.2 97 98 98.5ZM65.3 35.2Q72.1 32.8 73.9 24.7Q66.3 28.1 65.3 35.2ZM65.3 35.2Q69.7 39.9 77 38.1Q71.4 33.1 65.3 35.2ZM51.8 42.4Q57.7 38.3 57.2 30Q50.8 35.3 51.8 42.4ZM51.8 42.4Q57.3 45.7 63.8 42.1Q57.1 38.7 51.8 42.4ZM42.7 51.8Q46.7 45.9 43.3 38.3Q39.2 45.6 42.7 51.8ZM42.7 51.8Q49.1 53 53.8 47.2Q46.4 46.5 42.7 51.8ZM39.1 62.5Q39.8 55.4 33.2 50.4Q33 58.7 39.1 62.5ZM39.1 62.5Q45.2 60.5 46.6 53.2Q39.7 56.1 39.1 62.5ZM41.2 73.4Q38.3 66.8 30.1 65.7Q34 73 41.2 73.4ZM41.2 73.4Q45.5 68.6 43.2 61.5Q38.6 67.5 41.2 73.4ZM48.8 83.3Q43.6 78.4 35.6 80.6Q42.2 85.7 48.8 83.3ZM48.8 83.3Q51 77.2 46 71.6Q44.2 78.8 48.8 83.3ZM61.3 91.2Q54.9 88 47.9 92.4Q55.6 95.5 61.3 91.2ZM61.3 91.2Q61.6 84.7 55.2 80.8Q55.5 88.3 61.3 91.2ZM77.2 96.2Q70.3 94.6 64.4 100.5Q72.7 101.7 77.2 96.2ZM77.2 96.2Q76.1 89.9 69 87.5Q71 94.7 77.2 96.2ZM92 98.5Q84.8 97 77.3 101.6Q86 102.8 92 98.5Z" fill="#00007a"/>
<path d="M86 96.5Q95 101 104 96.5" fill="none" stroke="#00007a" stroke-width="2.2"/>
<rect x="3.5" y="2.5" width="1284" height="939" fill="none" stroke="#000" stroke-width="3"/>
<path d="M8.5 936.5V7.5H1281.5" fill="none" stroke="#888" stroke-width="1"/>
<path d="M1282 7.5V937H8.5" fill="none" stroke="#222" stroke-width="1.4"/>
</svg>
</body></html>
